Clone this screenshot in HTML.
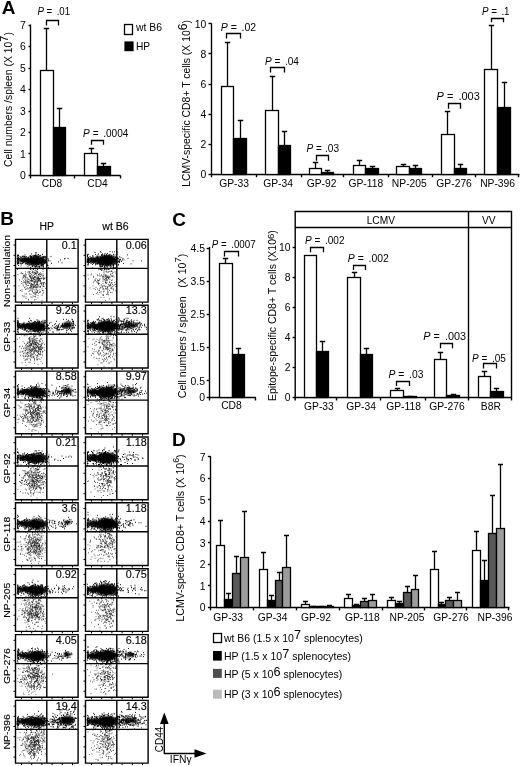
<!DOCTYPE html>
<html><head><meta charset="utf-8"><title>Figure</title>
<style>html,body{margin:0;padding:0;background:#fff}svg{display:block}text{font-family:"Liberation Sans", Arial, sans-serif;fill:#000}</style>
</head><body>
<svg width="520" height="766" viewBox="0 0 520 766">
<defs><filter id="bl" x="-20%" y="-50%" width="140%" height="200%"><feGaussianBlur stdDeviation="0.8"/></filter><filter id="bd" x="0" y="0" width="100%" height="100%"><feGaussianBlur stdDeviation="0.4"/></filter></defs>
<rect width="520" height="766" fill="#fff"/>
<text x="1.8" y="14" font-size="19" text-anchor="start" font-weight="bold">A</text>
<path d="M30.5 24.5L30.5 178.4" stroke="#000" stroke-width="1.4" fill="none"/>
<path d="M30 175.5L120.5 175.5" stroke="#000" stroke-width="1.4" fill="none"/>
<path d="M28.5 175.5L30.5 175.5" stroke="#000" stroke-width="1.4" fill="none"/>
<text x="25.9" y="178.9" font-size="10.4" text-anchor="end">0</text>
<path d="M28.5 153.5L30.5 153.5" stroke="#000" stroke-width="1.4" fill="none"/>
<text x="25.9" y="157.5" font-size="10.4" text-anchor="end">1</text>
<path d="M28.5 132.5L30.5 132.5" stroke="#000" stroke-width="1.4" fill="none"/>
<text x="25.9" y="136" font-size="10.4" text-anchor="end">2</text>
<path d="M28.5 111.5L30.5 111.5" stroke="#000" stroke-width="1.4" fill="none"/>
<text x="25.9" y="114.6" font-size="10.4" text-anchor="end">3</text>
<path d="M28.5 89.5L30.5 89.5" stroke="#000" stroke-width="1.4" fill="none"/>
<text x="25.9" y="93.1" font-size="10.4" text-anchor="end">4</text>
<path d="M28.5 68.5L30.5 68.5" stroke="#000" stroke-width="1.4" fill="none"/>
<text x="25.9" y="71.7" font-size="10.4" text-anchor="end">5</text>
<path d="M28.5 46.5L30.5 46.5" stroke="#000" stroke-width="1.4" fill="none"/>
<text x="25.9" y="50.2" font-size="10.4" text-anchor="end">6</text>
<path d="M28.5 25.5L30.5 25.5" stroke="#000" stroke-width="1.4" fill="none"/>
<text x="25.9" y="28.8" font-size="10.4" text-anchor="end">7</text>
<path d="M74.5 175.4L74.5 178.4" stroke="#000" stroke-width="1.4" fill="none"/>
<path d="M120.5 175.4L120.5 178.4" stroke="#000" stroke-width="1.4" fill="none"/>
<rect x="40.5" y="70.5" width="13" height="105" fill="#fff" stroke="#000" stroke-width="1.3"/>
<path d="M46.5 70.4V28.5M43.8 28.5H49.2" stroke="#000" stroke-width="1.3" fill="none"/>
<rect x="53.5" y="127.5" width="12" height="48" fill="#000" stroke="#000" stroke-width="1.3"/>
<path d="M59.5 127.9V108.5M56.8 108.5H62.2" stroke="#000" stroke-width="1.3" fill="none"/>
<rect x="84.5" y="153.5" width="13" height="22" fill="#fff" stroke="#000" stroke-width="1.3"/>
<path d="M91.5 153.4V148.5M88.8 148.5H94.2" stroke="#000" stroke-width="1.3" fill="none"/>
<rect x="97.5" y="166.5" width="13" height="9" fill="#000" stroke="#000" stroke-width="1.3"/>
<path d="M103.5 166.9V163.5M100.8 163.5H106.2" stroke="#000" stroke-width="1.3" fill="none"/>
<path d="M46.5 25.5V20.5H58.5V25.5" stroke="#000" stroke-width="1.3" fill="none"/>
<path d="M91.5 144.8V140.5H103.5V144.8" stroke="#000" stroke-width="1.3" fill="none"/>
<text transform="translate(37.4 15.1) scale(0.97 1)" font-size="10" text-anchor="start"><tspan font-style="italic">P</tspan> = <tspan dx="1.8">.01</tspan></text>
<text transform="translate(83.1 136.6) scale(1.009 1)" font-size="10" text-anchor="start"><tspan font-style="italic">P</tspan> = <tspan dx="1.8">.0004</tspan></text>
<text x="52" y="187.2" font-size="10.2" text-anchor="middle">CD8</text>
<text x="97.5" y="187.2" font-size="10.2" text-anchor="middle">CD4</text>
<text transform="translate(11.8 167) rotate(-90)" font-size="10.4" text-anchor="start">Cell numbers /spleen (X 10<tspan font-size="11" dy="-3.9">7</tspan><tspan dy="3.9">)</tspan></text>
<rect x="124.5" y="24.5" width="8" height="10" fill="#fff" stroke="#000" stroke-width="1.3"/>
<rect x="124.4" y="41.4" width="9.2" height="9.8" fill="#000"/>
<text transform="translate(136 31.2) scale(1.04 1)" font-size="10" text-anchor="start">wt B6</text>
<text x="136" y="49.8" font-size="10.2" text-anchor="start">HP</text>
<path d="M211.5 23.5L211.5 177.2" stroke="#000" stroke-width="1.4" fill="none"/>
<path d="M211.2 174.5L519.5 174.5" stroke="#000" stroke-width="1.4" fill="none"/>
<path d="M208.5 174.5L211.7 174.5" stroke="#000" stroke-width="1.4" fill="none"/>
<text x="206.3" y="177.8" font-size="10.4" text-anchor="end">0</text>
<path d="M208.5 144.5L211.7 144.5" stroke="#000" stroke-width="1.4" fill="none"/>
<text x="206.3" y="147.7" font-size="10.4" text-anchor="end">2</text>
<path d="M208.5 114.5L211.7 114.5" stroke="#000" stroke-width="1.4" fill="none"/>
<text x="206.3" y="117.7" font-size="10.4" text-anchor="end">4</text>
<path d="M208.5 84.5L211.7 84.5" stroke="#000" stroke-width="1.4" fill="none"/>
<text x="206.3" y="87.6" font-size="10.4" text-anchor="end">6</text>
<path d="M208.5 53.5L211.7 53.5" stroke="#000" stroke-width="1.4" fill="none"/>
<text x="206.3" y="57.6" font-size="10.4" text-anchor="end">8</text>
<path d="M208.5 23.5L211.7 23.5" stroke="#000" stroke-width="1.4" fill="none"/>
<text x="206.3" y="27.5" font-size="10.4" text-anchor="end">10</text>
<path d="M256.5 174.2L256.5 177.2" stroke="#000" stroke-width="1.4" fill="none"/>
<path d="M301.5 174.2L301.5 177.2" stroke="#000" stroke-width="1.4" fill="none"/>
<path d="M343.5 174.2L343.5 177.2" stroke="#000" stroke-width="1.4" fill="none"/>
<path d="M388.5 174.2L388.5 177.2" stroke="#000" stroke-width="1.4" fill="none"/>
<path d="M432.5 174.2L432.5 177.2" stroke="#000" stroke-width="1.4" fill="none"/>
<path d="M475.5 174.2L475.5 177.2" stroke="#000" stroke-width="1.4" fill="none"/>
<path d="M518.5 174.2L518.5 177.2" stroke="#000" stroke-width="1.4" fill="none"/>
<rect x="221.5" y="86.5" width="12" height="88" fill="#fff" stroke="#000" stroke-width="1.3"/>
<path d="M227.5 86.6V42.5M224.8 42.5H230.2" stroke="#000" stroke-width="1.3" fill="none"/>
<rect x="233.5" y="138.5" width="13" height="36" fill="#000" stroke="#000" stroke-width="1.3"/>
<path d="M240.5 138.5V120.5M237.8 120.5H243.2" stroke="#000" stroke-width="1.3" fill="none"/>
<text x="234.1" y="187.2" font-size="10.3" text-anchor="middle">GP-33</text>
<rect x="265.5" y="110.5" width="13" height="64" fill="#fff" stroke="#000" stroke-width="1.3"/>
<path d="M272.5 110V76.5M269.8 76.5H275.2" stroke="#000" stroke-width="1.3" fill="none"/>
<rect x="278.5" y="145.5" width="12" height="29" fill="#000" stroke="#000" stroke-width="1.3"/>
<path d="M284.5 145.2V131.5M281.8 131.5H287.2" stroke="#000" stroke-width="1.3" fill="none"/>
<text x="278.1" y="187.2" font-size="10.3" text-anchor="middle">GP-34</text>
<rect x="309.5" y="168.5" width="12" height="6" fill="#fff" stroke="#000" stroke-width="1.3"/>
<path d="M315.5 168.3V162.5M312.8 162.5H318.2" stroke="#000" stroke-width="1.3" fill="none"/>
<rect x="321.5" y="172.5" width="12" height="2" fill="#000" stroke="#000" stroke-width="1.3"/>
<path d="M327.5 172.8V170.5M324.8 170.5H330.2" stroke="#000" stroke-width="1.3" fill="none"/>
<text x="321.6" y="187.2" font-size="10.3" text-anchor="middle">GP-92</text>
<rect x="353.5" y="165.5" width="12" height="9" fill="#fff" stroke="#000" stroke-width="1.3"/>
<path d="M359.5 165.6V160.5M356.8 160.5H362.2" stroke="#000" stroke-width="1.3" fill="none"/>
<rect x="365.5" y="168.5" width="13" height="6" fill="#000" stroke="#000" stroke-width="1.3"/>
<path d="M372.5 168.3V166.5M369.8 166.5H375.2" stroke="#000" stroke-width="1.3" fill="none"/>
<text x="365.8" y="187.2" font-size="10.3" text-anchor="middle">GP-118</text>
<rect x="396.5" y="166.5" width="13" height="8" fill="#fff" stroke="#000" stroke-width="1.3"/>
<path d="M403.5 167V164.5M400.8 164.5H406.2" stroke="#000" stroke-width="1.3" fill="none"/>
<rect x="409.5" y="168.5" width="12" height="6" fill="#000" stroke="#000" stroke-width="1.3"/>
<path d="M415.5 168.3V165.5M412.8 165.5H418.2" stroke="#000" stroke-width="1.3" fill="none"/>
<text x="409.3" y="187.2" font-size="10.3" text-anchor="middle">NP-205</text>
<rect x="441.5" y="134.5" width="13" height="40" fill="#fff" stroke="#000" stroke-width="1.3"/>
<path d="M447.5 134.3V111.5M444.8 111.5H450.2" stroke="#000" stroke-width="1.3" fill="none"/>
<rect x="454.5" y="168.5" width="12" height="6" fill="#000" stroke="#000" stroke-width="1.3"/>
<path d="M460.5 168.3V164.5M457.8 164.5H463.2" stroke="#000" stroke-width="1.3" fill="none"/>
<text x="454.1" y="187.2" font-size="10.3" text-anchor="middle">GP-276</text>
<rect x="484.5" y="69.5" width="13" height="105" fill="#fff" stroke="#000" stroke-width="1.3"/>
<path d="M491.5 69.3V25.5M488.8 25.5H494.2" stroke="#000" stroke-width="1.3" fill="none"/>
<rect x="497.5" y="107.5" width="13" height="67" fill="#000" stroke="#000" stroke-width="1.3"/>
<path d="M504.5 107.8V82.5M501.8 82.5H507.2" stroke="#000" stroke-width="1.3" fill="none"/>
<text x="497.6" y="187.2" font-size="10.3" text-anchor="middle">NP-396</text>
<path d="M226.5 38.6V33.5H240.5V38.6" stroke="#000" stroke-width="1.3" fill="none"/>
<text transform="translate(220.7 30.6) scale(1.053 1)" font-size="10" text-anchor="start"><tspan font-style="italic">P</tspan> = <tspan dx="1.8">.02</tspan></text>
<path d="M270.5 72.6V67.5H284.5V72.6" stroke="#000" stroke-width="1.3" fill="none"/>
<text transform="translate(264.9 64.6) scale(1.007 1)" font-size="10" text-anchor="start"><tspan font-style="italic">P</tspan> = <tspan dx="1.8">.04</tspan></text>
<path d="M316.5 160.7V155.5H328.5V160.7" stroke="#000" stroke-width="1.3" fill="none"/>
<text transform="translate(306.5 152) scale(1.011 1)" font-size="10" text-anchor="start"><tspan font-style="italic">P</tspan> = <tspan dx="0.3">.03</tspan></text>
<path d="M448.5 108.8V103.5H460.5V108.8" stroke="#000" stroke-width="1.3" fill="none"/>
<text transform="translate(436.6 99.8) scale(1.1 1)" font-size="10" text-anchor="start"><tspan font-style="italic">P</tspan> = <tspan dx="1.8">.003</tspan></text>
<path d="M491.5 22.2V18.5H503.5V22.2" stroke="#000" stroke-width="1.3" fill="none"/>
<text transform="translate(481.9 14.7) scale(0.981 1)" font-size="10" text-anchor="start"><tspan font-style="italic">P</tspan> = <tspan dx="1.8">.1</tspan></text>
<text transform="translate(190.4 186.7) rotate(-90)" font-size="10.4" text-anchor="start">LCMV-specific CD8+ T cells (X 10<tspan font-size="12" dy="-3.1">6</tspan><tspan dy="3.1">)</tspan></text>
<text x="172.3" y="226.2" font-size="19" text-anchor="start" font-weight="bold">C</text>
<path d="M209.5 247L209.5 400.5" stroke="#000" stroke-width="1.4" fill="none"/>
<path d="M209.2 397.5L256 397.5" stroke="#000" stroke-width="1.4" fill="none"/>
<path d="M255.5 397.5L255.5 400.5" stroke="#000" stroke-width="1.4" fill="none"/>
<path d="M206.7 397.5L209.7 397.5" stroke="#000" stroke-width="1.4" fill="none"/>
<text x="205" y="401.1" font-size="10.4" text-anchor="end">0</text>
<path d="M206.7 380.5L209.7 380.5" stroke="#000" stroke-width="1.4" fill="none"/>
<text x="205" y="384.5" font-size="10.4" text-anchor="end">0.5</text>
<path d="M206.7 347.5L209.7 347.5" stroke="#000" stroke-width="1.4" fill="none"/>
<text x="205" y="351.3" font-size="10.4" text-anchor="end">1.5</text>
<path d="M206.7 314.5L209.7 314.5" stroke="#000" stroke-width="1.4" fill="none"/>
<text x="205" y="318.1" font-size="10.4" text-anchor="end">2.5</text>
<path d="M206.7 281.5L209.7 281.5" stroke="#000" stroke-width="1.4" fill="none"/>
<text x="205" y="284.9" font-size="10.4" text-anchor="end">3.5</text>
<path d="M206.7 248.5L209.7 248.5" stroke="#000" stroke-width="1.4" fill="none"/>
<text x="205" y="251.7" font-size="10.4" text-anchor="end">4.5</text>
<rect x="219.5" y="263.5" width="13" height="134" fill="#fff" stroke="#000" stroke-width="1.3"/>
<path d="M225.5 263.4V258.5M222.8 258.5H228.2" stroke="#000" stroke-width="1.3" fill="none"/>
<rect x="232.5" y="354.5" width="12" height="43" fill="#000" stroke="#000" stroke-width="1.3"/>
<path d="M238.5 354.3V348.5M235.8 348.5H241.2" stroke="#000" stroke-width="1.3" fill="none"/>
<path d="M224.5 256.5V251.5H238.5V256.5" stroke="#000" stroke-width="1.3" fill="none"/>
<text transform="translate(211.8 248.3) scale(0.977 1)" font-size="10" text-anchor="start"><tspan font-style="italic">P</tspan> = <tspan dx="1.8">.0007</tspan></text>
<text x="231.5" y="409.4" font-size="10.3" text-anchor="middle">CD8</text>
<text transform="translate(186.3 398.2) rotate(-90) scale(1.012 1)" font-size="10.4" text-anchor="start" xml:space="preserve">Cell numbers / spleen   (X 10<tspan font-size="9.5" dy="-5">7</tspan><tspan dy="5">)</tspan></text>
<text transform="translate(276 401) rotate(-90) scale(1.01 1)" font-size="10.4" text-anchor="start">Epitope-specific CD8+ T cells (X10<tspan font-size="9.5" dy="-2.2">6</tspan><tspan dy="2.2">)</tspan></text>
<path d="M295.2 400.5V211.5H511.5V397.5M295.2 227.5H511.5M468.5 211.5V400.5" stroke="#000" stroke-width="1.4" fill="none"/>
<path d="M294.7 397.5L511.7 397.5" stroke="#000" stroke-width="1.4" fill="none"/>
<text x="380.8" y="223.7" font-size="10.2" text-anchor="middle">LCMV</text>
<text x="488.8" y="223.7" font-size="10.2" text-anchor="middle">VV</text>
<path d="M292.6 397.5L295.2 397.5" stroke="#000" stroke-width="1.4" fill="none"/>
<text x="290.6" y="401.1" font-size="10.4" text-anchor="end">0</text>
<path d="M292.6 367.5L295.2 367.5" stroke="#000" stroke-width="1.4" fill="none"/>
<text x="290.6" y="371.1" font-size="10.4" text-anchor="end">2</text>
<path d="M292.6 337.5L295.2 337.5" stroke="#000" stroke-width="1.4" fill="none"/>
<text x="290.6" y="341.1" font-size="10.4" text-anchor="end">4</text>
<path d="M292.6 307.5L295.2 307.5" stroke="#000" stroke-width="1.4" fill="none"/>
<text x="290.6" y="311.1" font-size="10.4" text-anchor="end">6</text>
<path d="M292.6 277.5L295.2 277.5" stroke="#000" stroke-width="1.4" fill="none"/>
<text x="290.6" y="281.1" font-size="10.4" text-anchor="end">8</text>
<path d="M292.6 247.5L295.2 247.5" stroke="#000" stroke-width="1.4" fill="none"/>
<text x="290.6" y="251.1" font-size="10.4" text-anchor="end">10</text>
<path d="M336.5 397.5L336.5 400.5" stroke="#000" stroke-width="1.4" fill="none"/>
<path d="M380.5 397.5L380.5 400.5" stroke="#000" stroke-width="1.4" fill="none"/>
<path d="M425.5 397.5L425.5 400.5" stroke="#000" stroke-width="1.4" fill="none"/>
<path d="M511.5 397.5L511.5 400.5" stroke="#000" stroke-width="1.4" fill="none"/>
<rect x="304.5" y="255.5" width="12" height="142" fill="#fff" stroke="#000" stroke-width="1.3"/>
<rect x="316.5" y="351.5" width="12" height="46" fill="#000" stroke="#000" stroke-width="1.3"/>
<path d="M322.5 351.5V341.5M319.8 341.5H325.2" stroke="#000" stroke-width="1.3" fill="none"/>
<text x="318.9" y="409.8" font-size="10.3" text-anchor="middle">GP-33</text>
<rect x="347.5" y="277.5" width="13" height="120" fill="#fff" stroke="#000" stroke-width="1.3"/>
<path d="M354.5 277.6V272.5M351.8 272.5H357.2" stroke="#000" stroke-width="1.3" fill="none"/>
<rect x="360.5" y="354.5" width="12" height="43" fill="#000" stroke="#000" stroke-width="1.3"/>
<path d="M366.5 354.4V348.5M363.8 348.5H369.2" stroke="#000" stroke-width="1.3" fill="none"/>
<text x="361.1" y="409.8" font-size="10.3" text-anchor="middle">GP-34</text>
<rect x="390.5" y="390.5" width="13" height="7" fill="#fff" stroke="#000" stroke-width="1.3"/>
<path d="M397.5 390.4V388.5M394.8 388.5H400.2" stroke="#000" stroke-width="1.3" fill="none"/>
<rect x="403.5" y="396.5" width="13" height="1" fill="#000" stroke="#000" stroke-width="1.3"/>
<path d="M410.5 396.6V396.5M407.8 396.5H413.2" stroke="#000" stroke-width="1.3" fill="none"/>
<text x="403.6" y="409.8" font-size="10.3" text-anchor="middle">GP-118</text>
<rect x="434.5" y="359.5" width="12" height="38" fill="#fff" stroke="#000" stroke-width="1.3"/>
<path d="M440.5 359.6V352.5M437.8 352.5H443.2" stroke="#000" stroke-width="1.3" fill="none"/>
<rect x="446.5" y="395.5" width="13" height="2" fill="#000" stroke="#000" stroke-width="1.3"/>
<path d="M453.5 395.4V394.5M450.8 394.5H456.2" stroke="#000" stroke-width="1.3" fill="none"/>
<text x="446.9" y="409.8" font-size="10.3" text-anchor="middle">GP-276</text>
<rect x="478.5" y="376.5" width="12" height="21" fill="#fff" stroke="#000" stroke-width="1.3"/>
<path d="M484.5 376.9V371.5M481.8 371.5H487.2" stroke="#000" stroke-width="1.3" fill="none"/>
<rect x="490.5" y="391.5" width="13" height="6" fill="#000" stroke="#000" stroke-width="1.3"/>
<path d="M496.5 391.7V388.5M493.8 388.5H499.2" stroke="#000" stroke-width="1.3" fill="none"/>
<text x="490.8" y="409.8" font-size="10.3" text-anchor="middle">B8R</text>
<path d="M310.5 252.2V247.5H323.5V252.2" stroke="#000" stroke-width="1.3" fill="none"/>
<text transform="translate(305 244) scale(1.007 1)" font-size="10" text-anchor="start"><tspan font-style="italic">P</tspan> = <tspan dx="1.8">.002</tspan></text>
<path d="M353.5 269.9V265.5H365.5V269.9" stroke="#000" stroke-width="1.3" fill="none"/>
<text transform="translate(347.8 261.5) scale(1.043 1)" font-size="10" text-anchor="start"><tspan font-style="italic">P</tspan> = <tspan dx="1.8">.002</tspan></text>
<path d="M396.5 385.9V381.5H409.5V385.9" stroke="#000" stroke-width="1.3" fill="none"/>
<text transform="translate(388.5 378.3) scale(1.034 1)" font-size="10" text-anchor="start"><tspan font-style="italic">P</tspan> = <tspan dx="1.8">.03</tspan></text>
<path d="M440.5 348.2V343.5H452.5V348.2" stroke="#000" stroke-width="1.3" fill="none"/>
<text transform="translate(423.3 339.8) scale(1.088 1)" font-size="10" text-anchor="start"><tspan font-style="italic">P</tspan> = <tspan dx="1.8">.003</tspan></text>
<path d="M483.5 368.6V363.5H496.5V368.6" stroke="#000" stroke-width="1.3" fill="none"/>
<text transform="translate(472.1 361.6) scale(1.001 1)" font-size="10" text-anchor="start"><tspan font-style="italic">P</tspan> = <tspan dx="1.8">.05</tspan></text>
<text x="171.9" y="445.6" font-size="19" text-anchor="start" font-weight="bold">D</text>
<path d="M210.5 456.5L210.5 610.4" stroke="#000" stroke-width="1.4" fill="none"/>
<path d="M210.4 607.5L509.5 607.5" stroke="#000" stroke-width="1.4" fill="none"/>
<path d="M207.9 607.5L210.9 607.5" stroke="#000" stroke-width="1.4" fill="none"/>
<text x="205.5" y="611" font-size="10.4" text-anchor="end">0</text>
<path d="M207.9 585.5L210.9 585.5" stroke="#000" stroke-width="1.4" fill="none"/>
<text x="205.5" y="589.5" font-size="10.4" text-anchor="end">1</text>
<path d="M207.9 564.5L210.9 564.5" stroke="#000" stroke-width="1.4" fill="none"/>
<text x="205.5" y="568" font-size="10.4" text-anchor="end">2</text>
<path d="M207.9 542.5L210.9 542.5" stroke="#000" stroke-width="1.4" fill="none"/>
<text x="205.5" y="546.5" font-size="10.4" text-anchor="end">3</text>
<path d="M207.9 521.5L210.9 521.5" stroke="#000" stroke-width="1.4" fill="none"/>
<text x="205.5" y="525" font-size="10.4" text-anchor="end">4</text>
<path d="M207.9 499.5L210.9 499.5" stroke="#000" stroke-width="1.4" fill="none"/>
<text x="205.5" y="503.5" font-size="10.4" text-anchor="end">5</text>
<path d="M207.9 478.5L210.9 478.5" stroke="#000" stroke-width="1.4" fill="none"/>
<text x="205.5" y="482" font-size="10.4" text-anchor="end">6</text>
<path d="M207.9 456.5L210.9 456.5" stroke="#000" stroke-width="1.4" fill="none"/>
<text x="205.5" y="460.5" font-size="10.4" text-anchor="end">7</text>
<path d="M253.5 607.4L253.5 610.4" stroke="#000" stroke-width="1.4" fill="none"/>
<path d="M296.5 607.4L296.5 610.4" stroke="#000" stroke-width="1.4" fill="none"/>
<path d="M339.5 607.4L339.5 610.4" stroke="#000" stroke-width="1.4" fill="none"/>
<path d="M382.5 607.4L382.5 610.4" stroke="#000" stroke-width="1.4" fill="none"/>
<path d="M424.5 607.4L424.5 610.4" stroke="#000" stroke-width="1.4" fill="none"/>
<path d="M466.5 607.4L466.5 610.4" stroke="#000" stroke-width="1.4" fill="none"/>
<path d="M508.5 607.4L508.5 610.4" stroke="#000" stroke-width="1.4" fill="none"/>
<rect x="216.5" y="545.5" width="8" height="62" fill="#fff" stroke="#000" stroke-width="1.3"/>
<rect x="224.5" y="599.5" width="8" height="8" fill="#000" stroke="#000" stroke-width="1.3"/>
<rect x="232.5" y="573.5" width="8" height="34" fill="#595959" stroke="#000" stroke-width="1.3"/>
<rect x="240.5" y="557.5" width="8" height="50" fill="#9c9c9c" stroke="#000" stroke-width="1.3"/>
<path d="M220.5 545.3V520.5M218 520.5H223" stroke="#000" stroke-width="1.3" fill="none"/>
<path d="M228.5 599.3V593.5M226 593.5H231" stroke="#000" stroke-width="1.3" fill="none"/>
<path d="M236.5 573.3V556.5M234 556.5H239" stroke="#000" stroke-width="1.3" fill="none"/>
<path d="M244.5 557.4V511.5M242 511.5H247" stroke="#000" stroke-width="1.3" fill="none"/>
<text x="228.2" y="621.2" font-size="10.3" text-anchor="middle">GP-33</text>
<rect x="259.5" y="569.5" width="8" height="38" fill="#fff" stroke="#000" stroke-width="1.3"/>
<rect x="267.5" y="600.5" width="8" height="7" fill="#000" stroke="#000" stroke-width="1.3"/>
<rect x="275.5" y="580.5" width="7" height="27" fill="#595959" stroke="#000" stroke-width="1.3"/>
<rect x="282.5" y="567.5" width="8" height="40" fill="#9c9c9c" stroke="#000" stroke-width="1.3"/>
<path d="M263.5 569.9V552.5M261 552.5H266" stroke="#000" stroke-width="1.3" fill="none"/>
<path d="M271.5 601V595.5M269 595.5H274" stroke="#000" stroke-width="1.3" fill="none"/>
<path d="M279.5 581V572.5M277 572.5H282" stroke="#000" stroke-width="1.3" fill="none"/>
<path d="M286.5 567.8V535.5M284 535.5H289" stroke="#000" stroke-width="1.3" fill="none"/>
<text x="272.7" y="621.2" font-size="10.3" text-anchor="middle">GP-34</text>
<rect x="301.5" y="604.5" width="8" height="3" fill="#fff" stroke="#000" stroke-width="1.3"/>
<rect x="309.5" y="606.5" width="8" height="1" fill="#000" stroke="#000" stroke-width="1.3"/>
<rect x="317.5" y="606.5" width="8" height="1" fill="#595959" stroke="#000" stroke-width="1.3"/>
<rect x="325.5" y="606.5" width="8" height="1" fill="#9c9c9c" stroke="#000" stroke-width="1.3"/>
<path d="M305.5 604.5V601.5M303 601.5H308" stroke="#000" stroke-width="1.3" fill="none"/>
<path d="M313.5 606.8V606.5M311 606.5H316" stroke="#000" stroke-width="1.3" fill="none"/>
<path d="M321.5 606.9V606.5M319 606.5H324" stroke="#000" stroke-width="1.3" fill="none"/>
<path d="M329.5 606.5V605.5M327 605.5H332" stroke="#000" stroke-width="1.3" fill="none"/>
<text x="316" y="621.2" font-size="10.3" text-anchor="middle">GP-92</text>
<rect x="344.5" y="598.5" width="8" height="9" fill="#fff" stroke="#000" stroke-width="1.3"/>
<rect x="352.5" y="605.5" width="8" height="2" fill="#000" stroke="#000" stroke-width="1.3"/>
<rect x="360.5" y="601.5" width="8" height="6" fill="#595959" stroke="#000" stroke-width="1.3"/>
<rect x="368.5" y="600.5" width="8" height="7" fill="#9c9c9c" stroke="#000" stroke-width="1.3"/>
<path d="M348.5 599V594.5M346 594.5H351" stroke="#000" stroke-width="1.3" fill="none"/>
<path d="M356.5 605.2V604.5M354 604.5H359" stroke="#000" stroke-width="1.3" fill="none"/>
<path d="M364.5 601.6V598.5M362 598.5H367" stroke="#000" stroke-width="1.3" fill="none"/>
<path d="M372.5 600.1V594.5M370 594.5H375" stroke="#000" stroke-width="1.3" fill="none"/>
<text x="362.3" y="621.2" font-size="10.3" text-anchor="middle">GP-118</text>
<rect x="387.5" y="600.5" width="8" height="7" fill="#fff" stroke="#000" stroke-width="1.3"/>
<rect x="395.5" y="603.5" width="8" height="4" fill="#000" stroke="#000" stroke-width="1.3"/>
<rect x="403.5" y="592.5" width="8" height="15" fill="#595959" stroke="#000" stroke-width="1.3"/>
<rect x="411.5" y="589.5" width="7" height="18" fill="#9c9c9c" stroke="#000" stroke-width="1.3"/>
<path d="M391.5 600V597.5M389 597.5H394" stroke="#000" stroke-width="1.3" fill="none"/>
<path d="M399.5 603.4V601.5M397 601.5H402" stroke="#000" stroke-width="1.3" fill="none"/>
<path d="M407.5 592.8V586.5M405 586.5H410" stroke="#000" stroke-width="1.3" fill="none"/>
<path d="M415.5 589.9V575.5M413 575.5H418" stroke="#000" stroke-width="1.3" fill="none"/>
<text x="407" y="621.2" font-size="10.3" text-anchor="middle">NP-205</text>
<rect x="430.5" y="569.5" width="8" height="38" fill="#fff" stroke="#000" stroke-width="1.3"/>
<rect x="438.5" y="604.5" width="7" height="3" fill="#000" stroke="#000" stroke-width="1.3"/>
<rect x="445.5" y="600.5" width="8" height="7" fill="#595959" stroke="#000" stroke-width="1.3"/>
<rect x="453.5" y="600.5" width="8" height="7" fill="#9c9c9c" stroke="#000" stroke-width="1.3"/>
<path d="M434.5 569.8V551.5M432 551.5H437" stroke="#000" stroke-width="1.3" fill="none"/>
<path d="M441.5 604.5V602.5M439 602.5H444" stroke="#000" stroke-width="1.3" fill="none"/>
<path d="M449.5 600V597.5M447 597.5H452" stroke="#000" stroke-width="1.3" fill="none"/>
<path d="M457.5 600V592.5M455 592.5H460" stroke="#000" stroke-width="1.3" fill="none"/>
<text x="451.1" y="621.2" font-size="10.3" text-anchor="middle">GP-276</text>
<rect x="472.5" y="550.5" width="8" height="57" fill="#fff" stroke="#000" stroke-width="1.3"/>
<rect x="480.5" y="580.5" width="8" height="27" fill="#000" stroke="#000" stroke-width="1.3"/>
<rect x="488.5" y="533.5" width="8" height="74" fill="#595959" stroke="#000" stroke-width="1.3"/>
<rect x="496.5" y="528.5" width="8" height="79" fill="#9c9c9c" stroke="#000" stroke-width="1.3"/>
<path d="M476.5 550.8V531.5M474 531.5H479" stroke="#000" stroke-width="1.3" fill="none"/>
<path d="M484.5 580V560.5M482 560.5H487" stroke="#000" stroke-width="1.3" fill="none"/>
<path d="M492.5 533.3V495.5M490 495.5H495" stroke="#000" stroke-width="1.3" fill="none"/>
<path d="M500.5 528.9V464.5M498 464.5H503" stroke="#000" stroke-width="1.3" fill="none"/>
<text x="495" y="621.2" font-size="10.3" text-anchor="middle">NP-396</text>
<text transform="translate(183.7 621.6) rotate(-90) scale(1.015 1)" font-size="10.4" text-anchor="start">LCMV-specific CD8+ T cells (X 10<tspan font-size="8.8" dy="-5.2">6</tspan><tspan dy="5.2">)</tspan></text>
<rect x="213.5" y="633.5" width="8" height="9" fill="#fff" stroke="#000" stroke-width="1.3"/>
<rect x="213" y="651" width="8.8" height="9.6" fill="#000"/>
<rect x="213" y="668.9" width="8.8" height="9" fill="#4e4e4e"/>
<rect x="213" y="689.7" width="8.8" height="9" fill="#bababa"/>
<text transform="translate(223.9 641.5) scale(1.02 1)" font-size="10.3" text-anchor="start">wt B6 (1.5 x 10<tspan font-size="12.5" dy="-2.3">7</tspan><tspan dy="2.3"> splenocytes)</tspan></text>
<text transform="translate(224 659.8) scale(1.02 1)" font-size="10.3" text-anchor="start">HP (1.5 x 10<tspan font-size="12.5" dy="-2.3">7</tspan><tspan dy="2.3"> splenocytes)</tspan></text>
<text transform="translate(224 677.8) scale(1.02 1)" font-size="10.3" text-anchor="start">HP (5 x 10<tspan font-size="12.5" dy="-2.3">6</tspan><tspan dy="2.3"> splenocytes)</tspan></text>
<text transform="translate(224 697.9) scale(1.02 1)" font-size="10.3" text-anchor="start">HP (3 x 10<tspan font-size="12.5" dy="-2.3">6</tspan><tspan dy="2.3"> splenocytes)</tspan></text>
<path d="M164.3 723V753.5H195" stroke="#000" stroke-width="1.4" fill="none"/>
<path d="M164.3 712.5L160 724H168.6Z" fill="#000"/>
<path d="M206.5 753.5L194.5 749.2V757.8Z" fill="#000"/>
<text transform="translate(162.5 752.3) rotate(-90)" font-size="10" text-anchor="start">CD44</text>
<text x="169.8" y="763.3" font-size="10.3" text-anchor="start">IFNγ</text>
<text x="0.2" y="225" font-size="19" text-anchor="start" font-weight="bold">B</text>
<text transform="translate(46.8 229.8) scale(1.04 1)" font-size="10" text-anchor="middle" stroke="#000" stroke-width="0.12">HP</text>
<text transform="translate(115.5 229.8) scale(1.06 1)" font-size="10" text-anchor="middle" stroke="#000" stroke-width="0.12">wt B6</text>
<path d="M15.5 239.4H78.1V302.1H15.5ZM46.8 239.4V302.1M15.5 268.4H78.1" stroke="#000" stroke-width="1.4" fill="none"/>
<path d="M13.5 296.1h2M13.5 285.9h2M13.5 275.7h2M13.5 265.5h2M13.5 255.3h2M13.5 245.1h2M21.5 302.1v2M31.7 302.1v2M41.9 302.1v2M52.1 302.1v2M62.3 302.1v2M72.5 302.1v2" stroke="#000" stroke-width="1" fill="none"/>
<text transform="translate(76.8 248.5) scale(1.08 1)" font-size="10" text-anchor="end" stroke="#000" stroke-width="0.12">0.1</text>
<path d="M85.5 239.4H148.1V302.1H85.5ZM116.8 239.4V302.1M85.5 268.4H148.1" stroke="#000" stroke-width="1.4" fill="none"/>
<path d="M83.5 296.1h2M83.5 285.9h2M83.5 275.7h2M83.5 265.5h2M83.5 255.3h2M83.5 245.1h2M91.5 302.1v2M101.7 302.1v2M111.9 302.1v2M122.1 302.1v2M132.3 302.1v2M142.5 302.1v2" stroke="#000" stroke-width="1" fill="none"/>
<text transform="translate(146.8 248.5) scale(1.08 1)" font-size="10" text-anchor="end" stroke="#000" stroke-width="0.12">0.06</text>
<text transform="translate(10.2 270.9) rotate(-90) scale(1.06 1)" font-size="9.8" text-anchor="middle" stroke="#000" stroke-width="0.12">Non-stimulation</text>
<path d="M15.5 305.3H78.1V368H15.5ZM46.8 305.3V368M15.5 334.3H78.1" stroke="#000" stroke-width="1.4" fill="none"/>
<path d="M13.5 362h2M13.5 351.8h2M13.5 341.6h2M13.5 331.4h2M13.5 321.2h2M13.5 311h2M21.5 368v2M31.7 368v2M41.9 368v2M52.1 368v2M62.3 368v2M72.5 368v2" stroke="#000" stroke-width="1" fill="none"/>
<text transform="translate(76.8 314.4) scale(1.08 1)" font-size="10" text-anchor="end" stroke="#000" stroke-width="0.12">9.26</text>
<path d="M85.5 305.3H148.1V368H85.5ZM116.8 305.3V368M85.5 334.3H148.1" stroke="#000" stroke-width="1.4" fill="none"/>
<path d="M83.5 362h2M83.5 351.8h2M83.5 341.6h2M83.5 331.4h2M83.5 321.2h2M83.5 311h2M91.5 368v2M101.7 368v2M111.9 368v2M122.1 368v2M132.3 368v2M142.5 368v2" stroke="#000" stroke-width="1" fill="none"/>
<text transform="translate(146.8 314.4) scale(1.08 1)" font-size="10" text-anchor="end" stroke="#000" stroke-width="0.12">13.3</text>
<text transform="translate(10.2 336.8) rotate(-90) scale(1.06 1)" font-size="9.8" text-anchor="middle" stroke="#000" stroke-width="0.12">GP-33</text>
<path d="M15.5 371.1H78.1V433.8H15.5ZM46.8 371.1V433.8M15.5 400.1H78.1" stroke="#000" stroke-width="1.4" fill="none"/>
<path d="M13.5 427.8h2M13.5 417.6h2M13.5 407.4h2M13.5 397.2h2M13.5 387h2M13.5 376.8h2M21.5 433.8v2M31.7 433.8v2M41.9 433.8v2M52.1 433.8v2M62.3 433.8v2M72.5 433.8v2" stroke="#000" stroke-width="1" fill="none"/>
<text transform="translate(76.8 380.2) scale(1.08 1)" font-size="10" text-anchor="end" stroke="#000" stroke-width="0.12">8.58</text>
<path d="M85.5 371.1H148.1V433.8H85.5ZM116.8 371.1V433.8M85.5 400.1H148.1" stroke="#000" stroke-width="1.4" fill="none"/>
<path d="M83.5 427.8h2M83.5 417.6h2M83.5 407.4h2M83.5 397.2h2M83.5 387h2M83.5 376.8h2M91.5 433.8v2M101.7 433.8v2M111.9 433.8v2M122.1 433.8v2M132.3 433.8v2M142.5 433.8v2" stroke="#000" stroke-width="1" fill="none"/>
<text transform="translate(146.8 380.2) scale(1.08 1)" font-size="10" text-anchor="end" stroke="#000" stroke-width="0.12">9.97</text>
<text transform="translate(10.2 402.6) rotate(-90) scale(1.06 1)" font-size="9.8" text-anchor="middle" stroke="#000" stroke-width="0.12">GP-34</text>
<path d="M15.5 437H78.1V499.7H15.5ZM46.8 437V499.7M15.5 466H78.1" stroke="#000" stroke-width="1.4" fill="none"/>
<path d="M13.5 493.7h2M13.5 483.5h2M13.5 473.3h2M13.5 463.1h2M13.5 452.9h2M13.5 442.7h2M21.5 499.7v2M31.7 499.7v2M41.9 499.7v2M52.1 499.7v2M62.3 499.7v2M72.5 499.7v2" stroke="#000" stroke-width="1" fill="none"/>
<text transform="translate(76.8 446.1) scale(1.08 1)" font-size="10" text-anchor="end" stroke="#000" stroke-width="0.12">0.21</text>
<path d="M85.5 437H148.1V499.7H85.5ZM116.8 437V499.7M85.5 466H148.1" stroke="#000" stroke-width="1.4" fill="none"/>
<path d="M83.5 493.7h2M83.5 483.5h2M83.5 473.3h2M83.5 463.1h2M83.5 452.9h2M83.5 442.7h2M91.5 499.7v2M101.7 499.7v2M111.9 499.7v2M122.1 499.7v2M132.3 499.7v2M142.5 499.7v2" stroke="#000" stroke-width="1" fill="none"/>
<text transform="translate(146.8 446.1) scale(1.08 1)" font-size="10" text-anchor="end" stroke="#000" stroke-width="0.12">1.18</text>
<text transform="translate(10.2 468.5) rotate(-90) scale(1.06 1)" font-size="9.8" text-anchor="middle" stroke="#000" stroke-width="0.12">GP-92</text>
<path d="M15.5 502.8H78.1V565.5H15.5ZM46.8 502.8V565.5M15.5 531.8H78.1" stroke="#000" stroke-width="1.4" fill="none"/>
<path d="M13.5 559.5h2M13.5 549.3h2M13.5 539.1h2M13.5 528.9h2M13.5 518.7h2M13.5 508.5h2M21.5 565.5v2M31.7 565.5v2M41.9 565.5v2M52.1 565.5v2M62.3 565.5v2M72.5 565.5v2" stroke="#000" stroke-width="1" fill="none"/>
<text transform="translate(76.8 511.9) scale(1.08 1)" font-size="10" text-anchor="end" stroke="#000" stroke-width="0.12">3.6</text>
<path d="M85.5 502.8H148.1V565.5H85.5ZM116.8 502.8V565.5M85.5 531.8H148.1" stroke="#000" stroke-width="1.4" fill="none"/>
<path d="M83.5 559.5h2M83.5 549.3h2M83.5 539.1h2M83.5 528.9h2M83.5 518.7h2M83.5 508.5h2M91.5 565.5v2M101.7 565.5v2M111.9 565.5v2M122.1 565.5v2M132.3 565.5v2M142.5 565.5v2" stroke="#000" stroke-width="1" fill="none"/>
<text transform="translate(146.8 511.9) scale(1.08 1)" font-size="10" text-anchor="end" stroke="#000" stroke-width="0.12">1.18</text>
<text transform="translate(10.2 534.3) rotate(-90) scale(1.06 1)" font-size="9.8" text-anchor="middle" stroke="#000" stroke-width="0.12">GP-118</text>
<path d="M15.5 568.7H78.1V631.4H15.5ZM46.8 568.7V631.4M15.5 597.7H78.1" stroke="#000" stroke-width="1.4" fill="none"/>
<path d="M13.5 625.4h2M13.5 615.2h2M13.5 605h2M13.5 594.8h2M13.5 584.6h2M13.5 574.4h2M21.5 631.4v2M31.7 631.4v2M41.9 631.4v2M52.1 631.4v2M62.3 631.4v2M72.5 631.4v2" stroke="#000" stroke-width="1" fill="none"/>
<text transform="translate(76.8 577.8) scale(1.08 1)" font-size="10" text-anchor="end" stroke="#000" stroke-width="0.12">0.92</text>
<path d="M85.5 568.7H148.1V631.4H85.5ZM116.8 568.7V631.4M85.5 597.7H148.1" stroke="#000" stroke-width="1.4" fill="none"/>
<path d="M83.5 625.4h2M83.5 615.2h2M83.5 605h2M83.5 594.8h2M83.5 584.6h2M83.5 574.4h2M91.5 631.4v2M101.7 631.4v2M111.9 631.4v2M122.1 631.4v2M132.3 631.4v2M142.5 631.4v2" stroke="#000" stroke-width="1" fill="none"/>
<text transform="translate(146.8 577.8) scale(1.08 1)" font-size="10" text-anchor="end" stroke="#000" stroke-width="0.12">0.75</text>
<text transform="translate(10.2 600.2) rotate(-90) scale(1.06 1)" font-size="9.8" text-anchor="middle" stroke="#000" stroke-width="0.12">NP-205</text>
<path d="M15.5 634.6H78.1V697.3H15.5ZM46.8 634.6V697.3M15.5 663.6H78.1" stroke="#000" stroke-width="1.4" fill="none"/>
<path d="M13.5 691.3h2M13.5 681.1h2M13.5 670.9h2M13.5 660.7h2M13.5 650.5h2M13.5 640.3h2M21.5 697.3v2M31.7 697.3v2M41.9 697.3v2M52.1 697.3v2M62.3 697.3v2M72.5 697.3v2" stroke="#000" stroke-width="1" fill="none"/>
<text transform="translate(76.8 643.7) scale(1.08 1)" font-size="10" text-anchor="end" stroke="#000" stroke-width="0.12">4.05</text>
<path d="M85.5 634.6H148.1V697.3H85.5ZM116.8 634.6V697.3M85.5 663.6H148.1" stroke="#000" stroke-width="1.4" fill="none"/>
<path d="M83.5 691.3h2M83.5 681.1h2M83.5 670.9h2M83.5 660.7h2M83.5 650.5h2M83.5 640.3h2M91.5 697.3v2M101.7 697.3v2M111.9 697.3v2M122.1 697.3v2M132.3 697.3v2M142.5 697.3v2" stroke="#000" stroke-width="1" fill="none"/>
<text transform="translate(146.8 643.7) scale(1.08 1)" font-size="10" text-anchor="end" stroke="#000" stroke-width="0.12">6.18</text>
<text transform="translate(10.2 666.1) rotate(-90) scale(1.06 1)" font-size="9.8" text-anchor="middle" stroke="#000" stroke-width="0.12">GP-276</text>
<path d="M15.5 700.4H78.1V763.1H15.5ZM46.8 700.4V763.1M15.5 729.4H78.1" stroke="#000" stroke-width="1.4" fill="none"/>
<path d="M13.5 757.1h2M13.5 746.9h2M13.5 736.7h2M13.5 726.5h2M13.5 716.3h2M13.5 706.1h2M21.5 763.1v2M31.7 763.1v2M41.9 763.1v2M52.1 763.1v2M62.3 763.1v2M72.5 763.1v2" stroke="#000" stroke-width="1" fill="none"/>
<text transform="translate(76.8 709.5) scale(1.08 1)" font-size="10" text-anchor="end" stroke="#000" stroke-width="0.12">19.4</text>
<path d="M85.5 700.4H148.1V763.1H85.5ZM116.8 700.4V763.1M85.5 729.4H148.1" stroke="#000" stroke-width="1.4" fill="none"/>
<path d="M83.5 757.1h2M83.5 746.9h2M83.5 736.7h2M83.5 726.5h2M83.5 716.3h2M83.5 706.1h2M91.5 763.1v2M101.7 763.1v2M111.9 763.1v2M122.1 763.1v2M132.3 763.1v2M142.5 763.1v2" stroke="#000" stroke-width="1" fill="none"/>
<text transform="translate(146.8 709.5) scale(1.08 1)" font-size="10" text-anchor="end" stroke="#000" stroke-width="0.12">14.3</text>
<text transform="translate(10.2 731.9) rotate(-90) scale(1.06 1)" font-size="9.8" text-anchor="middle" stroke="#000" stroke-width="0.12">NP-396</text>
<g filter="url(#bl)" fill="#000"><ellipse cx="36.5" cy="260.9" rx="9.5" ry="4.3" fill-opacity="1.0"/><ellipse cx="25.5" cy="260.2" rx="8" ry="2" fill-opacity="1.0"/><ellipse cx="107" cy="260.4" rx="10" ry="5.2" fill-opacity="1.0"/><ellipse cx="95.5" cy="260.4" rx="8.5" ry="2.4" fill-opacity="1.0"/><ellipse cx="36.5" cy="326.8" rx="9.5" ry="4.3" fill-opacity="1.0"/><ellipse cx="25.5" cy="326.1" rx="8" ry="2" fill-opacity="1.0"/><ellipse cx="67.5" cy="325.1" rx="4.9" ry="2.9" fill-opacity="1.0"/><ellipse cx="107" cy="326.3" rx="10" ry="5.2" fill-opacity="1.0"/><ellipse cx="95.5" cy="326.3" rx="8.5" ry="2.4" fill-opacity="1.0"/><ellipse cx="130.5" cy="325.3" rx="6.6" ry="2.4" fill-opacity="0.9"/><ellipse cx="36.5" cy="392.6" rx="9.5" ry="4.3" fill-opacity="1.0"/><ellipse cx="25.5" cy="391.9" rx="8" ry="2" fill-opacity="1.0"/><ellipse cx="67.5" cy="390.9" rx="4.7" ry="2.8" fill-opacity="1.0"/><ellipse cx="107" cy="392.1" rx="10" ry="5.2" fill-opacity="1.0"/><ellipse cx="95.5" cy="392.1" rx="8.5" ry="2.4" fill-opacity="1.0"/><ellipse cx="130.5" cy="391.1" rx="5.7" ry="2.1" fill-opacity="0.9"/><ellipse cx="36.5" cy="458.5" rx="9.5" ry="4.3" fill-opacity="1.0"/><ellipse cx="25.5" cy="457.8" rx="8" ry="2" fill-opacity="1.0"/><ellipse cx="107" cy="458" rx="10" ry="5.2" fill-opacity="1.0"/><ellipse cx="95.5" cy="458" rx="8.5" ry="2.4" fill-opacity="1.0"/><ellipse cx="36.5" cy="524.3" rx="9.5" ry="4.3" fill-opacity="1.0"/><ellipse cx="25.5" cy="523.6" rx="8" ry="2" fill-opacity="1.0"/><ellipse cx="67.5" cy="522.6" rx="3" ry="1.8" fill-opacity="1.0"/><ellipse cx="107" cy="523.8" rx="10" ry="5.2" fill-opacity="1.0"/><ellipse cx="95.5" cy="523.8" rx="8.5" ry="2.4" fill-opacity="1.0"/><ellipse cx="36.5" cy="590.2" rx="9.5" ry="4.3" fill-opacity="1.0"/><ellipse cx="25.5" cy="589.5" rx="8" ry="2" fill-opacity="1.0"/><ellipse cx="107" cy="589.7" rx="10" ry="5.2" fill-opacity="1.0"/><ellipse cx="95.5" cy="589.7" rx="8.5" ry="2.4" fill-opacity="1.0"/><ellipse cx="36.5" cy="656.1" rx="9.5" ry="4.3" fill-opacity="1.0"/><ellipse cx="25.5" cy="655.4" rx="8" ry="2" fill-opacity="1.0"/><ellipse cx="67.5" cy="654.4" rx="3.2" ry="1.9" fill-opacity="1.0"/><ellipse cx="107" cy="655.6" rx="10" ry="5.2" fill-opacity="1.0"/><ellipse cx="95.5" cy="655.6" rx="8.5" ry="2.4" fill-opacity="1.0"/><ellipse cx="130.5" cy="654.6" rx="4.5" ry="1.6" fill-opacity="0.9"/><ellipse cx="36.5" cy="721.9" rx="9.5" ry="4.3" fill-opacity="1.0"/><ellipse cx="25.5" cy="721.2" rx="8" ry="2" fill-opacity="1.0"/><ellipse cx="67.5" cy="720.2" rx="7" ry="4.2" fill-opacity="1.0"/><ellipse cx="107" cy="721.4" rx="10" ry="5.2" fill-opacity="1.0"/><ellipse cx="95.5" cy="721.4" rx="8.5" ry="2.4" fill-opacity="1.0"/><ellipse cx="130.5" cy="720.4" rx="6.8" ry="2.5" fill-opacity="0.9"/></g>
<path filter="url(#bd)" d="M0 0m35 252.9h1m0 0h1m-6 1h1m6 0.5h1m3 0h1m-25.5 0.5h1m6 0h1m9.5 0h1m0.5 0h1m0.5 0h1m-22 0.5h1m-0.5 0h1m-0.5 0h1m13.5 0h1m0.5 0h1m0 0h1m4 0h1m-23 0.5h1m3.5 0h1m6 0h1m-0.5 0h1m2.5 0h1m-0.5 0h1m0 0h1m0 0h1m-0.5 0h1m1.5 0h1m-23 0.5h1m1.5 0h1m1.5 0h1m0.5 0h1m-0.5 0h1m-0.5 0h1m4.5 0h1m-0.5 0h1m-0.5 0h1m-0.5 0h1m0.5 0h1m0.5 0h1m0 0h1m0 0h1m0.5 0h1m0.5 0h1m2 0h1m1 0h1m0 0h1m4 0h1m-31 0.5h1m1.5 0h1m1.5 0h1m-0.5 0h1m1.5 0h1m1.5 0h1m3 0h1m0 0h1m0 0h1m4.5 0h1m-0.5 0h1m0 0h1m-0.5 0h1m-28 0.5h1m-0.5 0h1m1.5 0h1m3 0h1m2 0h1m1.5 0h1m2 0h1m-0.5 0h1m-0.5 0h1m2 0h1m3 0h1m1.5 0h1m0.5 0h1m-28.5 0.5h1m2 0h1m1 0h1m1 0h1m2.5 0h1m1.5 0h1m-0.5 0h1m-0.5 0h1m0 0h1m-0.5 0h1m-0.5 0h1m1.5 0h1m-0.5 0h1m0 0h1m-0.5 0h1m1 0h1m1 0h1m-0.5 0h1m-0.5 0h1m-27.5 0.5h1m-0.5 0h1m0 0h1m0 0h1m-0.5 0h1m1 0h1m1 0h1m-0.5 0h1m-0.5 0h1m-0.5 0h1m-0.5 0h1m-0.5 0h1m-0.5 0h1m-0.5 0h1m0 0h1m0.5 0h1m-0.5 0h1m-0.5 0h1m0.5 0h1m0 0h1m0 0h1m-0.5 0h1m0.5 0h1m-0.5 0h1m0 0h1m-0.5 0h1m-0.5 0h1m1.5 0h1m5.5 0h1m16 0h1m2 0h1m-51.5 0.5h1m0 0h1m2.5 0h1m-0.5 0h1m0 0h1m-0.5 0h1m0 0h1m-0.5 0h1m0 0h1m-0.5 0h1m-0.5 0h1m-0.5 0h1m-0.5 0h1m1 0h1m0 0h1m0.5 0h1m-0.5 0h1m0 0h1m0 0h1m-0.5 0h1m0 0h1m-0.5 0h1m0 0h1m0 0h1m0 0h1m0 0h1m-0.5 0h1m-0.5 0h1m0 0h1m1 0h1m18 0h1m-48 0.5h1m-0.5 0h1m-0.5 0h1m4.5 0h1m-0.5 0h1m-0.5 0h1m-0.5 0h1m0 0h1m-0.5 0h1m-0.5 0h1m0 0h1m0.5 0h1m0 0h1m-0.5 0h1m-0.5 0h1m0.5 0h1m1 0h1m-0.5 0h1m-0.5 0h1m0.5 0h1m-0.5 0h1m0 0h1m-0.5 0h1m-0.5 0h1m-0.5 0h1m-0.5 0h1m2 0h1m-27.5 0.5h1m0 0h1m0 0h1m-0.5 0h1m-0.5 0h1m0 0h1m-0.5 0h1m-0.5 0h1m0.5 0h1m0 0h1m0.5 0h1m-0.5 0h1m-0.5 0h1m-0.5 0h1m-0.5 0h1m-0.5 0h1m-0.5 0h1m-0.5 0h1m-0.5 0h1m1 0h1m-0.5 0h1m-0.5 0h1m-0.5 0h1m-0.5 0h1m-0.5 0h1m-0.5 0h1m-0.5 0h1m0 0h1m0 0h1m0.5 0h1m-0.5 0h1m-0.5 0h1m4 0h1m1.5 0h1m11 0h1m-44 0.5h1m2 0h1m-0.5 0h1m1 0h1m-0.5 0h1m-0.5 0h1m-0.5 0h1m-0.5 0h1m-0.5 0h1m-0.5 0h1m0 0h1m-0.5 0h1m-0.5 0h1m0 0h1m-0.5 0h1m0 0h1m1 0h1m0.5 0h1m-0.5 0h1m-0.5 0h1m-0.5 0h1m-0.5 0h1m-0.5 0h1m-0.5 0h1m0 0h1m-0.5 0h1m0.5 0h1m-0.5 0h1m-0.5 0h1m1.5 0h1m1 0h1m-29 0.5h1m0 0h1m1.5 0h1m1.5 0h1m-0.5 0h1m-0.5 0h1m-0.5 0h1m0 0h1m0 0h1m0 0h1m0 0h1m-0.5 0h1m-0.5 0h1m0.5 0h1m-0.5 0h1m0 0h1m-0.5 0h1m-0.5 0h1m-0.5 0h1m-0.5 0h1m-0.5 0h1m-0.5 0h1m-0.5 0h1m-0.5 0h1m-0.5 0h1m-0.5 0h1m0.5 0h1m-0.5 0h1m-0.5 0h1m-0.5 0h1m1 0h1m1 0h1m-0.5 0h1m-0.5 0h1m1.5 0h1m0.5 0h1m-29.5 0.5h1m1 0h1m0 0h1m-0.5 0h1m0.5 0h1m0.5 0h1m-0.5 0h1m-0.5 0h1m-0.5 0h1m0 0h1m-0.5 0h1m0.5 0h1m-0.5 0h1m0.5 0h1m0 0h1m-0.5 0h1m0 0h1m0 0h1m0.5 0h1m0 0h1m-0.5 0h1m0 0h1m-0.5 0h1m-0.5 0h1m0 0h1m-0.5 0h1m-28.5 0.5h1m0 0h1m-0.5 0h1m0.5 0h1m1.5 0h1m-0.5 0h1m0.5 0h1m-0.5 0h1m0 0h1m1 0h1m-0.5 0h1m-0.5 0h1m-0.5 0h1m0 0h1m1 0h1m0 0h1m0 0h1m0 0h1m-0.5 0h1m-0.5 0h1m-0.5 0h1m-0.5 0h1m1 0h1m0 0h1m-0.5 0h1m-0.5 0h1m-0.5 0h1m-0.5 0h1m0.5 0h1m0.5 0h1m0 0h1m11 0h1m-42 0.5h1m0 0h1m4 0h1m1.5 0h1m0.5 0h1m-0.5 0h1m-0.5 0h1m0 0h1m1 0h1m-0.5 0h1m2 0h1m-0.5 0h1m-0.5 0h1m0 0h1m0 0h1m1.5 0h1m0 0h1m-0.5 0h1m1.5 0h1m0 0h1m-29 0.5h1m0 0h1m3.5 0h1m3.5 0h1m-0.5 0h1m0 0h1m-0.5 0h1m-0.5 0h1m2.5 0h1m0.5 0h1m-0.5 0h1m-0.5 0h1m-0.5 0h1m-0.5 0h1m-0.5 0h1m0.5 0h1m0.5 0h1m0 0h1m1 0h1m1 0h1m15.5 0h1m-45.5 0.5h1m-0.5 0h1m-0.5 0h1m-0.5 0h1m0.5 0h1m1 0h1m2.5 0h1m-0.5 0h1m4 0h1m0 0h1m-0.5 0h1m0 0h1m0.5 0h1m0.5 0h1m-0.5 0h1m3 0h1m1.5 0h1m-0.5 0h1m6 0h1m-35 0.5h1m-0.5 0h1m2 0h1m-0.5 0h1m3 0h1m1 0h1m0 0h1m0.5 0h1m0.5 0h1m0 0h1m-0.5 0h1m-0.5 0h1m1 0h1m1 0h1m-0.5 0h1m2.5 0h1m0 0h1m-15.5 0.5h1m1 0h1m0.5 0h1m2.5 0h1m-0.5 0h1m0.5 0h1m0 0h1m-0.5 0h1m2.5 0h1m0 0h1m-0.5 0h1m2.5 0h1m-21 0.5h1m2 0h1m2 0h1m2 0h1m4.5 0h1m0 0h1m-25 0.5h1m9.5 0h1m3 0h1m2.5 0h1m3.5 0h1m-0.5 0h1m-0.5 0h1m0 0h1m3.5 0h1m-0.5 0h1m-28 0.5h1m10 0h1m0 0h1m0.5 0h1m7.5 0h1m-11.5 0.5h1m1.5 0h1m-0.5 0h1m0 0h1m1.5 0h1m-0.5 0h1m3 0h1m-16.5 0.5h1m6.5 0h1m0.5 0h1m0 0h1m2 0h1m0 0h1m-12.5 0.5h1m8 0h1m8 0h1m-14.5 0.5h1m7.5 0h1m-22.5 0.5h1m3 0h1m12.5 0h1m-23 1h1m12 0h1m2 0h1m3 0h1m4.5 0h1M0 0m100 251.4h1m8.5 0h1m6 0h1m-5.5 0.5h1m1 0h1m-20.5 0.5h1m5 0h1m15 0.5h1m-13 0.5h1m1.5 0h1m-10 0.5h1m3 0h1m-16 0.5h1m0 0h1m6 0h1m10 0h1m2.5 0h1m2.5 0h1m2.5 0h1m-20 0.5h1m2.5 0h1m-0.5 0h1m-0.5 0h1m1 0h1m4 0h1m4.5 0h1m11.5 0h1m-41 0.5h1m13 0h1m0.5 0h1m0.5 0h1m2.5 0h1m-0.5 0h1m-0.5 0h1m1.5 0h1m-25 0.5h1m4 0h1m-0.5 0h1m3 0h1m6.5 0h1m-0.5 0h1m-0.5 0h1m-0.5 0h1m-0.5 0h1m-0.5 0h1m0 0h1m-0.5 0h1m0 0h1m0.5 0h1m1 0h1m-26.5 0.5h1m1.5 0h1m7 0h1m1 0h1m1.5 0h1m-0.5 0h1m0.5 0h1m-0.5 0h1m3.5 0h1m0.5 0h1m2 0h1m-27.5 0.5h1m4.5 0h1m2 0h1m0 0h1m-0.5 0h1m1.5 0h1m0 0h1m2 0h1m0 0h1m0 0h1m0 0h1m-0.5 0h1m-0.5 0h1m0.5 0h1m0 0h1m-0.5 0h1m0 0h1m0.5 0h1m1 0h1m3 0h1m-32 0.5h1m7 0h1m0 0h1m-0.5 0h1m-0.5 0h1m1 0h1m0 0h1m0 0h1m0 0h1m0.5 0h1m0 0h1m0 0h1m-0.5 0h1m0.5 0h1m1 0h1m-0.5 0h1m-0.5 0h1m2.5 0h1m1 0h1m2.5 0h1m-34 0.5h1m1.5 0h1m0 0h1m-0.5 0h1m0 0h1m0 0h1m1 0h1m4 0h1m-0.5 0h1m-0.5 0h1m-0.5 0h1m-0.5 0h1m0 0h1m-0.5 0h1m-0.5 0h1m-0.5 0h1m0 0h1m0 0h1m0.5 0h1m-0.5 0h1m2 0h1m0 0h1m-0.5 0h1m-27.5 0.5h1m0 0h1m-0.5 0h1m0 0h1m0 0h1m1.5 0h1m0 0h1m0 0h1m-0.5 0h1m0.5 0h1m0 0h1m0 0h1m-0.5 0h1m1.5 0h1m1 0h1m-0.5 0h1m0 0h1m-0.5 0h1m0 0h1m0.5 0h1m-0.5 0h1m-0.5 0h1m-0.5 0h1m1 0h1m3.5 0h1m-0.5 0h1m0 0h1m3.5 0h1m4 0h1m-38.5 0.5h1m-0.5 0h1m-0.5 0h1m0 0h1m0.5 0h1m-0.5 0h1m-0.5 0h1m-0.5 0h1m0.5 0h1m-0.5 0h1m1 0h1m0 0h1m-0.5 0h1m0.5 0h1m0.5 0h1m-0.5 0h1m-0.5 0h1m-0.5 0h1m0 0h1m-0.5 0h1m-0.5 0h1m-0.5 0h1m-0.5 0h1m-0.5 0h1m-0.5 0h1m1 0h1m-0.5 0h1m1.5 0h1m-0.5 0h1m0.5 0h1m0 0h1m-31 0.5h1m0 0h1m-0.5 0h1m-0.5 0h1m1 0h1m0.5 0h1m-0.5 0h1m-0.5 0h1m0.5 0h1m0 0h1m-0.5 0h1m0.5 0h1m-0.5 0h1m-0.5 0h1m0.5 0h1m0 0h1m-0.5 0h1m-0.5 0h1m1.5 0h1m0 0h1m-0.5 0h1m1 0h1m-0.5 0h1m0 0h1m-0.5 0h1m-0.5 0h1m0 0h1m-0.5 0h1m1 0h1m0 0h1m1 0h1m1 0h1m-0.5 0h1m-33.5 0.5h1m3.5 0h1m-0.5 0h1m-0.5 0h1m0.5 0h1m-0.5 0h1m-0.5 0h1m-0.5 0h1m0 0h1m-0.5 0h1m0 0h1m-0.5 0h1m0 0h1m0 0h1m0.5 0h1m2 0h1m-0.5 0h1m-0.5 0h1m-0.5 0h1m-0.5 0h1m0.5 0h1m-0.5 0h1m2 0h1m-0.5 0h1m0.5 0h1m0.5 0h1m2 0h1m2 0h1m0.5 0h1m-37.5 0.5h1m-0.5 0h1m-0.5 0h1m3 0h1m0 0h1m-0.5 0h1m1 0h1m0.5 0h1m0.5 0h1m0 0h1m-0.5 0h1m-0.5 0h1m-0.5 0h1m0 0h1m2 0h1m-0.5 0h1m-0.5 0h1m-0.5 0h1m-0.5 0h1m0 0h1m-0.5 0h1m-0.5 0h1m0.5 0h1m1 0h1m-0.5 0h1m-0.5 0h1m0 0h1m-28.5 0.5h1m-0.5 0h1m-0.5 0h1m-0.5 0h1m2 0h1m0 0h1m1 0h1m-0.5 0h1m-0.5 0h1m0.5 0h1m-0.5 0h1m-0.5 0h1m-0.5 0h1m-0.5 0h1m-0.5 0h1m0.5 0h1m0 0h1m0 0h1m-0.5 0h1m-0.5 0h1m-0.5 0h1m-0.5 0h1m-0.5 0h1m-0.5 0h1m-0.5 0h1m-0.5 0h1m-0.5 0h1m0 0h1m0.5 0h1m0 0h1m-0.5 0h1m-0.5 0h1m0 0h1m-0.5 0h1m0 0h1m-0.5 0h1m1.5 0h1m0.5 0h1m0.5 0h1m11 0h1m7.5 0h1m-54 0.5h1m1 0h1m-0.5 0h1m-0.5 0h1m1 0h1m0 0h1m0 0h1m-0.5 0h1m0 0h1m0 0h1m0 0h1m0 0h1m-0.5 0h1m-0.5 0h1m0 0h1m0 0h1m0 0h1m0 0h1m0.5 0h1m0 0h1m-0.5 0h1m-0.5 0h1m-0.5 0h1m0 0h1m3 0h1m0.5 0h1m2 0h1m0 0h1m1 0h1m-35.5 0.5h1m-0.5 0h1m-0.5 0h1m-0.5 0h1m1.5 0h1m2 0h1m-0.5 0h1m0 0h1m0 0h1m-0.5 0h1m-0.5 0h1m-0.5 0h1m1 0h1m-0.5 0h1m-0.5 0h1m1 0h1m0 0h1m-0.5 0h1m-0.5 0h1m0 0h1m0 0h1m1 0h1m0 0h1m-0.5 0h1m0 0h1m2 0h1m0 0h1m0 0h1m-0.5 0h1m0.5 0h1m-32 0.5h1m-0.5 0h1m0.5 0h1m-0.5 0h1m1 0h1m-0.5 0h1m0.5 0h1m0 0h1m2.5 0h1m0 0h1m0 0h1m-0.5 0h1m-0.5 0h1m-0.5 0h1m0 0h1m1.5 0h1m-0.5 0h1m-0.5 0h1m-0.5 0h1m-0.5 0h1m-0.5 0h1m-0.5 0h1m-0.5 0h1m-0.5 0h1m-0.5 0h1m0 0h1m1 0h1m0 0h1m1 0h1m-0.5 0h1m0 0h1m1 0h1m-32.5 0.5h1m-0.5 0h1m8.5 0h1m-0.5 0h1m-0.5 0h1m-0.5 0h1m-0.5 0h1m1 0h1m1 0h1m0.5 0h1m0 0h1m-0.5 0h1m0 0h1m-0.5 0h1m0 0h1m-0.5 0h1m-0.5 0h1m2 0h1m2 0h1m-26.5 0.5h1m1.5 0h1m1.5 0h1m0.5 0h1m-0.5 0h1m1 0h1m-0.5 0h1m-0.5 0h1m0.5 0h1m3.5 0h1m-0.5 0h1m1 0h1m-0.5 0h1m0 0h1m-0.5 0h1m-0.5 0h1m1.5 0h1m8 0h1m-36 0.5h1m6 0h1m0 0h1m0 0h1m-0.5 0h1m0.5 0h1m1.5 0h1m0 0h1m-0.5 0h1m-0.5 0h1m0.5 0h1m-0.5 0h1m-0.5 0h1m-0.5 0h1m-0.5 0h1m-0.5 0h1m-0.5 0h1m-0.5 0h1m0.5 0h1m-0.5 0h1m-0.5 0h1m2.5 0h1m-0.5 0h1m0 0h1m13.5 0h1m-39.5 0.5h1m6.5 0h1m-0.5 0h1m0 0h1m0.5 0h1m1.5 0h1m0.5 0h1m-0.5 0h1m0 0h1m0.5 0h1m2 0h1m-0.5 0h1m4 0h1m-32 0.5h1m0 0h1m6 0h1m3 0h1m0 0h1m-0.5 0h1m1 0h1m0 0h1m0.5 0h1m0.5 0h1m2 0h1m2 0h1m-0.5 0h1m-0.5 0h1m1.5 0h1m-15.5 0.5h1m-0.5 0h1m2.5 0h1m0 0h1m0.5 0h1m1 0h1m2 0h1m3.5 0h1m-19 0.5h1m3.5 0h1m0.5 0h1m0 0h1m2 0h1m1 0h1m-13 0.5h1m-0.5 0h1m0 0h1m0 0h1m1 0h1m5.5 0h1m1.5 0h1m2 0h1m-13 0.5h1m1.5 0h1m-0.5 0h1m-3.5 0.5h1m7.5 0h1m-22 0.5h1m7.5 0h1m2 0h1m0 0h1m4.5 0h1m-0.5 0h1m1 0h1m0.5 0h1m0 0h1m-10 0.5h1m4.5 0h1m0.5 0h1m-10 0.5h1m3 0h1m3.5 0h1m-15 0.5h1m0.5 0h1m-0.5 0h1m0 0h1m1.5 0h1m0.5 0h1m1 0h1m0 0h1M0 0m17.5 318.3h1m10.5 0h1m33 1h1m2 0h1m4.5 0h1m-36 0.5h1m34.5 0h1m-55.5 0.5h1m11.5 0h1m6.5 0h1m4 0h1m1 0h1m22.5 0h1m-52 0.5h1m13 0h1m12.5 0h1m-27.5 0.5h1m9.5 0h1m4.5 0h1m2 0h1m0.5 0h1m-0.5 0h1m4.5 0h1m10.5 0h1m10.5 0h1m1 0h1m1.5 0h1m-0.5 0h1m-0.5 0h1m-57 0.5h1m10 0h1m5.5 0h1m-0.5 0h1m3 0h1m1 0h1m-0.5 0h1m0 0h1m23 0h1m5.5 0h1m-57 0.5h1m0 0h1m4.5 0h1m11 0h1m1 0h1m-0.5 0h1m-0.5 0h1m-0.5 0h1m-0.5 0h1m3 0h1m-0.5 0h1m5.5 0h1m21.5 0h1m-57 0.5h1m-0.5 0h1m10.5 0h1m2.5 0h1m-0.5 0h1m0 0h1m1 0h1m0 0h1m0.5 0h1m-0.5 0h1m2.5 0h1m1 0h1m-0.5 0h1m23 0h1m0.5 0h1m-54.5 0.5h1m0 0h1m8 0h1m2 0h1m0.5 0h1m0 0h1m0.5 0h1m-0.5 0h1m1.5 0h1m0.5 0h1m1 0h1m2.5 0h1m4 0h1m14.5 0h1m1 0h1m1 0h1m2 0h1m0.5 0h1m-57 0.5h1m-0.5 0h1m0 0h1m-0.5 0h1m-0.5 0h1m0 0h1m1 0h1m-0.5 0h1m-0.5 0h1m1.5 0h1m0.5 0h1m-0.5 0h1m-0.5 0h1m-0.5 0h1m1 0h1m-0.5 0h1m0 0h1m0 0h1m-0.5 0h1m0.5 0h1m-0.5 0h1m-0.5 0h1m0.5 0h1m-0.5 0h1m3.5 0h1m11 0h1m3 0h1m2 0h1m1.5 0h1m-0.5 0h1m1.5 0h1m4 0h1m-0.5 0h1m-57 0.5h1m-0.5 0h1m0.5 0h1m1.5 0h1m-0.5 0h1m0 0h1m0 0h1m-0.5 0h1m0.5 0h1m-0.5 0h1m0 0h1m4 0h1m0.5 0h1m0 0h1m0.5 0h1m0.5 0h1m0 0h1m0.5 0h1m0 0h1m-0.5 0h1m-0.5 0h1m18.5 0h1m10.5 0h1m-57.5 0.5h1m-0.5 0h1m0 0h1m1 0h1m0.5 0h1m0 0h1m-0.5 0h1m0.5 0h1m0.5 0h1m0 0h1m0 0h1m-0.5 0h1m-0.5 0h1m0 0h1m-0.5 0h1m-0.5 0h1m-0.5 0h1m0 0h1m0 0h1m-0.5 0h1m-0.5 0h1m0.5 0h1m-0.5 0h1m-0.5 0h1m-0.5 0h1m2 0h1m1.5 0h1m1.5 0h1m0 0h1m6 0h1m3 0h1m8 0h1m-51 0.5h1m0.5 0h1m1 0h1m-0.5 0h1m-0.5 0h1m-0.5 0h1m-0.5 0h1m1.5 0h1m0 0h1m-0.5 0h1m-0.5 0h1m1 0h1m0 0h1m-0.5 0h1m0 0h1m-0.5 0h1m-0.5 0h1m0 0h1m0 0h1m-0.5 0h1m-0.5 0h1m-0.5 0h1m0 0h1m-0.5 0h1m-0.5 0h1m-0.5 0h1m0 0h1m2 0h1m-0.5 0h1m-0.5 0h1m2.5 0h1m0 0h1m8.5 0h1m2.5 0h1m0 0h1m1 0h1m-0.5 0h1m-0.5 0h1m0.5 0h1m0 0h1m1 0h1m1.5 0h1m2 0h1m-59 0.5h1m-0.5 0h1m-0.5 0h1m0 0h1m-0.5 0h1m1 0h1m0.5 0h1m-0.5 0h1m0 0h1m0 0h1m0 0h1m0 0h1m0 0h1m-0.5 0h1m-0.5 0h1m0 0h1m-0.5 0h1m2 0h1m-0.5 0h1m-0.5 0h1m0 0h1m0 0h1m0.5 0h1m-0.5 0h1m0.5 0h1m0.5 0h1m-0.5 0h1m0 0h1m2 0h1m4.5 0h1m3 0h1m1 0h1m1.5 0h1m0.5 0h1m-0.5 0h1m-0.5 0h1m0 0h1m4.5 0h1m-0.5 0h1m1.5 0h1m-0.5 0h1m-57 0.5h1m2 0h1m-0.5 0h1m-0.5 0h1m0.5 0h1m-0.5 0h1m-0.5 0h1m0 0h1m0.5 0h1m-0.5 0h1m1 0h1m-0.5 0h1m-0.5 0h1m0.5 0h1m1 0h1m-0.5 0h1m-0.5 0h1m-0.5 0h1m-0.5 0h1m-0.5 0h1m-0.5 0h1m0 0h1m-0.5 0h1m-0.5 0h1m0 0h1m0 0h1m5.5 0h1m10.5 0h1m2 0h1m-0.5 0h1m0 0h1m1 0h1m0.5 0h1m-0.5 0h1m-0.5 0h1m1 0h1m-52.5 0.5h1m-0.5 0h1m-0.5 0h1m0 0h1m0 0h1m0.5 0h1m-0.5 0h1m0 0h1m-0.5 0h1m-0.5 0h1m-0.5 0h1m-0.5 0h1m-0.5 0h1m0 0h1m1.5 0h1m-0.5 0h1m-0.5 0h1m0 0h1m0.5 0h1m0 0h1m-0.5 0h1m-0.5 0h1m0.5 0h1m-0.5 0h1m-0.5 0h1m0.5 0h1m-0.5 0h1m2 0h1m-0.5 0h1m0 0h1m0.5 0h1m0.5 0h1m7 0h1m1 0h1m-0.5 0h1m2 0h1m1.5 0h1m-0.5 0h1m0.5 0h1m-48.5 0.5h1m-0.5 0h1m-0.5 0h1m-0.5 0h1m0 0h1m-0.5 0h1m0 0h1m2.5 0h1m-0.5 0h1m0 0h1m0.5 0h1m0 0h1m0.5 0h1m-0.5 0h1m0 0h1m-0.5 0h1m0 0h1m-0.5 0h1m0.5 0h1m0 0h1m-0.5 0h1m-0.5 0h1m0.5 0h1m0.5 0h1m-0.5 0h1m-0.5 0h1m0 0h1m10 0h1m2.5 0h1m-0.5 0h1m0 0h1m0.5 0h1m1 0h1m8.5 0h1m0.5 0h1m0 0h1m-57.5 0.5h1m-0.5 0h1m2.5 0h1m-0.5 0h1m0.5 0h1m-0.5 0h1m-0.5 0h1m-0.5 0h1m1 0h1m0 0h1m1 0h1m0.5 0h1m0 0h1m0 0h1m-0.5 0h1m-0.5 0h1m-0.5 0h1m-0.5 0h1m-0.5 0h1m-0.5 0h1m-0.5 0h1m-0.5 0h1m-0.5 0h1m-0.5 0h1m0.5 0h1m0 0h1m0 0h1m0 0h1m4 0h1m1.5 0h1m2.5 0h1m1.5 0h1m6 0h1m0 0h1m1 0h1m1.5 0h1m2 0h1m-55.5 0.5h1m0 0h1m0.5 0h1m4.5 0h1m-0.5 0h1m0.5 0h1m0.5 0h1m-0.5 0h1m-0.5 0h1m0 0h1m0 0h1m-0.5 0h1m0 0h1m1 0h1m-0.5 0h1m0 0h1m-0.5 0h1m-0.5 0h1m-0.5 0h1m1 0h1m0 0h1m-0.5 0h1m-0.5 0h1m0.5 0h1m0 0h1m0 0h1m0.5 0h1m0.5 0h1m5 0h1m0 0h1m-0.5 0h1m-0.5 0h1m5.5 0h1m1 0h1m0 0h1m1.5 0h1m3.5 0h1m-53 0.5h1m-0.5 0h1m1 0h1m-0.5 0h1m-0.5 0h1m2 0h1m-0.5 0h1m-0.5 0h1m-0.5 0h1m-0.5 0h1m-0.5 0h1m2 0h1m0 0h1m1 0h1m-0.5 0h1m1 0h1m0 0h1m-0.5 0h1m0 0h1m-0.5 0h1m1 0h1m2 0h1m0 0h1m-0.5 0h1m2 0h1m18.5 0h1m0 0h1m-56 0.5h1m-0.5 0h1m4 0h1m1.5 0h1m4 0h1m-0.5 0h1m1 0h1m0 0h1m1.5 0h1m-0.5 0h1m-0.5 0h1m-0.5 0h1m0.5 0h1m-0.5 0h1m0.5 0h1m1 0h1m-0.5 0h1m-0.5 0h1m11.5 0h1m-0.5 0h1m0.5 0h1m-0.5 0h1m-0.5 0h1m1 0h1m0 0h1m4.5 0h1m1 0h1m-54 0.5h1m-0.5 0h1m5.5 0h1m-0.5 0h1m-0.5 0h1m4 0h1m2 0h1m0.5 0h1m1 0h1m-0.5 0h1m0.5 0h1m1 0h1m0 0h1m0.5 0h1m-0.5 0h1m12.5 0h1m0 0h1m2 0h1m-38.5 0.5h1m2 0h1m5 0h1m0 0h1m-0.5 0h1m1 0h1m0.5 0h1m0 0h1m0 0h1m0 0h1m0 0h1m7 0h1m8 0h1m6.5 0h1m-0.5 0h1m2.5 0h1m-44.5 0.5h1m2 0h1m3 0h1m0.5 0h1m2 0h1m-0.5 0h1m2 0h1m0.5 0h1m0 0h1m0.5 0h1m10 0h1m-40 0.5h1m7.5 0h1m2.5 0h1m1 0h1m1 0h1m-0.5 0h1m0 0h1m0.5 0h1m-0.5 0h1m-0.5 0h1m1.5 0h1m30 0h1m-55 0.5h1m9.5 0h1m-0.5 0h1m5.5 0h1m1.5 0h1m0 0h1m6.5 0h1m6 0h1m-35.5 0.5h1m19.5 0h1m3 0h1m4.5 0h1m3.5 0h1m12.5 0h1m-28 0.5h1m0.5 0h1m-11.5 0.5h1m0 0h1m2.5 0h1m1 0h1m1 0h1m1.5 0h1m3.5 0h1m12.5 0h1m8 0h1m-40 0.5h1m3 0h1m-12.5 0.5h1m11.5 0h1m1 0h1m-16 0.5h1m1.5 0h1m-0.5 0h1m17 0h1m-3 0.5h1M0 0m110.5 316.3h1m-12.5 0.5h1m13.5 0h1m1.5 1h1m1 0h1m-16.5 0.5h1m7 0h1m7 0h1m6 0h1m1 0h1m-30.5 0.5h1m2.5 0h1m5.5 0h1m-6 0.5h1m2.5 0h1m1 0h1m6 0h1m-0.5 0h1m0.5 0h1m5 0h1m-0.5 0h1m-28.5 0.5h1m-0.5 0h1m0 0h1m5 0h1m1.5 0h1m-0.5 0h1m3 0h1m7 0h1m11 0h1m-45 0.5h1m0 0h1m10 0h1m0.5 0h1m2.5 0h1m4 0h1m3.5 0h1m-0.5 0h1m2.5 0h1m1 0h1m3 0h1m1.5 0h1m0 0h1m5.5 0h1m2 0h1m-37 0.5h1m2.5 0h1m-0.5 0h1m2.5 0h1m0 0h1m1 0h1m1 0h1m6.5 0h1m9 0h1m-44.5 0.5h1m5 0h1m9 0h1m-0.5 0h1m1 0h1m2 0h1m2.5 0h1m0 0h1m3.5 0h1m-0.5 0h1m0.5 0h1m0.5 0h1m0 0h1m0 0h1m4.5 0h1m1.5 0h1m-0.5 0h1m-45 0.5h1m6.5 0h1m2.5 0h1m1.5 0h1m0.5 0h1m3 0h1m-0.5 0h1m0 0h1m0 0h1m5 0h1m5 0h1m1.5 0h1m1 0h1m-0.5 0h1m1.5 0h1m-0.5 0h1m3 0h1m-42.5 0.5h1m0 0h1m-0.5 0h1m0 0h1m4.5 0h1m1 0h1m0.5 0h1m0.5 0h1m0 0h1m0 0h1m0 0h1m0 0h1m-0.5 0h1m0 0h1m-0.5 0h1m0 0h1m-0.5 0h1m1.5 0h1m10 0h1m-0.5 0h1m-0.5 0h1m-0.5 0h1m-0.5 0h1m-0.5 0h1m8.5 0h1m0.5 0h1m-0.5 0h1m-53 0.5h1m1.5 0h1m1 0h1m-0.5 0h1m1 0h1m2.5 0h1m0.5 0h1m1 0h1m1 0h1m0 0h1m1 0h1m-0.5 0h1m-0.5 0h1m-0.5 0h1m-0.5 0h1m2 0h1m-0.5 0h1m-0.5 0h1m2.5 0h1m-0.5 0h1m-0.5 0h1m0 0h1m4 0h1m4.5 0h1m-0.5 0h1m0 0h1m0 0h1m1 0h1m-0.5 0h1m1 0h1m-49.5 0.5h1m0 0h1m2 0h1m0 0h1m0 0h1m-0.5 0h1m-0.5 0h1m3 0h1m0 0h1m0 0h1m0 0h1m0.5 0h1m-0.5 0h1m-0.5 0h1m0 0h1m-0.5 0h1m1 0h1m-0.5 0h1m1 0h1m-0.5 0h1m1 0h1m0.5 0h1m1 0h1m7 0h1m0.5 0h1m0 0h1m1 0h1m2.5 0h1m4 0h1m0.5 0h1m1.5 0h1m-53.5 0.5h1m2 0h1m0 0h1m0.5 0h1m3 0h1m1.5 0h1m0 0h1m0 0h1m1.5 0h1m-0.5 0h1m1 0h1m-0.5 0h1m-0.5 0h1m0.5 0h1m-0.5 0h1m-0.5 0h1m0 0h1m2.5 0h1m5 0h1m-0.5 0h1m0.5 0h1m0 0h1m-0.5 0h1m2.5 0h1m0 0h1m0.5 0h1m3 0h1m0 0h1m0 0h1m0.5 0h1m0 0h1m1 0h1m-55 0.5h1m-0.5 0h1m0.5 0h1m0 0h1m0.5 0h1m-0.5 0h1m0.5 0h1m-0.5 0h1m1.5 0h1m0 0h1m0 0h1m-0.5 0h1m1 0h1m-0.5 0h1m-0.5 0h1m0 0h1m-0.5 0h1m0 0h1m0 0h1m-0.5 0h1m-0.5 0h1m1 0h1m-0.5 0h1m0.5 0h1m0.5 0h1m-0.5 0h1m0.5 0h1m0 0h1m0 0h1m-0.5 0h1m-0.5 0h1m0 0h1m0.5 0h1m-0.5 0h1m0 0h1m-0.5 0h1m-0.5 0h1m0.5 0h1m3 0h1m0 0h1m-0.5 0h1m0.5 0h1m-0.5 0h1m1 0h1m1.5 0h1m0.5 0h1m6 0h1m-57 0.5h1m3 0h1m0.5 0h1m0.5 0h1m0 0h1m0.5 0h1m-0.5 0h1m0 0h1m-0.5 0h1m-0.5 0h1m0 0h1m0.5 0h1m0 0h1m0 0h1m-0.5 0h1m0 0h1m0 0h1m-0.5 0h1m-0.5 0h1m-0.5 0h1m0.5 0h1m0.5 0h1m1.5 0h1m1 0h1m-0.5 0h1m0.5 0h1m1 0h1m2.5 0h1m0 0h1m0 0h1m-0.5 0h1m6 0h1m1.5 0h1m3.5 0h1m-53.5 0.5h1m-0.5 0h1m1.5 0h1m0 0h1m-0.5 0h1m1.5 0h1m-0.5 0h1m-0.5 0h1m-0.5 0h1m0 0h1m0.5 0h1m-0.5 0h1m-0.5 0h1m0.5 0h1m3 0h1m0 0h1m-0.5 0h1m0 0h1m0 0h1m-0.5 0h1m0 0h1m2 0h1m-0.5 0h1m-0.5 0h1m0 0h1m0 0h1m-0.5 0h1m1 0h1m0.5 0h1m-0.5 0h1m3 0h1m0 0h1m3.5 0h1m0 0h1m0 0h1m-0.5 0h1m0.5 0h1m4.5 0h1m1.5 0h1m1 0h1m-58.5 0.5h1m-0.5 0h1m-0.5 0h1m-0.5 0h1m-0.5 0h1m0.5 0h1m-0.5 0h1m-0.5 0h1m-0.5 0h1m-0.5 0h1m-0.5 0h1m-0.5 0h1m0.5 0h1m0 0h1m-0.5 0h1m0 0h1m0.5 0h1m-0.5 0h1m-0.5 0h1m-0.5 0h1m-0.5 0h1m0 0h1m-0.5 0h1m-0.5 0h1m0.5 0h1m0 0h1m-0.5 0h1m-0.5 0h1m0 0h1m0.5 0h1m0.5 0h1m-0.5 0h1m-0.5 0h1m-0.5 0h1m0.5 0h1m-0.5 0h1m1 0h1m0 0h1m-0.5 0h1m-0.5 0h1m0 0h1m-0.5 0h1m0 0h1m1.5 0h1m1 0h1m0.5 0h1m4 0h1m0 0h1m0.5 0h1m-0.5 0h1m1 0h1m0 0h1m-50 0.5h1m2 0h1m1 0h1m-0.5 0h1m-0.5 0h1m-0.5 0h1m-0.5 0h1m-0.5 0h1m-0.5 0h1m0 0h1m0.5 0h1m1.5 0h1m-0.5 0h1m-0.5 0h1m0 0h1m-0.5 0h1m-0.5 0h1m1.5 0h1m-0.5 0h1m0.5 0h1m0.5 0h1m0 0h1m0 0h1m-0.5 0h1m0.5 0h1m0 0h1m1 0h1m1 0h1m1 0h1m0 0h1m-0.5 0h1m1.5 0h1m-0.5 0h1m-0.5 0h1m-0.5 0h1m-0.5 0h1m-0.5 0h1m0 0h1m-0.5 0h1m1 0h1m2 0h1m-0.5 0h1m1 0h1m2 0h1m-53.5 0.5h1m0 0h1m0 0h1m0 0h1m-0.5 0h1m2 0h1m-0.5 0h1m0 0h1m-0.5 0h1m-0.5 0h1m0 0h1m1 0h1m-0.5 0h1m-0.5 0h1m0.5 0h1m-0.5 0h1m-0.5 0h1m0.5 0h1m1.5 0h1m-0.5 0h1m0 0h1m-0.5 0h1m0 0h1m0 0h1m-0.5 0h1m-0.5 0h1m0.5 0h1m0.5 0h1m0 0h1m-0.5 0h1m0 0h1m0 0h1m-0.5 0h1m-0.5 0h1m-0.5 0h1m2 0h1m3.5 0h1m0.5 0h1m-0.5 0h1m2 0h1m0.5 0h1m0 0h1m9 0h1m-58.5 0.5h1m1 0h1m0 0h1m2 0h1m0 0h1m-0.5 0h1m0 0h1m0.5 0h1m0.5 0h1m0.5 0h1m0 0h1m0.5 0h1m0 0h1m-0.5 0h1m0 0h1m-0.5 0h1m-0.5 0h1m0 0h1m-0.5 0h1m-0.5 0h1m-0.5 0h1m0 0h1m-0.5 0h1m-0.5 0h1m-0.5 0h1m4.5 0h1m1.5 0h1m0.5 0h1m2 0h1m-0.5 0h1m0 0h1m0.5 0h1m10 0h1m0.5 0h1m1 0h1m4 0h1m-59.5 0.5h1m-0.5 0h1m-0.5 0h1m-0.5 0h1m0 0h1m1 0h1m0.5 0h1m-0.5 0h1m-0.5 0h1m-0.5 0h1m1 0h1m-0.5 0h1m-0.5 0h1m0 0h1m1 0h1m0 0h1m0 0h1m-0.5 0h1m-0.5 0h1m0 0h1m0 0h1m2 0h1m-0.5 0h1m0.5 0h1m0 0h1m3.5 0h1m0 0h1m0.5 0h1m1.5 0h1m-0.5 0h1m-0.5 0h1m0.5 0h1m-0.5 0h1m1 0h1m0.5 0h1m0 0h1m0 0h1m2 0h1m-47 0.5h1m0 0h1m1 0h1m2 0h1m0 0h1m-0.5 0h1m-0.5 0h1m0 0h1m-0.5 0h1m-0.5 0h1m1 0h1m0.5 0h1m-0.5 0h1m0 0h1m0 0h1m0.5 0h1m0 0h1m0 0h1m-0.5 0h1m-0.5 0h1m-0.5 0h1m1 0h1m0 0h1m1 0h1m-0.5 0h1m-0.5 0h1m-0.5 0h1m-0.5 0h1m-0.5 0h1m0 0h1m0 0h1m0.5 0h1m1.5 0h1m4.5 0h1m2.5 0h1m0 0h1m6 0h1m-52.5 0.5h1m0.5 0h1m4.5 0h1m0 0h1m0 0h1m-0.5 0h1m0.5 0h1m0.5 0h1m0 0h1m-0.5 0h1m-0.5 0h1m-0.5 0h1m-0.5 0h1m1 0h1m3.5 0h1m0 0h1m-0.5 0h1m-0.5 0h1m0 0h1m-0.5 0h1m0 0h1m0 0h1m1.5 0h1m-0.5 0h1m-0.5 0h1m0 0h1m-0.5 0h1m0 0h1m1 0h1m0 0h1m2.5 0h1m2.5 0h1m4.5 0h1m-47.5 0.5h1m3.5 0h1m1 0h1m-0.5 0h1m-0.5 0h1m0.5 0h1m0 0h1m1.5 0h1m-0.5 0h1m1.5 0h1m0 0h1m-0.5 0h1m-0.5 0h1m-0.5 0h1m0.5 0h1m2 0h1m0.5 0h1m5 0h1m0 0h1m0 0h1m5 0h1m6.5 0h1m2.5 0h1m6.5 0h1m-55 0.5h1m-0.5 0h1m0.5 0h1m2 0h1m1 0h1m1 0h1m0 0h1m1 0h1m0.5 0h1m-0.5 0h1m1.5 0h1m0 0h1m0.5 0h1m0 0h1m2.5 0h1m1 0h1m-0.5 0h1m2.5 0h1m0 0h1m2 0h1m-0.5 0h1m1.5 0h1m3 0h1m-0.5 0h1m4.5 0h1m0 0h1m-52.5 0.5h1m1 0h1m3 0h1m3.5 0h1m1 0h1m0 0h1m0 0h1m1 0h1m-0.5 0h1m0 0h1m6 0h1m4.5 0h1m6 0h1m10.5 0h1m-51 0.5h1m-0.5 0h1m4.5 0h1m1 0h1m2.5 0h1m1 0h1m0.5 0h1m1 0h1m-0.5 0h1m0 0h1m-0.5 0h1m0 0h1m-0.5 0h1m0 0h1m-0.5 0h1m-0.5 0h1m0.5 0h1m-0.5 0h1m1 0h1m-0.5 0h1m11.5 0h1m3.5 0h1m5 0h1m-50.5 0.5h1m8 0h1m0.5 0h1m0.5 0h1m0 0h1m1 0h1m-0.5 0h1m-0.5 0h1m0.5 0h1m1 0h1m-0.5 0h1m1 0h1m1.5 0h1m8 0h1m12 0h1m-47.5 0.5h1m-0.5 0h1m2.5 0h1m12 0h1m-0.5 0h1m2 0h1m-0.5 0h1m1 0h1m3.5 0h1m15.5 0h1m-38.5 0.5h1m7 0h1m0 0h1m10 0h1m2 0h1m8 0h1m1 0h1m7 0h1m-39.5 0.5h1m0.5 0h1m3 0h1m3.5 0h1m-0.5 0h1m-0.5 0h1m0.5 0h1m0.5 0h1m5.5 0h1m0.5 0h1m0.5 0h1m1.5 0h1m-36.5 0.5h1m13.5 0h1m5.5 0h1m0 0h1m-0.5 0h1m7 0h1m-31.5 0.5h1m11 0h1m6.5 0h1m1 0h1m0 0h1m2.5 0h1m-18.5 0.5h1m1.5 0h1m4.5 0h1m1 0h1m0.5 0h1m6.5 0h1m-6.5 0.5h1m0 0h1m3.5 0h1m-3.5 0.5h1m1 0h1M0 0m37.5 383.1h1m3 0.5h1m-24.5 1h1m17 0h1m30.5 0h1m-30 0.5h1m5.5 0h1m5.5 0h1m-35.5 0.5h1m12.5 0h1m4.5 0h1m26.5 0h1m0.5 0h1m0.5 0h1m-50.5 0.5h1m3.5 0h1m49 0h1m-55 0.5h1m11.5 0h1m0.5 0h1m1 0h1m0.5 0h1m0.5 0h1m1 0h1m19.5 0h1m6.5 0h1m-32.5 0.5h1m-0.5 0h1m26 0h1m5 0h1m-45.5 0.5h1m3.5 0h1m1.5 0h1m-0.5 0h1m0 0h1m0.5 0h1m1 0h1m25.5 0h1m1 0h1m-0.5 0h1m-49 0.5h1m0 0h1m8.5 0h1m5 0h1m0.5 0h1m1.5 0h1m17.5 0h1m4 0h1m-0.5 0h1m3.5 0h1m-45.5 0.5h1m4 0h1m2 0h1m0.5 0h1m-0.5 0h1m1 0h1m-0.5 0h1m1 0h1m0 0h1m0.5 0h1m0 0h1m-0.5 0h1m-0.5 0h1m1.5 0h1m0.5 0h1m-0.5 0h1m22 0h1m-51.5 0.5h1m-0.5 0h1m3 0h1m7 0h1m0 0h1m1 0h1m1 0h1m0 0h1m2.5 0h1m-0.5 0h1m-0.5 0h1m0.5 0h1m4.5 0h1m15 0h1m1 0h1m-49.5 0.5h1m-0.5 0h1m-0.5 0h1m4 0h1m0 0h1m0 0h1m-0.5 0h1m-0.5 0h1m-0.5 0h1m-0.5 0h1m0 0h1m-0.5 0h1m1.5 0h1m-0.5 0h1m-0.5 0h1m0.5 0h1m0 0h1m-0.5 0h1m0.5 0h1m1 0h1m0 0h1m0 0h1m0 0h1m1.5 0h1m23 0h1m4.5 0h1m0.5 0h1m-58 0.5h1m1.5 0h1m0.5 0h1m0.5 0h1m-0.5 0h1m-0.5 0h1m0 0h1m0.5 0h1m0.5 0h1m0.5 0h1m0.5 0h1m1 0h1m1 0h1m-0.5 0h1m0 0h1m0 0h1m0 0h1m-0.5 0h1m-0.5 0h1m0 0h1m0.5 0h1m5 0h1m6 0h1m6.5 0h1m2 0h1m0 0h1m-51 0.5h1m-0.5 0h1m5 0h1m-0.5 0h1m-0.5 0h1m0.5 0h1m-0.5 0h1m-0.5 0h1m0.5 0h1m1.5 0h1m1 0h1m-0.5 0h1m-0.5 0h1m-0.5 0h1m-0.5 0h1m0.5 0h1m0 0h1m0 0h1m-0.5 0h1m0 0h1m0 0h1m2 0h1m11.5 0h1m3.5 0h1m-0.5 0h1m0 0h1m-0.5 0h1m1.5 0h1m1.5 0h1m0 0h1m2 0h1m-55 0.5h1m1 0h1m-0.5 0h1m0 0h1m-0.5 0h1m1 0h1m-0.5 0h1m0.5 0h1m-0.5 0h1m-0.5 0h1m0 0h1m-0.5 0h1m-0.5 0h1m1 0h1m-0.5 0h1m1 0h1m0 0h1m0 0h1m-0.5 0h1m0.5 0h1m-0.5 0h1m0 0h1m-0.5 0h1m-0.5 0h1m0 0h1m-0.5 0h1m-0.5 0h1m-0.5 0h1m0 0h1m0.5 0h1m2 0h1m6 0h1m1.5 0h1m0 0h1m3 0h1m-0.5 0h1m1.5 0h1m-0.5 0h1m1.5 0h1m3.5 0h1m-57 0.5h1m0 0h1m-0.5 0h1m0.5 0h1m-0.5 0h1m0.5 0h1m-0.5 0h1m-0.5 0h1m-0.5 0h1m-0.5 0h1m-0.5 0h1m-0.5 0h1m-0.5 0h1m-0.5 0h1m-0.5 0h1m0 0h1m0 0h1m-0.5 0h1m-0.5 0h1m-0.5 0h1m-0.5 0h1m-0.5 0h1m-0.5 0h1m-0.5 0h1m0 0h1m-0.5 0h1m-0.5 0h1m-0.5 0h1m-0.5 0h1m-0.5 0h1m-0.5 0h1m0 0h1m-0.5 0h1m1 0h1m0 0h1m-0.5 0h1m0.5 0h1m0 0h1m3.5 0h1m0 0h1m7.5 0h1m0.5 0h1m0 0h1m-0.5 0h1m-0.5 0h1m0 0h1m3 0h1m-49 0.5h1m0 0h1m-0.5 0h1m1 0h1m-0.5 0h1m-0.5 0h1m-0.5 0h1m0 0h1m0 0h1m-0.5 0h1m-0.5 0h1m0.5 0h1m-0.5 0h1m0 0h1m-0.5 0h1m-0.5 0h1m-0.5 0h1m0.5 0h1m0 0h1m-0.5 0h1m-0.5 0h1m-0.5 0h1m-0.5 0h1m-0.5 0h1m0.5 0h1m-0.5 0h1m-0.5 0h1m-0.5 0h1m2.5 0h1m0 0h1m5.5 0h1m2 0h1m1.5 0h1m2 0h1m2 0h1m-0.5 0h1m1.5 0h1m2 0h1m1 0h1m4.5 0h1m0 0h1m-59.5 0.5h1m-0.5 0h1m0 0h1m0 0h1m0 0h1m-0.5 0h1m0 0h1m-0.5 0h1m-0.5 0h1m-0.5 0h1m-0.5 0h1m-0.5 0h1m1 0h1m-0.5 0h1m-0.5 0h1m-0.5 0h1m-0.5 0h1m0 0h1m-0.5 0h1m-0.5 0h1m0.5 0h1m-0.5 0h1m0 0h1m-0.5 0h1m-0.5 0h1m-0.5 0h1m-0.5 0h1m-0.5 0h1m-0.5 0h1m-0.5 0h1m0 0h1m-0.5 0h1m-0.5 0h1m-0.5 0h1m-0.5 0h1m0 0h1m1 0h1m0 0h1m12 0h1m5.5 0h1m0 0h1m0 0h1m1 0h1m-0.5 0h1m-52.5 0.5h1m-0.5 0h1m-0.5 0h1m2 0h1m1 0h1m0 0h1m-0.5 0h1m0.5 0h1m-0.5 0h1m1 0h1m-0.5 0h1m1 0h1m-0.5 0h1m-0.5 0h1m0 0h1m-0.5 0h1m-0.5 0h1m0 0h1m-0.5 0h1m-0.5 0h1m0 0h1m-0.5 0h1m-0.5 0h1m-0.5 0h1m-0.5 0h1m-0.5 0h1m-0.5 0h1m2 0h1m0.5 0h1m-0.5 0h1m-0.5 0h1m1.5 0h1m4 0h1m-0.5 0h1m5 0h1m0 0h1m1 0h1m1 0h1m5 0h1m-0.5 0h1m-54.5 0.5h1m0 0h1m0 0h1m2 0h1m-0.5 0h1m-0.5 0h1m-0.5 0h1m2.5 0h1m-0.5 0h1m-0.5 0h1m1 0h1m-0.5 0h1m0 0h1m-0.5 0h1m-0.5 0h1m-0.5 0h1m-0.5 0h1m-0.5 0h1m2 0h1m0 0h1m0 0h1m-0.5 0h1m0 0h1m1 0h1m1.5 0h1m6.5 0h1m3 0h1m1.5 0h1m-0.5 0h1m0.5 0h1m1.5 0h1m1.5 0h1m1.5 0h1m-52.5 0.5h1m-0.5 0h1m-0.5 0h1m2 0h1m-0.5 0h1m-0.5 0h1m0 0h1m2 0h1m0 0h1m-0.5 0h1m-0.5 0h1m-0.5 0h1m-0.5 0h1m0 0h1m0 0h1m-0.5 0h1m-0.5 0h1m0 0h1m0 0h1m-0.5 0h1m-0.5 0h1m-0.5 0h1m0 0h1m-0.5 0h1m-0.5 0h1m-0.5 0h1m-0.5 0h1m0 0h1m0 0h1m-0.5 0h1m-0.5 0h1m7 0h1m2 0h1m2 0h1m0.5 0h1m1 0h1m1 0h1m1 0h1m-0.5 0h1m1 0h1m-0.5 0h1m-49 0.5h1m0.5 0h1m2.5 0h1m1 0h1m0 0h1m0.5 0h1m2.5 0h1m0 0h1m-0.5 0h1m0 0h1m2 0h1m0 0h1m-0.5 0h1m0 0h1m-0.5 0h1m1 0h1m0.5 0h1m1.5 0h1m17 0h1m5.5 0h1m-0.5 0h1m-54.5 0.5h1m0 0h1m6.5 0h1m2 0h1m-0.5 0h1m1.5 0h1m-0.5 0h1m0.5 0h1m0 0h1m-0.5 0h1m-0.5 0h1m-0.5 0h1m-0.5 0h1m-0.5 0h1m-0.5 0h1m2.5 0h1m1.5 0h1m1 0h1m-0.5 0h1m-0.5 0h1m6.5 0h1m5.5 0h1m2 0h1m2.5 0h1m2 0h1m0.5 0h1m-43 0.5h1m2.5 0h1m-0.5 0h1m1 0h1m0 0h1m-0.5 0h1m-0.5 0h1m0 0h1m-0.5 0h1m-0.5 0h1m-0.5 0h1m1 0h1m-0.5 0h1m-0.5 0h1m0 0h1m1.5 0h1m0.5 0h1m2.5 0h1m5.5 0h1m4 0h1m10.5 0h1m-54 0.5h1m2.5 0h1m1.5 0h1m0 0h1m0 0h1m0.5 0h1m-0.5 0h1m0 0h1m2 0h1m1.5 0h1m-0.5 0h1m0.5 0h1m1 0h1m-0.5 0h1m5.5 0h1m10.5 0h1m5.5 0h1m4.5 0h1m-44 0.5h1m2 0h1m2.5 0h1m-0.5 0h1m-0.5 0h1m1 0h1m4 0h1m0 0h1m11 0h1m8 0h1m-49.5 0.5h1m-0.5 0h1m5.5 0h1m7 0h1m-0.5 0h1m0 0h1m1 0h1m2 0h1m-0.5 0h1m2 0h1m3.5 0h1m12.5 0h1m-33.5 0.5h1m5.5 0h1m0.5 0h1m-0.5 0h1m-0.5 0h1m0.5 0h1m0.5 0h1m-0.5 0h1m-17.5 0.5h1m3 0h1m2.5 0h1m4 0h1m2 0h1m0 0h1m0 0h1m-0.5 0h1m16 0h1m-35 0.5h1m6 0h1m5.5 0h1m2 0h1m-13 0.5h1m10 0h1m0 0h1m-10.5 0.5h1m8 0h1m0.5 0h1m-26 0.5h1m13 0h1m2 0h1m5 0h1m1.5 0h1m-14.5 0.5h1m4 0h1m0 0h1m-7.5 0.5h1m2 0h1m1 0h1m5.5 0h1M0 0m107 382.6h1m-11 1h1m38 0h1m-50 0.5h1m32.5 0h1m-34 0.5h1m25 0h1m20.5 0h1m-28 0.5h1m0.5 0h1m1 0h1m1.5 0h1m17.5 0h1m-30.5 0.5h1m10 0h1m6.5 0h1m2.5 0h1m1.5 0h1m-29.5 0.5h1m1.5 0h1m3.5 0h1m5.5 0h1m1 0h1m1.5 0h1m-28.5 0.5h1m6.5 0h1m2.5 0h1m4.5 0h1m4 0h1m1 0h1m8.5 0h1m-36 0.5h1m10.5 0h1m-0.5 0h1m5.5 0h1m0.5 0h1m-0.5 0h1m0.5 0h1m0 0h1m-0.5 0h1m0 0h1m11 0h1m0.5 0h1m1.5 0h1m0 0h1m3 0h1m6.5 0h1m-53.5 0.5h1m6 0h1m2 0h1m-0.5 0h1m-0.5 0h1m2 0h1m0.5 0h1m2 0h1m0.5 0h1m0 0h1m0 0h1m0 0h1m0.5 0h1m6 0h1m6.5 0h1m-0.5 0h1m-40.5 0.5h1m8 0h1m0 0h1m1 0h1m0 0h1m1 0h1m-0.5 0h1m1.5 0h1m-0.5 0h1m1 0h1m0 0h1m2 0h1m4.5 0h1m5 0h1m0.5 0h1m1 0h1m0 0h1m-0.5 0h1m-0.5 0h1m0 0h1m0.5 0h1m-0.5 0h1m1.5 0h1m-0.5 0h1m3.5 0h1m-50 0.5h1m4 0h1m0 0h1m3.5 0h1m2.5 0h1m2 0h1m2 0h1m2.5 0h1m-0.5 0h1m4.5 0h1m1.5 0h1m3.5 0h1m0.5 0h1m0 0h1m-0.5 0h1m0 0h1m-45.5 0.5h1m-0.5 0h1m0 0h1m2 0h1m-0.5 0h1m0.5 0h1m-0.5 0h1m-0.5 0h1m3 0h1m0 0h1m0 0h1m-0.5 0h1m1 0h1m-0.5 0h1m1 0h1m-0.5 0h1m2 0h1m-0.5 0h1m1 0h1m2 0h1m0.5 0h1m2 0h1m0.5 0h1m0.5 0h1m-0.5 0h1m0 0h1m-0.5 0h1m1 0h1m1 0h1m4 0h1m2 0h1m0 0h1m-51 0.5h1m-0.5 0h1m4 0h1m1 0h1m4 0h1m-0.5 0h1m1 0h1m0 0h1m0 0h1m-0.5 0h1m0 0h1m-0.5 0h1m1 0h1m-0.5 0h1m-0.5 0h1m-0.5 0h1m0 0h1m0.5 0h1m1 0h1m0.5 0h1m3.5 0h1m6 0h1m6 0h1m-48 0.5h1m1.5 0h1m-0.5 0h1m1.5 0h1m0 0h1m-0.5 0h1m0 0h1m-0.5 0h1m0 0h1m2 0h1m-0.5 0h1m0.5 0h1m0.5 0h1m-0.5 0h1m0.5 0h1m-0.5 0h1m0 0h1m-0.5 0h1m1 0h1m-0.5 0h1m3.5 0h1m-0.5 0h1m-0.5 0h1m0 0h1m0.5 0h1m1 0h1m-0.5 0h1m0 0h1m-0.5 0h1m0 0h1m-0.5 0h1m-0.5 0h1m0 0h1m2.5 0h1m-0.5 0h1m0 0h1m-0.5 0h1m6 0h1m-51 0.5h1m-0.5 0h1m-0.5 0h1m1 0h1m1 0h1m2 0h1m1.5 0h1m0 0h1m-0.5 0h1m0.5 0h1m-0.5 0h1m-0.5 0h1m0 0h1m-0.5 0h1m1.5 0h1m-0.5 0h1m0.5 0h1m1.5 0h1m-0.5 0h1m-0.5 0h1m0.5 0h1m-0.5 0h1m0 0h1m0 0h1m2.5 0h1m0.5 0h1m-0.5 0h1m0.5 0h1m1.5 0h1m-0.5 0h1m-0.5 0h1m1.5 0h1m0 0h1m1.5 0h1m0 0h1m1 0h1m1 0h1m3 0h1m0 0h1m-55.5 0.5h1m1.5 0h1m-0.5 0h1m0 0h1m0 0h1m-0.5 0h1m-0.5 0h1m-0.5 0h1m-0.5 0h1m-0.5 0h1m-0.5 0h1m0 0h1m0 0h1m-0.5 0h1m0.5 0h1m0 0h1m0.5 0h1m1 0h1m0 0h1m-0.5 0h1m0 0h1m-0.5 0h1m0 0h1m-0.5 0h1m-0.5 0h1m-0.5 0h1m0 0h1m-0.5 0h1m-0.5 0h1m-0.5 0h1m-0.5 0h1m2 0h1m-0.5 0h1m1.5 0h1m0.5 0h1m0 0h1m3 0h1m-0.5 0h1m6 0h1m1.5 0h1m1 0h1m7.5 0h1m-58.5 0.5h1m0 0h1m1.5 0h1m1 0h1m-0.5 0h1m-0.5 0h1m0.5 0h1m0 0h1m0.5 0h1m-0.5 0h1m1 0h1m-0.5 0h1m-0.5 0h1m0 0h1m-0.5 0h1m-0.5 0h1m0 0h1m-0.5 0h1m0.5 0h1m-0.5 0h1m1 0h1m0 0h1m0 0h1m1 0h1m0 0h1m2 0h1m1 0h1m1 0h1m-0.5 0h1m-0.5 0h1m0.5 0h1m5 0h1m0 0h1m1 0h1m-0.5 0h1m1.5 0h1m-49.5 0.5h1m-0.5 0h1m-0.5 0h1m0 0h1m0 0h1m0 0h1m-0.5 0h1m-0.5 0h1m0 0h1m0 0h1m0 0h1m0.5 0h1m-0.5 0h1m0 0h1m-0.5 0h1m0.5 0h1m-0.5 0h1m0.5 0h1m0.5 0h1m1 0h1m-0.5 0h1m-0.5 0h1m-0.5 0h1m-0.5 0h1m0 0h1m-0.5 0h1m0 0h1m-0.5 0h1m-0.5 0h1m-0.5 0h1m0 0h1m0 0h1m-0.5 0h1m0 0h1m0 0h1m-0.5 0h1m0 0h1m-0.5 0h1m0.5 0h1m4 0h1m2.5 0h1m0 0h1m-0.5 0h1m2 0h1m0.5 0h1m-0.5 0h1m3.5 0h1m1 0h1m-55 0.5h1m2 0h1m-0.5 0h1m0 0h1m0 0h1m-0.5 0h1m-0.5 0h1m0 0h1m-0.5 0h1m0 0h1m-0.5 0h1m-0.5 0h1m-0.5 0h1m-0.5 0h1m-0.5 0h1m1 0h1m-0.5 0h1m0 0h1m-0.5 0h1m0 0h1m0 0h1m-0.5 0h1m-0.5 0h1m-0.5 0h1m-0.5 0h1m-0.5 0h1m-0.5 0h1m-0.5 0h1m0 0h1m-0.5 0h1m0 0h1m0 0h1m2 0h1m-0.5 0h1m-0.5 0h1m4.5 0h1m-0.5 0h1m2 0h1m1 0h1m2.5 0h1m0.5 0h1m0.5 0h1m6 0h1m-51 0.5h1m0 0h1m-0.5 0h1m0 0h1m-0.5 0h1m-0.5 0h1m-0.5 0h1m-0.5 0h1m0 0h1m0.5 0h1m0 0h1m0 0h1m0.5 0h1m1 0h1m0 0h1m0.5 0h1m0 0h1m-0.5 0h1m-0.5 0h1m0.5 0h1m0 0h1m-0.5 0h1m0.5 0h1m0 0h1m-0.5 0h1m0.5 0h1m0.5 0h1m0 0h1m1 0h1m0.5 0h1m-0.5 0h1m1.5 0h1m0 0h1m2 0h1m2.5 0h1m7 0h1m6 0h1m-60 0.5h1m1.5 0h1m0 0h1m-0.5 0h1m-0.5 0h1m-0.5 0h1m-0.5 0h1m0.5 0h1m0.5 0h1m-0.5 0h1m0 0h1m-0.5 0h1m-0.5 0h1m0 0h1m0.5 0h1m-0.5 0h1m1.5 0h1m1 0h1m-0.5 0h1m0.5 0h1m-0.5 0h1m-0.5 0h1m0 0h1m-0.5 0h1m-0.5 0h1m0.5 0h1m-0.5 0h1m1 0h1m0.5 0h1m-0.5 0h1m-0.5 0h1m1.5 0h1m6 0h1m0.5 0h1m0.5 0h1m0 0h1m5.5 0h1m6 0h1m-58 0.5h1m1.5 0h1m0.5 0h1m-0.5 0h1m4 0h1m1 0h1m1 0h1m-0.5 0h1m-0.5 0h1m0 0h1m-0.5 0h1m-0.5 0h1m-0.5 0h1m0.5 0h1m0 0h1m0 0h1m-0.5 0h1m-0.5 0h1m0 0h1m-0.5 0h1m-0.5 0h1m-0.5 0h1m1 0h1m0.5 0h1m1 0h1m0.5 0h1m0.5 0h1m1 0h1m1 0h1m5 0h1m6 0h1m1 0h1m2.5 0h1m-55.5 0.5h1m3 0h1m0 0h1m0.5 0h1m1 0h1m0 0h1m-0.5 0h1m-0.5 0h1m-0.5 0h1m3.5 0h1m0 0h1m0.5 0h1m0 0h1m-0.5 0h1m-0.5 0h1m0 0h1m1.5 0h1m0 0h1m0 0h1m2 0h1m0 0h1m-0.5 0h1m2.5 0h1m2.5 0h1m0 0h1m0 0h1m3.5 0h1m5.5 0h1m1.5 0h1m-50 0.5h1m0 0h1m0 0h1m0 0h1m1.5 0h1m-0.5 0h1m-0.5 0h1m0.5 0h1m1.5 0h1m2 0h1m-0.5 0h1m4 0h1m-0.5 0h1m0 0h1m-0.5 0h1m0 0h1m2 0h1m4.5 0h1m5.5 0h1m0.5 0h1m2 0h1m0.5 0h1m-48 0.5h1m-0.5 0h1m2 0h1m2 0h1m0.5 0h1m2 0h1m-0.5 0h1m-0.5 0h1m-0.5 0h1m0.5 0h1m0 0h1m0 0h1m-0.5 0h1m-0.5 0h1m1.5 0h1m1 0h1m0.5 0h1m0.5 0h1m0 0h1m-0.5 0h1m-0.5 0h1m-0.5 0h1m6 0h1m1.5 0h1m3 0h1m0.5 0h1m0 0h1m4.5 0h1m-49 0.5h1m-0.5 0h1m3 0h1m-0.5 0h1m0 0h1m0 0h1m-0.5 0h1m3 0h1m-0.5 0h1m0 0h1m0.5 0h1m0 0h1m0.5 0h1m-0.5 0h1m0.5 0h1m-0.5 0h1m0 0h1m1 0h1m-0.5 0h1m0 0h1m3 0h1m3 0h1m-0.5 0h1m0.5 0h1m1 0h1m9 0h1m3.5 0h1m-51 0.5h1m1 0h1m8.5 0h1m-0.5 0h1m0.5 0h1m0 0h1m-0.5 0h1m0.5 0h1m-0.5 0h1m0 0h1m-0.5 0h1m1 0h1m-0.5 0h1m-0.5 0h1m1.5 0h1m1.5 0h1m-0.5 0h1m0.5 0h1m1 0h1m-33 0.5h1m2.5 0h1m8 0h1m1.5 0h1m0 0h1m-0.5 0h1m-0.5 0h1m-0.5 0h1m0 0h1m0.5 0h1m0.5 0h1m-0.5 0h1m0 0h1m3.5 0h1m2 0h1m-0.5 0h1m-23.5 0.5h1m4 0h1m0 0h1m2.5 0h1m5.5 0h1m0 0h1m11 0h1m0 0h1m-26 0.5h1m0 0h1m1.5 0h1m0.5 0h1m1.5 0h1m-0.5 0h1m-0.5 0h1m0 0h1m0.5 0h1m-0.5 0h1m1.5 0h1m-0.5 0h1m3 0h1m-31.5 0.5h1m12.5 0h1m-0.5 0h1m0.5 0h1m1.5 0h1m3 0h1m0 0h1m0.5 0h1m-16.5 0.5h1m2 0h1m6.5 0h1m-0.5 0h1m12.5 0h1m-23.5 0.5h1m1 0h1m6 0h1m-0.5 0h1m-5.5 0.5h1m-2 0.5h1m-16 0.5h1m19.5 0h1m-0.5 0h1M0 0m17 449h1m17.5 1.5h1m2 0h1m-5 0.5h1m6 0h1m-25.5 1h1m-0.5 0h1m17.5 0h1m9.5 0h1m-30.5 0.5h1m-0.5 0h1m19 0h1m1 0h1m-0.5 0h1m-0.5 0h1m-17.5 0.5h1m8.5 0h1m4 0h1m0 0h1m-13.5 0.5h1m4.5 0h1m0 0h1m1 0h1m0 0h1m0 0h1m2 0h1m1.5 0h1m2 0h1m-29 0.5h1m3 0h1m0.5 0h1m6.5 0h1m6 0h1m-0.5 0h1m1 0h1m0 0h1m3 0h1m-21 0.5h1m-0.5 0h1m0.5 0h1m0 0h1m-0.5 0h1m0 0h1m0 0h1m-0.5 0h1m1 0h1m-0.5 0h1m-0.5 0h1m5.5 0h1m-0.5 0h1m0 0h1m-24.5 0.5h1m0 0h1m2.5 0h1m1.5 0h1m1 0h1m0.5 0h1m0 0h1m-0.5 0h1m-0.5 0h1m-0.5 0h1m0 0h1m-0.5 0h1m2 0h1m0.5 0h1m0 0h1m0.5 0h1m1.5 0h1m2 0h1m1.5 0h1m-32.5 0.5h1m0 0h1m1 0h1m0.5 0h1m0 0h1m1.5 0h1m-0.5 0h1m-0.5 0h1m-0.5 0h1m0.5 0h1m0.5 0h1m1.5 0h1m0 0h1m2 0h1m0 0h1m0.5 0h1m0.5 0h1m0.5 0h1m2 0h1m-28.5 0.5h1m0.5 0h1m6.5 0h1m-0.5 0h1m-0.5 0h1m1.5 0h1m1.5 0h1m0 0h1m-0.5 0h1m0.5 0h1m0 0h1m0.5 0h1m-0.5 0h1m-0.5 0h1m0 0h1m-0.5 0h1m0.5 0h1m-0.5 0h1m0 0h1m0 0h1m0 0h1m15.5 0h1m7 0h1m-53.5 0.5h1m-0.5 0h1m2 0h1m0.5 0h1m-0.5 0h1m-0.5 0h1m0 0h1m-0.5 0h1m-0.5 0h1m0.5 0h1m0 0h1m-0.5 0h1m-0.5 0h1m2.5 0h1m0 0h1m-0.5 0h1m0.5 0h1m-0.5 0h1m-0.5 0h1m0 0h1m-0.5 0h1m-0.5 0h1m-0.5 0h1m1 0h1m-0.5 0h1m-0.5 0h1m3 0h1m1.5 0h1m-32 0.5h1m0.5 0h1m3 0h1m-0.5 0h1m0 0h1m-0.5 0h1m-0.5 0h1m0.5 0h1m0 0h1m0.5 0h1m2 0h1m0 0h1m2 0h1m-0.5 0h1m-0.5 0h1m-0.5 0h1m-0.5 0h1m-0.5 0h1m-0.5 0h1m0 0h1m0 0h1m-0.5 0h1m0.5 0h1m-0.5 0h1m0.5 0h1m2 0h1m-0.5 0h1m1.5 0h1m13.5 0h1m1.5 0h1m2 0h1m-55 0.5h1m-0.5 0h1m-0.5 0h1m1 0h1m0 0h1m0 0h1m1 0h1m-0.5 0h1m-0.5 0h1m0 0h1m1 0h1m0 0h1m0 0h1m0.5 0h1m0 0h1m-0.5 0h1m-0.5 0h1m-0.5 0h1m-0.5 0h1m0 0h1m0 0h1m0 0h1m-0.5 0h1m-0.5 0h1m-0.5 0h1m-0.5 0h1m-0.5 0h1m0.5 0h1m0 0h1m-0.5 0h1m-0.5 0h1m2 0h1m-30 0.5h1m-0.5 0h1m2 0h1m0.5 0h1m-0.5 0h1m0.5 0h1m0 0h1m-0.5 0h1m-0.5 0h1m-0.5 0h1m1 0h1m-0.5 0h1m0.5 0h1m0 0h1m-0.5 0h1m-0.5 0h1m0 0h1m-0.5 0h1m-0.5 0h1m0 0h1m0 0h1m-0.5 0h1m0 0h1m-0.5 0h1m-0.5 0h1m-0.5 0h1m-0.5 0h1m2 0h1m0 0h1m2.5 0h1m-32.5 0.5h1m-0.5 0h1m2 0h1m-0.5 0h1m0 0h1m0 0h1m3 0h1m-0.5 0h1m-0.5 0h1m0 0h1m1.5 0h1m0.5 0h1m0 0h1m1.5 0h1m-0.5 0h1m-0.5 0h1m-0.5 0h1m-0.5 0h1m0 0h1m0 0h1m-0.5 0h1m-0.5 0h1m-0.5 0h1m-0.5 0h1m1 0h1m0.5 0h1m0 0h1m15.5 0h1m-47 0.5h1m0 0h1m0.5 0h1m-0.5 0h1m-0.5 0h1m0 0h1m-0.5 0h1m-0.5 0h1m-0.5 0h1m2 0h1m-0.5 0h1m0 0h1m-0.5 0h1m-0.5 0h1m-0.5 0h1m-0.5 0h1m1.5 0h1m-0.5 0h1m-0.5 0h1m0.5 0h1m0 0h1m-0.5 0h1m-0.5 0h1m-0.5 0h1m0 0h1m-0.5 0h1m0.5 0h1m0.5 0h1m-0.5 0h1m1.5 0h1m1.5 0h1m6.5 0h1m-38.5 0.5h1m4 0h1m-0.5 0h1m0 0h1m-0.5 0h1m-0.5 0h1m-0.5 0h1m0 0h1m0 0h1m1 0h1m0 0h1m-0.5 0h1m-0.5 0h1m-0.5 0h1m-0.5 0h1m-0.5 0h1m-0.5 0h1m-0.5 0h1m-0.5 0h1m-0.5 0h1m0 0h1m0 0h1m-0.5 0h1m0 0h1m-0.5 0h1m0.5 0h1m1 0h1m2 0h1m-0.5 0h1m-29.5 0.5h1m1.5 0h1m0 0h1m0 0h1m-0.5 0h1m-0.5 0h1m2.5 0h1m-0.5 0h1m-0.5 0h1m0 0h1m0 0h1m0.5 0h1m0.5 0h1m-0.5 0h1m0.5 0h1m-0.5 0h1m-0.5 0h1m-0.5 0h1m-0.5 0h1m0.5 0h1m0 0h1m-0.5 0h1m0.5 0h1m1 0h1m1 0h1m3 0h1m4.5 0h1m-38 0.5h1m2 0h1m0.5 0h1m0 0h1m0 0h1m1 0h1m-0.5 0h1m-0.5 0h1m0 0h1m0 0h1m1.5 0h1m-0.5 0h1m0 0h1m-0.5 0h1m0.5 0h1m1 0h1m-0.5 0h1m0 0h1m-0.5 0h1m-0.5 0h1m0 0h1m0 0h1m0.5 0h1m-0.5 0h1m13.5 0h1m1.5 0h1m-44 0.5h1m-0.5 0h1m5 0h1m0 0h1m1.5 0h1m0 0h1m-0.5 0h1m0 0h1m0.5 0h1m0 0h1m-0.5 0h1m-0.5 0h1m0 0h1m-0.5 0h1m0.5 0h1m0 0h1m-0.5 0h1m-0.5 0h1m-0.5 0h1m-0.5 0h1m-0.5 0h1m-0.5 0h1m0.5 0h1m0.5 0h1m1 0h1m-28.5 0.5h1m12 0h1m-0.5 0h1m-0.5 0h1m2 0h1m0 0h1m0.5 0h1m0 0h1m1.5 0h1m0 0h1m-0.5 0h1m-0.5 0h1m-0.5 0h1m0.5 0h1m1.5 0h1m-31 0.5h1m7 0h1m1.5 0h1m0.5 0h1m-0.5 0h1m-0.5 0h1m0 0h1m0 0h1m-0.5 0h1m2.5 0h1m0 0h1m0 0h1m-0.5 0h1m0 0h1m1 0h1m-0.5 0h1m0 0h1m-0.5 0h1m1 0h1m-0.5 0h1m1.5 0h1m-33 0.5h1m-0.5 0h1m-0.5 0h1m4.5 0h1m4.5 0h1m0 0h1m-0.5 0h1m0.5 0h1m1 0h1m0 0h1m0.5 0h1m-0.5 0h1m0.5 0h1m6 0h1m-0.5 0h1m-29.5 0.5h1m-0.5 0h1m9.5 0h1m-0.5 0h1m3 0h1m0 0h1m0 0h1m0 0h1m1.5 0h1m3 0h1m5.5 0h1m-22 0.5h1m0 0h1m4 0h1m1 0h1m-0.5 0h1m-9 0.5h1m5 0h1m3 0h1m2 0h1m1.5 0h1m-27 0.5h1m7.5 0h1m1.5 0h1m10.5 0h1m-20.5 0.5h1m4.5 0h1m3.5 0h1m3.5 0h1m13 0h1m-17.5 0.5h1m1 0h1m1 0h1m-0.5 0h1m6.5 0h1m-28.5 0.5h1m14 0h1m-0.5 0h1m0.5 0h1m6.5 0h1m-14.5 0.5h1m9 0h1m-7.5 0.5h1m4.5 0h1m1 0h1m-0.5 0h1M0 0m113 447h1m-9.5 1h1m-2 1.5h1m-6 0.5h1m4 0h1m14 0h1m-26 0.5h1m7.5 0h1m5.5 0h1m4.5 0h1m-18.5 0.5h1m4.5 0h1m11.5 0h1m-0.5 0h1m2 0h1m-31.5 0.5h1m2.5 0h1m13 0h1m-18 0.5h1m3.5 0h1m11.5 0h1m-0.5 0h1m7 0h1m0.5 0h1m1.5 0h1m10.5 0h1m-43 0.5h1m0 0h1m3 0h1m4.5 0h1m0.5 0h1m0.5 0h1m1 0h1m0.5 0h1m-0.5 0h1m1.5 0h1m25 0h1m-47 0.5h1m17 0h1m2 0h1m2.5 0h1m-0.5 0h1m-26 0.5h1m4.5 0h1m4 0h1m2.5 0h1m0.5 0h1m-0.5 0h1m-0.5 0h1m-0.5 0h1m0 0h1m2.5 0h1m3 0h1m-21 0.5h1m2.5 0h1m2 0h1m-0.5 0h1m-0.5 0h1m2 0h1m0 0h1m0 0h1m0 0h1m0.5 0h1m0 0h1m1 0h1m13 0h1m-38.5 0.5h1m1.5 0h1m3.5 0h1m4.5 0h1m-0.5 0h1m0 0h1m-0.5 0h1m0 0h1m-0.5 0h1m-0.5 0h1m-0.5 0h1m-0.5 0h1m-0.5 0h1m0 0h1m-0.5 0h1m-0.5 0h1m6 0h1m-0.5 0h1m7.5 0h1m8.5 0h1m2 0h1m-49.5 0.5h1m0.5 0h1m0.5 0h1m0 0h1m-0.5 0h1m-0.5 0h1m-0.5 0h1m-0.5 0h1m-0.5 0h1m0.5 0h1m-0.5 0h1m3 0h1m1.5 0h1m1 0h1m0 0h1m-0.5 0h1m1 0h1m2 0h1m-0.5 0h1m0.5 0h1m0 0h1m13 0h1m0.5 0h1m0 0h1m2 0h1m3.5 0h1m-51.5 0.5h1m-0.5 0h1m1.5 0h1m1 0h1m-0.5 0h1m0 0h1m-0.5 0h1m-0.5 0h1m0 0h1m1 0h1m0 0h1m0.5 0h1m1.5 0h1m-0.5 0h1m2 0h1m0 0h1m-0.5 0h1m-0.5 0h1m-0.5 0h1m0 0h1m-0.5 0h1m0 0h1m-0.5 0h1m2 0h1m0 0h1m15 0h1m-45.5 0.5h1m-0.5 0h1m-0.5 0h1m0 0h1m4.5 0h1m1 0h1m0.5 0h1m-0.5 0h1m-0.5 0h1m-0.5 0h1m2 0h1m1 0h1m-0.5 0h1m0 0h1m0.5 0h1m-0.5 0h1m0.5 0h1m0 0h1m-0.5 0h1m0.5 0h1m0 0h1m2.5 0h1m8.5 0h1m5 0h1m-46.5 0.5h1m1.5 0h1m0.5 0h1m-0.5 0h1m0 0h1m0.5 0h1m0 0h1m-0.5 0h1m-0.5 0h1m1 0h1m-0.5 0h1m0 0h1m0.5 0h1m-0.5 0h1m-0.5 0h1m0 0h1m0 0h1m-0.5 0h1m0.5 0h1m-0.5 0h1m-0.5 0h1m-0.5 0h1m-0.5 0h1m-0.5 0h1m-0.5 0h1m0 0h1m2.5 0h1m-0.5 0h1m1 0h1m0.5 0h1m-0.5 0h1m3 0h1m-36 0.5h1m0 0h1m1.5 0h1m-0.5 0h1m-0.5 0h1m2.5 0h1m0.5 0h1m-0.5 0h1m-0.5 0h1m-0.5 0h1m0.5 0h1m-0.5 0h1m0.5 0h1m0 0h1m-0.5 0h1m-0.5 0h1m-0.5 0h1m-0.5 0h1m0 0h1m-0.5 0h1m-0.5 0h1m-0.5 0h1m-0.5 0h1m-0.5 0h1m1.5 0h1m-0.5 0h1m2 0h1m-0.5 0h1m9 0h1m7.5 0h1m0.5 0h1m-48.5 0.5h1m3 0h1m-0.5 0h1m1 0h1m0 0h1m-0.5 0h1m0.5 0h1m0 0h1m-0.5 0h1m-0.5 0h1m0 0h1m-0.5 0h1m0.5 0h1m-0.5 0h1m-0.5 0h1m0.5 0h1m-0.5 0h1m-0.5 0h1m0 0h1m0.5 0h1m-0.5 0h1m2 0h1m-0.5 0h1m-0.5 0h1m-0.5 0h1m-0.5 0h1m-0.5 0h1m-0.5 0h1m-0.5 0h1m1 0h1m5 0h1m13 0h1m-50.5 0.5h1m0 0h1m0 0h1m0.5 0h1m0 0h1m-0.5 0h1m-0.5 0h1m0 0h1m-0.5 0h1m-0.5 0h1m0 0h1m0.5 0h1m-0.5 0h1m0 0h1m0.5 0h1m-0.5 0h1m1 0h1m2 0h1m-0.5 0h1m-0.5 0h1m-0.5 0h1m-0.5 0h1m-0.5 0h1m0 0h1m-0.5 0h1m-0.5 0h1m-0.5 0h1m0 0h1m-0.5 0h1m4.5 0h1m7.5 0h1m15 0h1m-56 0.5h1m1 0h1m-0.5 0h1m0 0h1m-0.5 0h1m-0.5 0h1m0 0h1m-0.5 0h1m-0.5 0h1m-0.5 0h1m0.5 0h1m-0.5 0h1m0.5 0h1m0 0h1m-0.5 0h1m0 0h1m-0.5 0h1m0.5 0h1m0 0h1m0.5 0h1m0.5 0h1m-0.5 0h1m-0.5 0h1m0.5 0h1m-0.5 0h1m-0.5 0h1m-0.5 0h1m-0.5 0h1m-0.5 0h1m-0.5 0h1m0 0h1m-0.5 0h1m5.5 0h1m9.5 0h1m11.5 0h1m-56.5 0.5h1m-0.5 0h1m1 0h1m2 0h1m-0.5 0h1m0.5 0h1m-0.5 0h1m0.5 0h1m0 0h1m-0.5 0h1m0 0h1m-0.5 0h1m0.5 0h1m0 0h1m2 0h1m-0.5 0h1m-0.5 0h1m0 0h1m1.5 0h1m1.5 0h1m1 0h1m0 0h1m1.5 0h1m7.5 0h1m0 0h1m3 0h1m5.5 0h1m-0.5 0h1m-52 0.5h1m-0.5 0h1m-0.5 0h1m-0.5 0h1m1 0h1m-0.5 0h1m-0.5 0h1m-0.5 0h1m0 0h1m0 0h1m0 0h1m1 0h1m-0.5 0h1m-0.5 0h1m0.5 0h1m-0.5 0h1m0.5 0h1m-0.5 0h1m-0.5 0h1m-0.5 0h1m0 0h1m-0.5 0h1m0 0h1m-0.5 0h1m-0.5 0h1m0 0h1m0 0h1m-0.5 0h1m1.5 0h1m0.5 0h1m-0.5 0h1m5.5 0h1m3 0h1m3 0h1m5.5 0h1m-48.5 0.5h1m0 0h1m0.5 0h1m-0.5 0h1m0.5 0h1m0 0h1m0.5 0h1m-0.5 0h1m0.5 0h1m0 0h1m2 0h1m-0.5 0h1m-0.5 0h1m-0.5 0h1m0.5 0h1m0 0h1m0 0h1m-0.5 0h1m-0.5 0h1m0 0h1m-0.5 0h1m0.5 0h1m0.5 0h1m0.5 0h1m0.5 0h1m0.5 0h1m12 0h1m-41 0.5h1m0 0h1m0.5 0h1m0.5 0h1m0 0h1m0 0h1m-0.5 0h1m-0.5 0h1m-0.5 0h1m1.5 0h1m-0.5 0h1m-0.5 0h1m0 0h1m0 0h1m1 0h1m0.5 0h1m0.5 0h1m1.5 0h1m-0.5 0h1m0 0h1m0.5 0h1m0.5 0h1m-0.5 0h1m-0.5 0h1m0 0h1m1 0h1m16.5 0h1m-46 0.5h1m3 0h1m0 0h1m0.5 0h1m3 0h1m1 0h1m-0.5 0h1m0 0h1m-0.5 0h1m-0.5 0h1m-0.5 0h1m1 0h1m-0.5 0h1m0 0h1m0 0h1m0 0h1m2.5 0h1m0 0h1m4.5 0h1m5 0h1m-40 0.5h1m1 0h1m-0.5 0h1m4 0h1m0.5 0h1m0.5 0h1m1 0h1m0.5 0h1m-0.5 0h1m0 0h1m-0.5 0h1m-0.5 0h1m2 0h1m1.5 0h1m1 0h1m0 0h1m0 0h1m1.5 0h1m0 0h1m-31 0.5h1m11.5 0h1m0 0h1m-0.5 0h1m0.5 0h1m-0.5 0h1m0.5 0h1m2 0h1m-0.5 0h1m0 0h1m0.5 0h1m3.5 0h1m1.5 0h1m-0.5 0h1m-23 0.5h1m0.5 0h1m1 0h1m2 0h1m-0.5 0h1m0 0h1m-0.5 0h1m0 0h1m0 0h1m0.5 0h1m-0.5 0h1m0 0h1m2.5 0h1m10.5 0h1m-25.5 0.5h1m1 0h1m-0.5 0h1m-0.5 0h1m3 0h1m-0.5 0h1m0.5 0h1m-0.5 0h1m2.5 0h1m2.5 0h1m-30.5 0.5h1m-0.5 0h1m4 0h1m-0.5 0h1m1.5 0h1m6 0h1m-0.5 0h1m4.5 0h1m1.5 0h1m15 0h1m4 0h1m-46 0.5h1m5 0h1m5.5 0h1m4 0h1m0.5 0h1m6.5 0h1m1.5 0h1m-19 0.5h1m0 0h1m1 0h1m4 0h1m2.5 0h1m0.5 0h1m8 0h1m0 0h1m-28.5 0.5h1m1.5 0h1m1 0h1m8 0h1m8 0h1m-30 0.5h1m13.5 0h1m3.5 0h1m0 0h1m1.5 0h1m0 0h1m-11.5 0.5h1m1.5 0h1m-0.5 0h1m4.5 0h1m1 0h1m2.5 0h1m0 0h1m3.5 0h1m-21 0.5h1m-2 0.5h1M0 0m17 515.3h1m20 0.5h1m-21 0.5h1m14.5 0.5h1m4.5 0h1m-23 0.5h1m22.5 0h1m26.5 0h1m-32.5 0.5h1m-11.5 0.5h1m5.5 0h1m6 0h1m4 0h1m0.5 0h1m-12.5 0.5h1m0 0h1m1.5 0h1m-12.5 0.5h1m1 0h1m6.5 0h1m1 0h1m1.5 0h1m0 0h1m26.5 0h1m-53 0.5h1m-0.5 0h1m5.5 0h1m0 0h1m3 0h1m1.5 0h1m1 0h1m-0.5 0h1m0.5 0h1m0 0h1m1.5 0h1m7.5 0h1m15 0h1m6 0h1m-54.5 0.5h1m5.5 0h1m-0.5 0h1m1 0h1m-0.5 0h1m-0.5 0h1m-0.5 0h1m2 0h1m0.5 0h1m-0.5 0h1m-0.5 0h1m-0.5 0h1m2.5 0h1m2 0h1m0.5 0h1m7 0h1m2 0h1m9.5 0h1m-47 0.5h1m-0.5 0h1m4.5 0h1m0 0h1m1.5 0h1m2 0h1m1.5 0h1m0.5 0h1m-0.5 0h1m-0.5 0h1m-0.5 0h1m1.5 0h1m3 0h1m0 0h1m2 0h1m5 0h1m14.5 0h1m-51 0.5h1m-0.5 0h1m-0.5 0h1m0 0h1m1 0h1m-0.5 0h1m-0.5 0h1m1.5 0h1m1 0h1m3 0h1m0 0h1m0 0h1m-0.5 0h1m0 0h1m-0.5 0h1m-0.5 0h1m0 0h1m-0.5 0h1m1 0h1m3 0h1m5.5 0h1m4 0h1m-0.5 0h1m10.5 0h1m2 0h1m-53 0.5h1m0.5 0h1m0 0h1m1.5 0h1m1.5 0h1m-0.5 0h1m-0.5 0h1m1.5 0h1m0 0h1m-0.5 0h1m0.5 0h1m0 0h1m0 0h1m0.5 0h1m-0.5 0h1m0 0h1m-0.5 0h1m-0.5 0h1m0 0h1m0 0h1m1.5 0h1m-0.5 0h1m0.5 0h1m0.5 0h1m8 0h1m4 0h1m3.5 0h1m0.5 0h1m2 0h1m-0.5 0h1m1 0h1m0 0h1m-0.5 0h1m-56 0.5h1m0.5 0h1m-0.5 0h1m-0.5 0h1m-0.5 0h1m0 0h1m-0.5 0h1m-0.5 0h1m0 0h1m2 0h1m0.5 0h1m-0.5 0h1m1 0h1m1.5 0h1m-0.5 0h1m2 0h1m0 0h1m0 0h1m-0.5 0h1m-0.5 0h1m-0.5 0h1m1 0h1m0.5 0h1m0.5 0h1m1.5 0h1m3.5 0h1m5.5 0h1m2 0h1m2.5 0h1m0.5 0h1m0.5 0h1m0 0h1m-51 0.5h1m-0.5 0h1m0 0h1m0.5 0h1m0 0h1m-0.5 0h1m-0.5 0h1m-0.5 0h1m-0.5 0h1m-0.5 0h1m0 0h1m-0.5 0h1m-0.5 0h1m-0.5 0h1m0 0h1m-0.5 0h1m-0.5 0h1m-0.5 0h1m-0.5 0h1m-0.5 0h1m0 0h1m0 0h1m-0.5 0h1m-0.5 0h1m0 0h1m-0.5 0h1m-0.5 0h1m0 0h1m0 0h1m2 0h1m-0.5 0h1m1 0h1m0 0h1m3 0h1m-0.5 0h1m11.5 0h1m-45.5 0.5h1m1 0h1m-0.5 0h1m0 0h1m-0.5 0h1m-0.5 0h1m0 0h1m0 0h1m0 0h1m0.5 0h1m-0.5 0h1m-0.5 0h1m-0.5 0h1m0 0h1m0.5 0h1m-0.5 0h1m1 0h1m0.5 0h1m-0.5 0h1m1 0h1m1 0h1m-0.5 0h1m-0.5 0h1m0.5 0h1m-0.5 0h1m-0.5 0h1m1 0h1m1 0h1m-0.5 0h1m6.5 0h1m-0.5 0h1m15.5 0h1m-55.5 0.5h1m0 0h1m-0.5 0h1m0 0h1m2 0h1m-0.5 0h1m0 0h1m-0.5 0h1m-0.5 0h1m-0.5 0h1m-0.5 0h1m-0.5 0h1m0 0h1m0 0h1m0.5 0h1m-0.5 0h1m-0.5 0h1m-0.5 0h1m0 0h1m0.5 0h1m0 0h1m-0.5 0h1m-0.5 0h1m0 0h1m-0.5 0h1m-0.5 0h1m-0.5 0h1m0 0h1m-0.5 0h1m-0.5 0h1m1.5 0h1m0 0h1m-0.5 0h1m0 0h1m0.5 0h1m5 0h1m5 0h1m1 0h1m0 0h1m-0.5 0h1m2 0h1m1 0h1m8 0h1m-59.5 0.5h1m-0.5 0h1m1 0h1m0 0h1m-0.5 0h1m1 0h1m-0.5 0h1m-0.5 0h1m0 0h1m1 0h1m0 0h1m-0.5 0h1m0 0h1m-0.5 0h1m0 0h1m0.5 0h1m-0.5 0h1m-0.5 0h1m0 0h1m-0.5 0h1m-0.5 0h1m0 0h1m-0.5 0h1m-0.5 0h1m-0.5 0h1m-0.5 0h1m-0.5 0h1m0 0h1m3 0h1m0.5 0h1m15 0h1m4 0h1m-51 0.5h1m-0.5 0h1m2 0h1m1.5 0h1m-0.5 0h1m1.5 0h1m-0.5 0h1m-0.5 0h1m-0.5 0h1m0.5 0h1m0 0h1m-0.5 0h1m-0.5 0h1m0.5 0h1m0 0h1m-0.5 0h1m-0.5 0h1m0 0h1m-0.5 0h1m-0.5 0h1m-0.5 0h1m0 0h1m0 0h1m-0.5 0h1m-0.5 0h1m-0.5 0h1m0 0h1m0.5 0h1m0.5 0h1m1.5 0h1m10 0h1m5 0h1m0 0h1m-49 0.5h1m1.5 0h1m1.5 0h1m0.5 0h1m0 0h1m-0.5 0h1m-0.5 0h1m0 0h1m-0.5 0h1m0 0h1m-0.5 0h1m-0.5 0h1m0 0h1m0 0h1m-0.5 0h1m0.5 0h1m-0.5 0h1m0 0h1m-0.5 0h1m0 0h1m-0.5 0h1m-0.5 0h1m-0.5 0h1m-0.5 0h1m-0.5 0h1m0 0h1m-0.5 0h1m-0.5 0h1m0 0h1m-0.5 0h1m-0.5 0h1m-0.5 0h1m-0.5 0h1m0.5 0h1m0 0h1m-0.5 0h1m2 0h1m-33 0.5h1m3 0h1m1 0h1m-0.5 0h1m0 0h1m-0.5 0h1m2.5 0h1m-0.5 0h1m-0.5 0h1m0 0h1m-0.5 0h1m-0.5 0h1m-0.5 0h1m0.5 0h1m-0.5 0h1m-0.5 0h1m-0.5 0h1m-0.5 0h1m0 0h1m-0.5 0h1m-0.5 0h1m3 0h1m-0.5 0h1m-0.5 0h1m-0.5 0h1m10.5 0h1m7 0h1m-47 0.5h1m1 0h1m1 0h1m0.5 0h1m2.5 0h1m-0.5 0h1m-0.5 0h1m0.5 0h1m-0.5 0h1m-0.5 0h1m-0.5 0h1m1 0h1m-0.5 0h1m0 0h1m0 0h1m-0.5 0h1m-0.5 0h1m0 0h1m0 0h1m1.5 0h1m-0.5 0h1m0.5 0h1m0 0h1m2 0h1m4 0h1m7.5 0h1m0.5 0h1m0.5 0h1m1 0h1m-0.5 0h1m-48.5 0.5h1m6.5 0h1m0 0h1m6.5 0h1m1.5 0h1m0 0h1m0 0h1m2.5 0h1m0 0h1m-0.5 0h1m0.5 0h1m1.5 0h1m-31 0.5h1m-0.5 0h1m5 0h1m0 0h1m0.5 0h1m0.5 0h1m-0.5 0h1m1.5 0h1m0.5 0h1m-0.5 0h1m-0.5 0h1m0.5 0h1m-0.5 0h1m-0.5 0h1m-0.5 0h1m-0.5 0h1m-0.5 0h1m-0.5 0h1m0.5 0h1m8 0h1m3.5 0h1m8.5 0h1m0.5 0h1m-39 0.5h1m6.5 0h1m1 0h1m-0.5 0h1m0.5 0h1m-0.5 0h1m-0.5 0h1m-0.5 0h1m1.5 0h1m1.5 0h1m11 0h1m-39.5 0.5h1m-0.5 0h1m-0.5 0h1m12 0h1m0.5 0h1m-0.5 0h1m2.5 0h1m0 0h1m4 0h1m-0.5 0h1m0 0h1m10 0h1m-32 0.5h1m0 0h1m-0.5 0h1m1.5 0h1m0.5 0h1m0.5 0h1m1 0h1m2 0h1m-0.5 0h1m-0.5 0h1m0 0h1m0 0h1m0 0h1m7 0h1m15 0h1m-36.5 0.5h1m0.5 0h1m0 0h1m0.5 0h1m1 0h1m2 0h1m0 0h1m2 0h1m-13 0.5h1m4.5 0h1m0 0h1m5 0h1m6 0h1m-32.5 0.5h1m9.5 0h1m-0.5 0h1m0 0h1m11 0h1m1 0h1m2 0h1m-29 0.5h1m15.5 0h1m1.5 0h1m0.5 0h1m-12.5 0.5h1m12.5 0h1m-17 1h1m6 0h1m1.5 0h1m8.5 0h1m-13 0.5h1m4 0h1m2.5 0h1M0 0m87.5 512.3h1m23.5 2h1m-25.5 0.5h1m21 0h1m-13.5 0.5h1m20 1h1m-14 0.5h1m4.5 0h1m0 0.5h1m-16 0.5h1m5.5 0h1m3.5 0h1m-20.5 0.5h1m3.5 0h1m7 0h1m2.5 0h1m-0.5 0h1m9.5 0h1m1 0h1m-30.5 0.5h1m9.5 0h1m-0.5 0h1m2 0h1m-0.5 0h1m0 0h1m0 0h1m0 0h1m0 0h1m0.5 0h1m2.5 0h1m-0.5 0h1m7.5 0h1m-19.5 0.5h1m-0.5 0h1m2.5 0h1m-0.5 0h1m-0.5 0h1m2 0h1m0 0h1m0.5 0h1m-26 0.5h1m0 0h1m-0.5 0h1m2.5 0h1m0.5 0h1m1 0h1m2 0h1m1 0h1m0 0h1m-0.5 0h1m1 0h1m-0.5 0h1m1 0h1m0 0h1m-0.5 0h1m0 0h1m-0.5 0h1m0 0h1m0.5 0h1m1.5 0h1m-0.5 0h1m2.5 0h1m14 0h1m-47.5 0.5h1m-0.5 0h1m-0.5 0h1m4.5 0h1m4 0h1m-0.5 0h1m1 0h1m-0.5 0h1m0 0h1m2 0h1m0.5 0h1m-0.5 0h1m0 0h1m-0.5 0h1m0 0h1m5 0h1m13.5 0h1m-0.5 0h1m-44.5 0.5h1m1 0h1m-0.5 0h1m-0.5 0h1m4 0h1m-0.5 0h1m2 0h1m-0.5 0h1m3 0h1m-0.5 0h1m-0.5 0h1m-0.5 0h1m0 0h1m3 0h1m1 0h1m-0.5 0h1m-0.5 0h1m11 0h1m0 0h1m2.5 0h1m-38.5 0.5h1m0.5 0h1m1 0h1m2.5 0h1m0 0h1m0 0h1m-0.5 0h1m-0.5 0h1m-0.5 0h1m-0.5 0h1m-0.5 0h1m-0.5 0h1m-0.5 0h1m-0.5 0h1m1.5 0h1m1 0h1m0.5 0h1m2 0h1m4 0h1m7.5 0h1m0 0h1m-42 0.5h1m0 0h1m0 0h1m1 0h1m0.5 0h1m-0.5 0h1m1.5 0h1m0.5 0h1m-0.5 0h1m1 0h1m1 0h1m0 0h1m0.5 0h1m-0.5 0h1m-0.5 0h1m0 0h1m0 0h1m2.5 0h1m-0.5 0h1m0.5 0h1m1 0h1m1.5 0h1m-31.5 0.5h1m3 0h1m0.5 0h1m-0.5 0h1m0 0h1m-0.5 0h1m-0.5 0h1m0 0h1m-0.5 0h1m0 0h1m-0.5 0h1m0 0h1m0 0h1m0.5 0h1m1 0h1m0.5 0h1m0 0h1m0 0h1m1 0h1m-0.5 0h1m0 0h1m-0.5 0h1m-0.5 0h1m0.5 0h1m-0.5 0h1m0.5 0h1m0 0h1m1 0h1m0.5 0h1m6 0h1m7.5 0h1m-48.5 0.5h1m1.5 0h1m-0.5 0h1m1.5 0h1m-0.5 0h1m0.5 0h1m-0.5 0h1m-0.5 0h1m0 0h1m-0.5 0h1m-0.5 0h1m0 0h1m-0.5 0h1m1 0h1m-0.5 0h1m-0.5 0h1m-0.5 0h1m0 0h1m0 0h1m0 0h1m0 0h1m-0.5 0h1m-0.5 0h1m0.5 0h1m0 0h1m1.5 0h1m-0.5 0h1m1 0h1m3 0h1m9 0h1m-0.5 0h1m7.5 0h1m1 0h1m-54.5 0.5h1m0 0h1m0.5 0h1m0.5 0h1m2 0h1m-0.5 0h1m0 0h1m-0.5 0h1m0.5 0h1m-0.5 0h1m0.5 0h1m-0.5 0h1m0 0h1m0 0h1m-0.5 0h1m-0.5 0h1m-0.5 0h1m0.5 0h1m-0.5 0h1m-0.5 0h1m-0.5 0h1m-0.5 0h1m-0.5 0h1m-0.5 0h1m0 0h1m1.5 0h1m-0.5 0h1m1 0h1m3.5 0h1m0 0h1m4.5 0h1m3 0h1m0.5 0h1m-44.5 0.5h1m0.5 0h1m0.5 0h1m-0.5 0h1m-0.5 0h1m0.5 0h1m-0.5 0h1m-0.5 0h1m1 0h1m-0.5 0h1m-0.5 0h1m-0.5 0h1m-0.5 0h1m0 0h1m-0.5 0h1m0 0h1m-0.5 0h1m0 0h1m-0.5 0h1m-0.5 0h1m0.5 0h1m0 0h1m-0.5 0h1m0 0h1m-0.5 0h1m-0.5 0h1m-0.5 0h1m-0.5 0h1m0 0h1m-0.5 0h1m0.5 0h1m0 0h1m-0.5 0h1m1.5 0h1m0.5 0h1m-0.5 0h1m4.5 0h1m8 0h1m-46 0.5h1m-0.5 0h1m2 0h1m0 0h1m-0.5 0h1m0 0h1m-0.5 0h1m1 0h1m-0.5 0h1m0 0h1m0 0h1m-0.5 0h1m1 0h1m-0.5 0h1m-0.5 0h1m0.5 0h1m-0.5 0h1m-0.5 0h1m1 0h1m0.5 0h1m-0.5 0h1m-0.5 0h1m0 0h1m-0.5 0h1m-0.5 0h1m-0.5 0h1m0.5 0h1m1.5 0h1m1 0h1m4.5 0h1m-36.5 0.5h1m-0.5 0h1m0.5 0h1m3.5 0h1m-0.5 0h1m1 0h1m-0.5 0h1m-0.5 0h1m-0.5 0h1m-0.5 0h1m-0.5 0h1m1 0h1m0.5 0h1m-0.5 0h1m-0.5 0h1m-0.5 0h1m-0.5 0h1m0.5 0h1m0 0h1m-0.5 0h1m0.5 0h1m0 0h1m0 0h1m0 0h1m0 0h1m-0.5 0h1m-0.5 0h1m12 0h1m0.5 0h1m0 0h1m-0.5 0h1m-44 0.5h1m0 0h1m0.5 0h1m3 0h1m-0.5 0h1m-0.5 0h1m0 0h1m3 0h1m-0.5 0h1m0 0h1m-0.5 0h1m0.5 0h1m-0.5 0h1m-0.5 0h1m1 0h1m-0.5 0h1m0 0h1m-0.5 0h1m-0.5 0h1m0 0h1m-0.5 0h1m-0.5 0h1m-0.5 0h1m2 0h1m0.5 0h1m0 0h1m-0.5 0h1m-0.5 0h1m0 0h1m2 0h1m1 0h1m4 0h1m3.5 0h1m-46.5 0.5h1m-0.5 0h1m1.5 0h1m0 0h1m0.5 0h1m-0.5 0h1m0 0h1m0 0h1m1.5 0h1m0.5 0h1m-0.5 0h1m-0.5 0h1m0 0h1m2 0h1m-0.5 0h1m0 0h1m-0.5 0h1m0.5 0h1m0 0h1m0 0h1m1 0h1m0.5 0h1m-0.5 0h1m0.5 0h1m3.5 0h1m-33 0.5h1m-0.5 0h1m2 0h1m-0.5 0h1m0 0h1m-0.5 0h1m0 0h1m-0.5 0h1m0.5 0h1m-0.5 0h1m-0.5 0h1m1.5 0h1m-0.5 0h1m-0.5 0h1m-0.5 0h1m1.5 0h1m-0.5 0h1m-0.5 0h1m0 0h1m-0.5 0h1m2.5 0h1m0.5 0h1m-0.5 0h1m-0.5 0h1m-0.5 0h1m2 0h1m0 0h1m5.5 0h1m5.5 0h1m15 0h1m-59.5 0.5h1m0 0h1m3 0h1m-0.5 0h1m1.5 0h1m0.5 0h1m0 0h1m-0.5 0h1m0 0h1m0 0h1m2 0h1m0 0h1m-0.5 0h1m0.5 0h1m-0.5 0h1m1 0h1m-0.5 0h1m-0.5 0h1m0.5 0h1m-0.5 0h1m1 0h1m-0.5 0h1m0 0h1m-0.5 0h1m-0.5 0h1m-30 0.5h1m0.5 0h1m2 0h1m2 0h1m1 0h1m0 0h1m0 0h1m1 0h1m0 0h1m0.5 0h1m-0.5 0h1m-0.5 0h1m0.5 0h1m-0.5 0h1m2.5 0h1m-0.5 0h1m2 0h1m-0.5 0h1m0 0h1m-0.5 0h1m1 0h1m0.5 0h1m4 0h1m-37.5 0.5h1m9 0h1m0.5 0h1m-0.5 0h1m-0.5 0h1m0.5 0h1m1 0h1m0 0h1m0 0h1m0 0h1m-0.5 0h1m-0.5 0h1m0 0h1m1.5 0h1m1.5 0h1m1.5 0h1m0 0h1m1 0h1m5.5 0h1m-35 0.5h1m0.5 0h1m0.5 0h1m6.5 0h1m1 0h1m-0.5 0h1m4 0h1m-0.5 0h1m0.5 0h1m-0.5 0h1m0.5 0h1m3 0h1m1 0h1m-23 0.5h1m0.5 0h1m3.5 0h1m0 0h1m-0.5 0h1m0 0h1m2 0h1m-0.5 0h1m1 0h1m4 0h1m-23.5 0.5h1m0 0h1m4.5 0h1m2 0h1m0 0h1m2.5 0h1m7.5 0h1m-0.5 0h1m-27 0.5h1m9 0h1m1.5 0h1m0.5 0h1m-0.5 0h1m-0.5 0h1m0.5 0h1m-0.5 0h1m-0.5 0h1m0.5 0h1m0.5 0h1m-0.5 0h1m-25.5 0.5h1m11.5 0h1m0.5 0h1m0 0h1m2 0h1m3.5 0h1m-0.5 0h1m-0.5 0h1m7 0h1m2.5 0h1m-27 0.5h1m6.5 0h1m1.5 0h1m0.5 0h1m1.5 0h1m1 0h1m4.5 0h1m-23.5 0.5h1m8.5 0h1m0 0h1m3.5 0h1m0 0h1m0.5 0h1m7 0h1m0.5 0h1m-35 0.5h1m6 0h1m5 0h1m3.5 0h1m-7.5 0.5h1m5 0h1M0 0m32.5 580.2h1m4 1h1m-7 1h1m-5 0.5h1m3.5 0h1m13 0.5h1m-18 1h1m3.5 0h1m0 0h1m-12 0.5h1m10.5 0h1m4.5 0h1m0 0h1m-25.5 0.5h1m-0.5 0h1m5.5 0h1m7.5 0h1m1.5 0h1m1 0h1m4 0h1m13 0h1m-35 0.5h1m0 0h1m7.5 0h1m-0.5 0h1m0 0h1m0.5 0h1m2.5 0h1m1.5 0h1m-0.5 0h1m22 0h1m-48 0.5h1m-0.5 0h1m1 0h1m4 0h1m-0.5 0h1m0.5 0h1m3 0h1m-0.5 0h1m8 0h1m1 0h1m4.5 0h1m14 0h1m-46 0.5h1m1.5 0h1m-0.5 0h1m0.5 0h1m2.5 0h1m3.5 0h1m-0.5 0h1m-0.5 0h1m-0.5 0h1m-0.5 0h1m0.5 0h1m0 0h1m0 0h1m1 0h1m-0.5 0h1m0 0h1m0 0h1m-0.5 0h1m0.5 0h1m2 0h1m-0.5 0h1m0 0h1m25.5 0h1m-56 0.5h1m0.5 0h1m2.5 0h1m-0.5 0h1m-0.5 0h1m1 0h1m0 0h1m0.5 0h1m-0.5 0h1m-0.5 0h1m0 0h1m1.5 0h1m0.5 0h1m0 0h1m-0.5 0h1m1 0h1m-0.5 0h1m2.5 0h1m1.5 0h1m12.5 0h1m-42 0.5h1m1 0h1m2.5 0h1m-0.5 0h1m-0.5 0h1m-0.5 0h1m0 0h1m0.5 0h1m0 0h1m-0.5 0h1m0.5 0h1m-0.5 0h1m-0.5 0h1m-0.5 0h1m-0.5 0h1m0 0h1m1 0h1m-0.5 0h1m-0.5 0h1m3 0h1m0 0h1m0.5 0h1m1 0h1m0 0h1m-0.5 0h1m17.5 0h1m-48 0.5h1m-0.5 0h1m-0.5 0h1m-0.5 0h1m-0.5 0h1m0 0h1m-0.5 0h1m-0.5 0h1m-0.5 0h1m0.5 0h1m-0.5 0h1m-0.5 0h1m-0.5 0h1m0 0h1m0.5 0h1m-0.5 0h1m-0.5 0h1m0 0h1m0 0h1m0 0h1m0.5 0h1m0 0h1m0 0h1m-0.5 0h1m-0.5 0h1m-0.5 0h1m0 0h1m0 0h1m-0.5 0h1m-0.5 0h1m-0.5 0h1m1 0h1m0 0h1m10.5 0h1m4 0h1m2.5 0h1m-46.5 0.5h1m0 0h1m0 0h1m0 0h1m3 0h1m0.5 0h1m0 0h1m0.5 0h1m-0.5 0h1m-0.5 0h1m0 0h1m-0.5 0h1m-0.5 0h1m-0.5 0h1m-0.5 0h1m0.5 0h1m0.5 0h1m-0.5 0h1m-0.5 0h1m-0.5 0h1m-0.5 0h1m0 0h1m0.5 0h1m0.5 0h1m1.5 0h1m0.5 0h1m1 0h1m-0.5 0h1m-0.5 0h1m5 0h1m3 0h1m6 0h1m2.5 0h1m2.5 0h1m-55.5 0.5h1m-0.5 0h1m-0.5 0h1m0.5 0h1m0.5 0h1m0 0h1m-0.5 0h1m-0.5 0h1m-0.5 0h1m0 0h1m-0.5 0h1m-0.5 0h1m0 0h1m1 0h1m-0.5 0h1m0 0h1m1.5 0h1m1 0h1m0 0h1m-0.5 0h1m-0.5 0h1m4.5 0h1m-0.5 0h1m2 0h1m4 0h1m9.5 0h1m0 0h1m0 0h1m4 0h1m-0.5 0h1m-53 0.5h1m0 0h1m0.5 0h1m0.5 0h1m0.5 0h1m-0.5 0h1m-0.5 0h1m-0.5 0h1m-0.5 0h1m1 0h1m0.5 0h1m-0.5 0h1m-0.5 0h1m-0.5 0h1m-0.5 0h1m0.5 0h1m0.5 0h1m0 0h1m-0.5 0h1m0 0h1m-0.5 0h1m2 0h1m-0.5 0h1m-0.5 0h1m-0.5 0h1m1 0h1m-0.5 0h1m1 0h1m0.5 0h1m10.5 0h1m7.5 0h1m-49.5 0.5h1m1 0h1m-0.5 0h1m-0.5 0h1m0 0h1m-0.5 0h1m0 0h1m-0.5 0h1m0 0h1m-0.5 0h1m-0.5 0h1m-0.5 0h1m0 0h1m-0.5 0h1m0 0h1m-0.5 0h1m-0.5 0h1m-0.5 0h1m1 0h1m-0.5 0h1m0 0h1m-0.5 0h1m0 0h1m-0.5 0h1m-0.5 0h1m0 0h1m-0.5 0h1m-0.5 0h1m0 0h1m-0.5 0h1m-0.5 0h1m2 0h1m0 0h1m1 0h1m0 0h1m0.5 0h1m12.5 0h1m-46.5 0.5h1m-0.5 0h1m-0.5 0h1m3 0h1m0.5 0h1m0.5 0h1m-0.5 0h1m1 0h1m-0.5 0h1m-0.5 0h1m-0.5 0h1m-0.5 0h1m0 0h1m-0.5 0h1m0.5 0h1m-0.5 0h1m-0.5 0h1m-0.5 0h1m-0.5 0h1m-0.5 0h1m-0.5 0h1m-0.5 0h1m0.5 0h1m0 0h1m-0.5 0h1m-0.5 0h1m0 0h1m-0.5 0h1m-0.5 0h1m-0.5 0h1m-0.5 0h1m-0.5 0h1m1 0h1m6 0h1m14.5 0h1m-51 0.5h1m5 0h1m0.5 0h1m0.5 0h1m0.5 0h1m-0.5 0h1m-0.5 0h1m0 0h1m-0.5 0h1m-0.5 0h1m-0.5 0h1m-0.5 0h1m-0.5 0h1m-0.5 0h1m-0.5 0h1m-0.5 0h1m-0.5 0h1m-0.5 0h1m-0.5 0h1m-0.5 0h1m0.5 0h1m1 0h1m0.5 0h1m0.5 0h1m0 0h1m0.5 0h1m3.5 0h1m2 0h1m9.5 0h1m-0.5 0h1m1 0h1m-49.5 0.5h1m-0.5 0h1m-0.5 0h1m0.5 0h1m-0.5 0h1m-0.5 0h1m0.5 0h1m2 0h1m0.5 0h1m-0.5 0h1m0 0h1m-0.5 0h1m0 0h1m0 0h1m-0.5 0h1m-0.5 0h1m0 0h1m1 0h1m0 0h1m-0.5 0h1m-0.5 0h1m-0.5 0h1m0 0h1m-0.5 0h1m-0.5 0h1m0.5 0h1m-0.5 0h1m3 0h1m0.5 0h1m1 0h1m0 0h1m-33.5 0.5h1m-0.5 0h1m-0.5 0h1m0 0h1m0.5 0h1m3.5 0h1m1 0h1m2.5 0h1m-0.5 0h1m-0.5 0h1m-0.5 0h1m-0.5 0h1m-0.5 0h1m-0.5 0h1m5 0h1m1.5 0h1m0.5 0h1m5 0h1m-0.5 0h1m4 0h1m2 0h1m2 0h1m-36.5 0.5h1m0 0h1m2 0h1m0 0h1m0 0h1m-0.5 0h1m-0.5 0h1m-0.5 0h1m1.5 0h1m0.5 0h1m0.5 0h1m0 0h1m-0.5 0h1m0 0h1m0 0h1m0.5 0h1m0 0h1m6.5 0h1m12.5 0h1m-50 0.5h1m-0.5 0h1m-0.5 0h1m2.5 0h1m5.5 0h1m3.5 0h1m-0.5 0h1m1 0h1m0 0h1m-0.5 0h1m-0.5 0h1m-0.5 0h1m0 0h1m0 0h1m1.5 0h1m-0.5 0h1m6.5 0h1m-32.5 0.5h1m4 0h1m3 0h1m0.5 0h1m0 0h1m-0.5 0h1m2.5 0h1m0 0h1m0 0h1m-0.5 0h1m0 0h1m0 0h1m-0.5 0h1m-0.5 0h1m1 0h1m0 0h1m4 0h1m14 0h1m-45.5 0.5h1m-0.5 0h1m4.5 0h1m4.5 0h1m2 0h1m-0.5 0h1m2 0h1m0.5 0h1m2.5 0h1m2 0h1m1 0h1m0.5 0h1m-17.5 0.5h1m1 0h1m0.5 0h1m-0.5 0h1m0 0h1m0 0h1m3 0h1m-0.5 0h1m-14 0.5h1m1.5 0h1m0 0h1m-0.5 0h1m1 0h1m0.5 0h1m1 0h1m0 0h1m4.5 0h1m-24.5 0.5h1m10 0h1m2.5 0h1m0 0h1m0 0h1m1.5 0h1m-15 0.5h1m2 0h1m0.5 0h1m-0.5 0h1m0.5 0h1m-0.5 0h1m4.5 0h1m-6 0.5h1m0.5 0h1m-0.5 0h1m2 0h1m1.5 0h1m-0.5 0h1m0.5 0h1m0 0h1m0.5 0h1m-11 0.5h1m-6 0.5h1m5.5 0h1m7.5 0h1m-28 0.5h1m3 0h1m9 0h1m4.5 0h1m2.5 0h1m-6.5 0.5h1m3 0h1m-0.5 0h1M0 0m105 580.7h1m-6 0.5h1m3 0h1m1 0h1m-4 0.5h1m-0.5 0h1m4.5 0h1m-9.5 0.5h1m-6 0.5h1m4.5 0h1m-0.5 0h1m2 0h1m2.5 0h1m-4 0.5h1m11.5 0h1m-24.5 0.5h1m0 0h1m0.5 0h1m1.5 0h1m1 0h1m4.5 0h1m0 0h1m3 0h1m1.5 0h1m1 0h1m-30 0.5h1m13 0h1m0.5 0h1m0.5 0h1m1 0h1m0.5 0h1m0 0h1m1 0h1m-0.5 0h1m0 0h1m-20 0.5h1m2 0h1m-0.5 0h1m2 0h1m2.5 0h1m3 0h1m2.5 0h1m0.5 0h1m1 0h1m5 0h1m-27.5 0.5h1m3 0h1m1 0h1m0.5 0h1m0.5 0h1m1 0h1m1.5 0h1m1 0h1m-0.5 0h1m-0.5 0h1m1.5 0h1m0 0h1m1.5 0h1m17.5 0h1m-39.5 0.5h1m-0.5 0h1m1.5 0h1m1 0h1m-0.5 0h1m-0.5 0h1m0.5 0h1m0 0h1m0 0h1m3.5 0h1m2 0h1m3 0h1m12.5 0h1m-42 0.5h1m1.5 0h1m1 0h1m0.5 0h1m2.5 0h1m-0.5 0h1m-0.5 0h1m-0.5 0h1m1.5 0h1m1 0h1m1.5 0h1m1 0h1m-0.5 0h1m0.5 0h1m0 0h1m4 0h1m-31.5 0.5h1m2 0h1m0.5 0h1m-0.5 0h1m-0.5 0h1m0 0h1m-0.5 0h1m1 0h1m-0.5 0h1m1 0h1m0 0h1m-0.5 0h1m0.5 0h1m0 0h1m-0.5 0h1m0 0h1m-0.5 0h1m1 0h1m-0.5 0h1m-0.5 0h1m2.5 0h1m0 0h1m-0.5 0h1m0 0h1m0 0h1m0.5 0h1m-29.5 0.5h1m1 0h1m2 0h1m0 0h1m0.5 0h1m-0.5 0h1m-0.5 0h1m0 0h1m0 0h1m0 0h1m0.5 0h1m-0.5 0h1m-0.5 0h1m0 0h1m2.5 0h1m0 0h1m-0.5 0h1m-0.5 0h1m0 0h1m0 0h1m-0.5 0h1m5 0h1m0.5 0h1m12 0h1m2.5 0h1m-48 0.5h1m-0.5 0h1m-0.5 0h1m3 0h1m0.5 0h1m0 0h1m1.5 0h1m-0.5 0h1m-0.5 0h1m1 0h1m0 0h1m-0.5 0h1m-0.5 0h1m2 0h1m0.5 0h1m0 0h1m0 0h1m-0.5 0h1m0.5 0h1m0 0h1m0.5 0h1m-0.5 0h1m-0.5 0h1m0 0h1m3.5 0h1m1.5 0h1m7.5 0h1m9 0h1m-55 0.5h1m-0.5 0h1m0 0h1m2 0h1m1.5 0h1m0 0h1m2 0h1m0 0h1m-0.5 0h1m-0.5 0h1m-0.5 0h1m0.5 0h1m-0.5 0h1m-0.5 0h1m-0.5 0h1m0 0h1m0 0h1m-0.5 0h1m-0.5 0h1m1.5 0h1m1 0h1m0.5 0h1m-0.5 0h1m1 0h1m-0.5 0h1m2.5 0h1m7.5 0h1m6 0h1m-48 0.5h1m-0.5 0h1m0 0h1m0.5 0h1m-0.5 0h1m-0.5 0h1m0.5 0h1m-0.5 0h1m-0.5 0h1m-0.5 0h1m-0.5 0h1m-0.5 0h1m-0.5 0h1m-0.5 0h1m-0.5 0h1m-0.5 0h1m-0.5 0h1m0 0h1m-0.5 0h1m0.5 0h1m0.5 0h1m-0.5 0h1m1 0h1m-0.5 0h1m-0.5 0h1m0.5 0h1m-0.5 0h1m0 0h1m-0.5 0h1m1 0h1m0 0h1m-0.5 0h1m5.5 0h1m0.5 0h1m11 0h1m-46.5 0.5h1m-0.5 0h1m4.5 0h1m0 0h1m-0.5 0h1m-0.5 0h1m-0.5 0h1m-0.5 0h1m-0.5 0h1m0 0h1m0.5 0h1m-0.5 0h1m1.5 0h1m0 0h1m-0.5 0h1m0.5 0h1m-0.5 0h1m-0.5 0h1m-0.5 0h1m0 0h1m-0.5 0h1m-0.5 0h1m-0.5 0h1m0 0h1m-0.5 0h1m-0.5 0h1m1.5 0h1m-0.5 0h1m18 0h1m5.5 0h1m-54 0.5h1m0 0h1m-0.5 0h1m0 0h1m-0.5 0h1m-0.5 0h1m0 0h1m0.5 0h1m1.5 0h1m0 0h1m0.5 0h1m-0.5 0h1m-0.5 0h1m-0.5 0h1m-0.5 0h1m-0.5 0h1m0 0h1m-0.5 0h1m0 0h1m-0.5 0h1m-0.5 0h1m-0.5 0h1m-0.5 0h1m-0.5 0h1m0 0h1m0 0h1m1.5 0h1m0 0h1m-0.5 0h1m0.5 0h1m-0.5 0h1m-0.5 0h1m0 0h1m0.5 0h1m0 0h1m0 0h1m1.5 0h1m5 0h1m13.5 0h1m-55.5 0.5h1m-0.5 0h1m1.5 0h1m0.5 0h1m0.5 0h1m0.5 0h1m0 0h1m-0.5 0h1m-0.5 0h1m0 0h1m-0.5 0h1m0 0h1m-0.5 0h1m0 0h1m0 0h1m-0.5 0h1m0.5 0h1m-0.5 0h1m-0.5 0h1m-0.5 0h1m0 0h1m-0.5 0h1m-0.5 0h1m1.5 0h1m0.5 0h1m0 0h1m-0.5 0h1m0 0h1m1 0h1m0.5 0h1m0.5 0h1m15.5 0h1m5.5 0h1m-55.5 0.5h1m-0.5 0h1m-0.5 0h1m-0.5 0h1m0 0h1m-0.5 0h1m0.5 0h1m0 0h1m0 0h1m-0.5 0h1m1 0h1m0 0h1m-0.5 0h1m0 0h1m-0.5 0h1m0.5 0h1m0 0h1m-0.5 0h1m0 0h1m-0.5 0h1m-0.5 0h1m-0.5 0h1m2 0h1m-0.5 0h1m-0.5 0h1m-0.5 0h1m0 0h1m-0.5 0h1m-0.5 0h1m-0.5 0h1m0 0h1m2 0h1m3.5 0h1m-0.5 0h1m0.5 0h1m0 0h1m4 0h1m3 0h1m11 0h1m0.5 0h1m-59.5 0.5h1m0 0h1m0.5 0h1m0.5 0h1m0.5 0h1m0 0h1m-0.5 0h1m0 0h1m-0.5 0h1m-0.5 0h1m1 0h1m-0.5 0h1m-0.5 0h1m-0.5 0h1m4 0h1m-0.5 0h1m0 0h1m0.5 0h1m0.5 0h1m-0.5 0h1m-0.5 0h1m-0.5 0h1m2 0h1m-0.5 0h1m-28 0.5h1m4 0h1m-0.5 0h1m1.5 0h1m1 0h1m-0.5 0h1m1 0h1m-0.5 0h1m-0.5 0h1m-0.5 0h1m0 0h1m1 0h1m0 0h1m-0.5 0h1m-0.5 0h1m0.5 0h1m-0.5 0h1m-0.5 0h1m-0.5 0h1m0 0h1m0 0h1m1.5 0h1m-0.5 0h1m-0.5 0h1m1 0h1m-30.5 0.5h1m2.5 0h1m0 0h1m-0.5 0h1m0.5 0h1m0.5 0h1m1 0h1m0.5 0h1m-0.5 0h1m0 0h1m1 0h1m-0.5 0h1m0 0h1m-0.5 0h1m0 0h1m-0.5 0h1m0 0h1m0.5 0h1m0.5 0h1m-0.5 0h1m0 0h1m0.5 0h1m0.5 0h1m0.5 0h1m-0.5 0h1m10.5 0h1m-0.5 0h1m-42 0.5h1m-0.5 0h1m-0.5 0h1m1 0h1m1.5 0h1m0 0h1m0 0h1m0 0h1m2 0h1m1.5 0h1m0.5 0h1m0.5 0h1m-0.5 0h1m0.5 0h1m0.5 0h1m0.5 0h1m0 0h1m0 0h1m0.5 0h1m2 0h1m0.5 0h1m-31 0.5h1m-0.5 0h1m4.5 0h1m4 0h1m0.5 0h1m0 0h1m-0.5 0h1m-0.5 0h1m0 0h1m0.5 0h1m0 0h1m-0.5 0h1m0 0h1m0 0h1m0.5 0h1m-0.5 0h1m0 0h1m-0.5 0h1m1.5 0h1m0 0h1m0 0h1m-29.5 0.5h1m1.5 0h1m2 0h1m2 0h1m0 0h1m0 0h1m2 0h1m0 0h1m1 0h1m-0.5 0h1m3 0h1m-0.5 0h1m0 0h1m0.5 0h1m0 0h1m-0.5 0h1m0 0h1m0.5 0h1m0.5 0h1m-0.5 0h1m17 0h1m-49 0.5h1m0 0h1m3 0h1m7.5 0h1m4 0h1m0.5 0h1m2.5 0h1m27 0h1m-52.5 0.5h1m-0.5 0h1m9 0h1m0 0h1m-0.5 0h1m0.5 0h1m-0.5 0h1m2.5 0h1m-0.5 0h1m0 0h1m0.5 0h1m5 0h1m-0.5 0h1m0 0h1m-26.5 0.5h1m1.5 0h1m3.5 0h1m5.5 0h1m0 0h1m0.5 0h1m-0.5 0h1m2.5 0h1m0.5 0h1m0 0h1m0 0h1m1 0h1m0 0h1m-26 0.5h1m8.5 0h1m1 0h1m14 0h1m-26.5 0.5h1m9 0h1m1.5 0h1m0.5 0h1m11 0h1m-24.5 0.5h1m-1 0.5h1m12.5 0h1m1 0h1m2 0h1m-10.5 0.5h1m4 0h1m-8.5 1h1m-0.5 0h1m8 0h1m1.5 0h1M0 0m32 648.1h1m4 0h1m-7 0.5h1m-14.5 0.5h1m-0.5 0h1m15.5 0h1m-0.5 0h1m2 0h1m-21 0.5h1m22.5 0h1m-24.5 0.5h1m0 0h1m7.5 0h1m3.5 0h1m-15.5 0.5h1m18 0h1m4.5 0h1m22 0h1m-48.5 0.5h1m3.5 0h1m6.5 0h1m-0.5 0h1m6 0h1m0 0h1m1 0h1m5 0h1m0 0h1m-31 0.5h1m-0.5 0h1m10 0h1m2.5 0h1m1 0h1m0 0h1m0.5 0h1m0.5 0h1m-0.5 0h1m0 0h1m1 0h1m-0.5 0h1m0.5 0h1m-0.5 0h1m1.5 0h1m20 0h1m-51 0.5h1m-0.5 0h1m0.5 0h1m0.5 0h1m7 0h1m1 0h1m-0.5 0h1m0 0h1m1 0h1m2.5 0h1m-0.5 0h1m0 0h1m0.5 0h1m0 0h1m1 0h1m0.5 0h1m-0.5 0h1m4.5 0h1m12.5 0h1m-0.5 0h1m-49 0.5h1m-0.5 0h1m3 0h1m2 0h1m-0.5 0h1m1 0h1m4.5 0h1m0 0h1m-0.5 0h1m-0.5 0h1m0 0h1m0 0h1m0 0h1m1 0h1m5.5 0h1m7.5 0h1m10 0h1m-49.5 0.5h1m-0.5 0h1m1 0h1m1 0h1m-0.5 0h1m-0.5 0h1m0 0h1m0.5 0h1m0 0h1m0.5 0h1m0 0h1m0.5 0h1m-0.5 0h1m0 0h1m0 0h1m0.5 0h1m1 0h1m0 0h1m-0.5 0h1m-0.5 0h1m-0.5 0h1m0 0h1m2 0h1m19.5 0h1m3 0h1m2.5 0h1m-54.5 0.5h1m0.5 0h1m2.5 0h1m0 0h1m1.5 0h1m-0.5 0h1m3.5 0h1m1.5 0h1m0.5 0h1m0.5 0h1m0.5 0h1m0 0h1m-0.5 0h1m1 0h1m1 0h1m0.5 0h1m1.5 0h1m8.5 0h1m1 0h1m4 0h1m0 0h1m-0.5 0h1m0 0h1m-50 0.5h1m0 0h1m0.5 0h1m2.5 0h1m-0.5 0h1m2 0h1m-0.5 0h1m2 0h1m2 0h1m-0.5 0h1m0 0h1m-0.5 0h1m-0.5 0h1m-0.5 0h1m-0.5 0h1m0.5 0h1m-0.5 0h1m0 0h1m-0.5 0h1m1.5 0h1m6 0h1m6.5 0h1m2.5 0h1m3 0h1m1 0h1m1.5 0h1m1 0h1m-55.5 0.5h1m0 0h1m0 0h1m0 0h1m-0.5 0h1m0.5 0h1m1 0h1m-0.5 0h1m-0.5 0h1m2.5 0h1m-0.5 0h1m0 0h1m1 0h1m-0.5 0h1m-0.5 0h1m-0.5 0h1m-0.5 0h1m1 0h1m2 0h1m-0.5 0h1m0 0h1m-0.5 0h1m0.5 0h1m1 0h1m13.5 0h1m5.5 0h1m-0.5 0h1m2 0h1m0.5 0h1m-53.5 0.5h1m0.5 0h1m-0.5 0h1m-0.5 0h1m-0.5 0h1m0 0h1m0 0h1m0 0h1m-0.5 0h1m-0.5 0h1m-0.5 0h1m-0.5 0h1m0 0h1m-0.5 0h1m0 0h1m-0.5 0h1m0 0h1m0 0h1m-0.5 0h1m-0.5 0h1m1 0h1m0 0h1m-0.5 0h1m-0.5 0h1m0.5 0h1m-0.5 0h1m-0.5 0h1m1 0h1m-0.5 0h1m-0.5 0h1m-0.5 0h1m2.5 0h1m0 0h1m2.5 0h1m12.5 0h1m1.5 0h1m-50 0.5h1m-0.5 0h1m-0.5 0h1m1 0h1m-0.5 0h1m-0.5 0h1m-0.5 0h1m0 0h1m0.5 0h1m1.5 0h1m-0.5 0h1m0 0h1m-0.5 0h1m-0.5 0h1m0.5 0h1m0 0h1m-0.5 0h1m0 0h1m-0.5 0h1m-0.5 0h1m1 0h1m0 0h1m0.5 0h1m-0.5 0h1m-0.5 0h1m-0.5 0h1m-0.5 0h1m2 0h1m-0.5 0h1m-0.5 0h1m3 0h1m4.5 0h1m6.5 0h1m3 0h1m-0.5 0h1m0 0h1m-51 0.5h1m1.5 0h1m0 0h1m-0.5 0h1m0 0h1m1 0h1m-0.5 0h1m-0.5 0h1m0.5 0h1m-0.5 0h1m-0.5 0h1m-0.5 0h1m-0.5 0h1m0.5 0h1m0.5 0h1m-0.5 0h1m-0.5 0h1m0 0h1m-0.5 0h1m-0.5 0h1m0 0h1m0 0h1m-0.5 0h1m-0.5 0h1m-0.5 0h1m-0.5 0h1m0 0h1m-0.5 0h1m-0.5 0h1m1 0h1m2.5 0h1m0.5 0h1m-0.5 0h1m6.5 0h1m1.5 0h1m-0.5 0h1m0.5 0h1m3.5 0h1m-0.5 0h1m1.5 0h1m-48 0.5h1m0 0h1m0.5 0h1m-0.5 0h1m-0.5 0h1m0 0h1m-0.5 0h1m-0.5 0h1m-0.5 0h1m0 0h1m1 0h1m0.5 0h1m0.5 0h1m-0.5 0h1m-0.5 0h1m0 0h1m0 0h1m0 0h1m-0.5 0h1m-0.5 0h1m-0.5 0h1m-0.5 0h1m-0.5 0h1m-0.5 0h1m-0.5 0h1m-0.5 0h1m0 0h1m-0.5 0h1m-0.5 0h1m0.5 0h1m14.5 0h1m0.5 0h1m0.5 0h1m1 0h1m-48.5 0.5h1m5.5 0h1m-0.5 0h1m0.5 0h1m0.5 0h1m1.5 0h1m-0.5 0h1m0.5 0h1m-0.5 0h1m-0.5 0h1m-0.5 0h1m-0.5 0h1m-0.5 0h1m1 0h1m0 0h1m-0.5 0h1m-0.5 0h1m-0.5 0h1m-0.5 0h1m0 0h1m-0.5 0h1m-0.5 0h1m0.5 0h1m1 0h1m-0.5 0h1m-0.5 0h1m2 0h1m7.5 0h1m-40 0.5h1m1.5 0h1m1.5 0h1m1.5 0h1m0.5 0h1m-0.5 0h1m0 0h1m0 0h1m-0.5 0h1m-0.5 0h1m-0.5 0h1m-0.5 0h1m0 0h1m-0.5 0h1m-0.5 0h1m-0.5 0h1m-0.5 0h1m0 0h1m-0.5 0h1m-0.5 0h1m-0.5 0h1m-0.5 0h1m-0.5 0h1m0 0h1m-0.5 0h1m-0.5 0h1m0.5 0h1m0 0h1m3.5 0h1m10 0h1m8 0h1m-0.5 0h1m1 0h1m-53.5 0.5h1m-0.5 0h1m-0.5 0h1m1 0h1m1 0h1m2.5 0h1m-0.5 0h1m0.5 0h1m-0.5 0h1m1 0h1m0 0h1m-0.5 0h1m-0.5 0h1m0 0h1m1.5 0h1m-0.5 0h1m0.5 0h1m-0.5 0h1m0 0h1m0.5 0h1m1.5 0h1m-0.5 0h1m10 0h1m6 0h1m-0.5 0h1m0 0h1m2.5 0h1m-50 0.5h1m3 0h1m0.5 0h1m2 0h1m0 0h1m2.5 0h1m0 0h1m0.5 0h1m-0.5 0h1m0 0h1m0 0h1m1 0h1m0 0h1m0 0h1m-0.5 0h1m11.5 0h1m3 0h1m-39.5 0.5h1m0.5 0h1m4 0h1m0 0h1m7 0h1m-0.5 0h1m-0.5 0h1m-0.5 0h1m-0.5 0h1m-0.5 0h1m-0.5 0h1m-0.5 0h1m-0.5 0h1m-0.5 0h1m-0.5 0h1m1 0h1m0.5 0h1m-0.5 0h1m1.5 0h1m13 0h1m-41.5 0.5h1m8.5 0h1m-0.5 0h1m0 0h1m0.5 0h1m0.5 0h1m0.5 0h1m-0.5 0h1m0.5 0h1m0.5 0h1m0.5 0h1m-0.5 0h1m0 0h1m1 0h1m-26.5 0.5h1m6.5 0h1m0 0h1m2.5 0h1m2 0h1m0.5 0h1m0.5 0h1m2 0h1m22 0h1m-31.5 0.5h1m0.5 0h1m0 0h1m-0.5 0h1m-0.5 0h1m-0.5 0h1m0.5 0h1m-0.5 0h1m0.5 0h1m0.5 0h1m1 0h1m-0.5 0h1m-0.5 0h1m4 0h1m-31.5 0.5h1m9 0h1m5 0h1m4 0h1m4.5 0h1m-0.5 0h1m6 0h1m-23.5 0.5h1m0.5 0h1m-0.5 0h1m0 0h1m0.5 0h1m2.5 0h1m0 0h1m-0.5 0h1m-21.5 0.5h1m18.5 0h1m-5 0.5h1m0 0h1m2 0h1m2 0h1m3.5 0h1m-14 0.5h1m-0.5 0h1m6.5 0h1m2 0h1m-17 1h1m2.5 0h1m10.5 0h1m-12.5 0.5h1m9.5 0h1M0 0m87.5 646.6h1m8 0h1m18.5 0.5h1m-29.5 0.5h1m7 0h1m13 0.5h1m-10 0.5h1m4.5 0h1m1.5 0h1m0.5 0h1m-0.5 0h1m1 0h1m5 0h1m8.5 0h1m-33.5 1h1m5 0h1m5.5 0h1m14.5 0h1m-30.5 0.5h1m6.5 0h1m0 0h1m3.5 0h1m-0.5 0h1m1.5 0h1m1 0h1m0.5 0h1m2.5 0h1m-30.5 0.5h1m5 0h1m1.5 0h1m3.5 0h1m1.5 0h1m-0.5 0h1m0.5 0h1m4.5 0h1m1 0h1m4 0h1m-25.5 0.5h1m2 0h1m-0.5 0h1m0 0h1m6 0h1m-0.5 0h1m0 0h1m0.5 0h1m-0.5 0h1m2 0h1m8 0h1m1 0h1m2.5 0h1m10.5 0h1m-50.5 0.5h1m4 0h1m2.5 0h1m-0.5 0h1m0 0h1m1.5 0h1m3.5 0h1m0 0h1m0.5 0h1m0 0h1m-0.5 0h1m0 0h1m-0.5 0h1m1.5 0h1m-0.5 0h1m0 0h1m4 0h1m0.5 0h1m1.5 0h1m10.5 0h1m2 0h1m-51.5 0.5h1m-0.5 0h1m2.5 0h1m-0.5 0h1m1 0h1m-0.5 0h1m0 0h1m1 0h1m-0.5 0h1m-0.5 0h1m1 0h1m0.5 0h1m2 0h1m0.5 0h1m0 0h1m-0.5 0h1m-0.5 0h1m0 0h1m2.5 0h1m3 0h1m0 0h1m0 0h1m-0.5 0h1m-0.5 0h1m5 0h1m2.5 0h1m0.5 0h1m-45 0.5h1m-0.5 0h1m0 0h1m1 0h1m4 0h1m0.5 0h1m1 0h1m-0.5 0h1m0 0h1m0 0h1m0.5 0h1m0 0h1m-0.5 0h1m1 0h1m0 0h1m2 0h1m-0.5 0h1m-0.5 0h1m4 0h1m5.5 0h1m4.5 0h1m1 0h1m12 0h1m-57 0.5h1m4.5 0h1m2 0h1m-0.5 0h1m0.5 0h1m-0.5 0h1m0 0h1m1.5 0h1m1 0h1m-0.5 0h1m0.5 0h1m0.5 0h1m0 0h1m0 0h1m0 0h1m-0.5 0h1m1.5 0h1m2 0h1m6.5 0h1m3 0h1m1.5 0h1m0 0h1m4 0h1m-49.5 0.5h1m3 0h1m0.5 0h1m2 0h1m-0.5 0h1m0.5 0h1m-0.5 0h1m-0.5 0h1m0 0h1m-0.5 0h1m3 0h1m-0.5 0h1m1 0h1m-0.5 0h1m-0.5 0h1m0 0h1m0.5 0h1m0 0h1m-0.5 0h1m-0.5 0h1m-0.5 0h1m-0.5 0h1m-0.5 0h1m0.5 0h1m5 0h1m2.5 0h1m2.5 0h1m-0.5 0h1m-0.5 0h1m1 0h1m0 0h1m-0.5 0h1m-46.5 0.5h1m-0.5 0h1m1.5 0h1m-0.5 0h1m0 0h1m-0.5 0h1m1 0h1m-0.5 0h1m0 0h1m-0.5 0h1m0 0h1m0 0h1m-0.5 0h1m-0.5 0h1m0 0h1m0 0h1m-0.5 0h1m-0.5 0h1m-0.5 0h1m1.5 0h1m-0.5 0h1m0 0h1m2 0h1m-0.5 0h1m-0.5 0h1m0.5 0h1m1 0h1m-0.5 0h1m0 0h1m1.5 0h1m1.5 0h1m4 0h1m-0.5 0h1m2.5 0h1m0.5 0h1m0 0h1m-46 0.5h1m-0.5 0h1m-0.5 0h1m1 0h1m2 0h1m0.5 0h1m-0.5 0h1m0 0h1m-0.5 0h1m0 0h1m-0.5 0h1m0.5 0h1m-0.5 0h1m0.5 0h1m0 0h1m-0.5 0h1m2 0h1m-0.5 0h1m1.5 0h1m-0.5 0h1m-0.5 0h1m-0.5 0h1m0.5 0h1m-0.5 0h1m-0.5 0h1m0.5 0h1m-0.5 0h1m-0.5 0h1m0 0h1m0 0h1m0.5 0h1m0 0h1m-0.5 0h1m-0.5 0h1m2.5 0h1m-0.5 0h1m1.5 0h1m1.5 0h1m-0.5 0h1m0.5 0h1m0 0h1m0.5 0h1m0 0h1m4 0h1m1.5 0h1m-57.5 0.5h1m1 0h1m0.5 0h1m-0.5 0h1m-0.5 0h1m0 0h1m-0.5 0h1m1 0h1m0 0h1m0 0h1m-0.5 0h1m3 0h1m-0.5 0h1m0 0h1m-0.5 0h1m-0.5 0h1m-0.5 0h1m-0.5 0h1m0.5 0h1m0.5 0h1m0.5 0h1m-0.5 0h1m1 0h1m1.5 0h1m-0.5 0h1m0.5 0h1m-0.5 0h1m7.5 0h1m0.5 0h1m1 0h1m2 0h1m2 0h1m-48.5 0.5h1m-0.5 0h1m-0.5 0h1m-0.5 0h1m1.5 0h1m-0.5 0h1m-0.5 0h1m-0.5 0h1m-0.5 0h1m-0.5 0h1m0 0h1m-0.5 0h1m-0.5 0h1m-0.5 0h1m1.5 0h1m-0.5 0h1m-0.5 0h1m-0.5 0h1m-0.5 0h1m-0.5 0h1m-0.5 0h1m-0.5 0h1m-0.5 0h1m-0.5 0h1m-0.5 0h1m-0.5 0h1m-0.5 0h1m0.5 0h1m1 0h1m-0.5 0h1m0 0h1m-0.5 0h1m3.5 0h1m0.5 0h1m1 0h1m0.5 0h1m1.5 0h1m1.5 0h1m2.5 0h1m1 0h1m0 0h1m-0.5 0h1m-0.5 0h1m-46.5 0.5h1m-0.5 0h1m1 0h1m1 0h1m-0.5 0h1m0 0h1m0.5 0h1m-0.5 0h1m-0.5 0h1m0 0h1m-0.5 0h1m1.5 0h1m-0.5 0h1m-0.5 0h1m-0.5 0h1m0 0h1m-0.5 0h1m-0.5 0h1m-0.5 0h1m0 0h1m-0.5 0h1m0.5 0h1m-0.5 0h1m0 0h1m-0.5 0h1m-0.5 0h1m-0.5 0h1m-0.5 0h1m-0.5 0h1m-0.5 0h1m-0.5 0h1m1.5 0h1m0.5 0h1m-0.5 0h1m-0.5 0h1m0 0h1m3 0h1m0 0h1m6 0h1m-0.5 0h1m1 0h1m4 0h1m1.5 0h1m0 0h1m-54 0.5h1m0 0h1m0.5 0h1m0 0h1m0 0h1m1.5 0h1m-0.5 0h1m-0.5 0h1m2 0h1m1.5 0h1m-0.5 0h1m0 0h1m1 0h1m0.5 0h1m0 0h1m-0.5 0h1m-0.5 0h1m-0.5 0h1m2 0h1m-0.5 0h1m-0.5 0h1m0.5 0h1m1 0h1m0.5 0h1m0.5 0h1m4.5 0h1m-0.5 0h1m1.5 0h1m4.5 0h1m1 0h1m7 0h1m-57 0.5h1m-0.5 0h1m-0.5 0h1m1 0h1m-0.5 0h1m-0.5 0h1m0.5 0h1m-0.5 0h1m0 0h1m-0.5 0h1m-0.5 0h1m-0.5 0h1m-0.5 0h1m-0.5 0h1m-0.5 0h1m1 0h1m-0.5 0h1m0 0h1m0 0h1m-0.5 0h1m1.5 0h1m-0.5 0h1m0 0h1m0 0h1m-0.5 0h1m0 0h1m-0.5 0h1m-0.5 0h1m-0.5 0h1m0.5 0h1m1 0h1m8.5 0h1m1 0h1m-0.5 0h1m2 0h1m-42 0.5h1m-0.5 0h1m1 0h1m1 0h1m0 0h1m0 0h1m0 0h1m0 0h1m-0.5 0h1m-0.5 0h1m1 0h1m1 0h1m0 0h1m-0.5 0h1m-0.5 0h1m-0.5 0h1m-0.5 0h1m-0.5 0h1m-0.5 0h1m0 0h1m-0.5 0h1m0.5 0h1m-0.5 0h1m0 0h1m-0.5 0h1m0 0h1m-0.5 0h1m0 0h1m0.5 0h1m0.5 0h1m8 0h1m-0.5 0h1m5.5 0h1m3 0h1m-49.5 0.5h1m0 0h1m2.5 0h1m0.5 0h1m-0.5 0h1m-0.5 0h1m-0.5 0h1m1.5 0h1m-0.5 0h1m0 0h1m-0.5 0h1m-0.5 0h1m-0.5 0h1m1.5 0h1m0 0h1m1 0h1m-0.5 0h1m1 0h1m0 0h1m-0.5 0h1m0 0h1m0 0h1m0 0h1m10 0h1m0.5 0h1m0.5 0h1m-40.5 0.5h1m1.5 0h1m0 0h1m0 0h1m3 0h1m0 0h1m0 0h1m0 0h1m-0.5 0h1m0.5 0h1m0.5 0h1m-0.5 0h1m1 0h1m0 0h1m1 0h1m-0.5 0h1m0.5 0h1m-0.5 0h1m0 0h1m-0.5 0h1m0 0h1m0.5 0h1m0.5 0h1m13.5 0h1m-42 0.5h1m0.5 0h1m0.5 0h1m1.5 0h1m-0.5 0h1m1.5 0h1m-0.5 0h1m1.5 0h1m-0.5 0h1m-0.5 0h1m-0.5 0h1m-0.5 0h1m1 0h1m-0.5 0h1m-0.5 0h1m0 0h1m-0.5 0h1m1 0h1m-0.5 0h1m-0.5 0h1m0.5 0h1m1.5 0h1m0 0h1m2 0h1m2 0h1m6.5 0h1m-0.5 0h1m0 0h1m-38.5 0.5h1m5.5 0h1m-0.5 0h1m1.5 0h1m-0.5 0h1m0 0h1m-0.5 0h1m0.5 0h1m0 0h1m1 0h1m-0.5 0h1m2 0h1m1 0h1m1.5 0h1m7.5 0h1m3 0h1m4 0h1m-48 0.5h1m6.5 0h1m0.5 0h1m1.5 0h1m1.5 0h1m-0.5 0h1m2.5 0h1m0.5 0h1m1 0h1m19 0h1m-36 0.5h1m5 0h1m6.5 0h1m0 0h1m-0.5 0h1m0.5 0h1m3.5 0h1m0.5 0h1m-0.5 0h1m0 0h1m-19 0.5h1m0.5 0h1m2 0h1m1.5 0h1m-0.5 0h1m-0.5 0h1m5.5 0h1m0 0h1m2.5 0h1m-23.5 0.5h1m6.5 0h1m2 0h1m2.5 0h1m1.5 0h1m1 0h1m-13.5 0.5h1m-0.5 0h1m2.5 0h1m0 0h1m-0.5 0h1m3 0h1m0 0h1m5 0h1m-23 0.5h1m8.5 0h1m-0.5 0h1m2.5 0h1m0 0h1m3.5 0h1m0 0.5h1m-15.5 0.5h1m10 0h1m4.5 0h1m7.5 0h1m-28 0.5h1m8 0h1m0 0h1m-9.5 0.5h1m2.5 0h1m0 0h1m0.5 0h1M0 0m59 706.4h1m6.5 0h1m-6 3.5h1m3.5 0h1m0.5 0.5h1m-9 0.5h1m13.5 0h1m-37 0.5h1m31.5 0h1m-1.5 0.5h1m2 0h1m-13.5 0.5h1m5.5 0h1m5 0h1m-9.5 0.5h1m2 0h1m-16 0.5h1m-19.5 0.5h1m6 0h1m17.5 0h1m6 0h1m2.5 0h1m0.5 0h1m-45.5 0.5h1m39 0h1m-0.5 0h1m5.5 0h1m-35 0.5h1m13.5 0h1m7.5 0h1m2 0h1m-30.5 0.5h1m19.5 0h1m3 0h1m1 0h1m5.5 0h1m-38 0.5h1m5.5 0h1m2 0h1m0 0h1m-26 0.5h1m3.5 0h1m4 0h1m0 0h1m8.5 0h1m3 0h1m9 0h1m11 0h1m4.5 0h1m-41.5 0.5h1m-0.5 0h1m0 0h1m-0.5 0h1m-0.5 0h1m-0.5 0h1m4.5 0h1m2 0h1m11.5 0h1m1 0h1m-39 0.5h1m5.5 0h1m2 0h1m3 0h1m0.5 0h1m0 0h1m-0.5 0h1m0.5 0h1m-0.5 0h1m4 0h1m2 0h1m11.5 0h1m2 0h1m1 0h1m0 0h1m2.5 0h1m5.5 0h1m-55.5 0.5h1m-0.5 0h1m11 0h1m2.5 0h1m2 0h1m0 0h1m0 0h1m1 0h1m0.5 0h1m-0.5 0h1m0 0h1m0 0h1m8 0h1m5 0h1m1 0h1m-0.5 0h1m-0.5 0h1m-0.5 0h1m7 0h1m2.5 0h1m-0.5 0h1m-58.5 0.5h1m1.5 0h1m1.5 0h1m2 0h1m1.5 0h1m-0.5 0h1m-0.5 0h1m0 0h1m-0.5 0h1m-0.5 0h1m1.5 0h1m-0.5 0h1m0 0h1m0.5 0h1m-0.5 0h1m4.5 0h1m0.5 0h1m0 0h1m12.5 0h1m-0.5 0h1m0.5 0h1m0 0h1m3 0h1m-0.5 0h1m0 0h1m-0.5 0h1m-0.5 0h1m6 0h1m0 0h1m-60 0.5h1m-0.5 0h1m0.5 0h1m1 0h1m-0.5 0h1m0 0h1m2 0h1m0 0h1m-0.5 0h1m-0.5 0h1m1 0h1m0.5 0h1m2 0h1m0 0h1m-0.5 0h1m-0.5 0h1m-0.5 0h1m0 0h1m-0.5 0h1m-0.5 0h1m1 0h1m-0.5 0h1m1 0h1m0 0h1m0 0h1m0 0h1m-0.5 0h1m3 0h1m2.5 0h1m3 0h1m3.5 0h1m-0.5 0h1m1.5 0h1m-0.5 0h1m-0.5 0h1m0 0h1m-0.5 0h1m-0.5 0h1m-0.5 0h1m2 0h1m-0.5 0h1m0.5 0h1m-58 0.5h1m-0.5 0h1m2.5 0h1m-0.5 0h1m-0.5 0h1m1 0h1m-0.5 0h1m-0.5 0h1m-0.5 0h1m0 0h1m-0.5 0h1m0.5 0h1m0.5 0h1m-0.5 0h1m0 0h1m-0.5 0h1m0 0h1m-0.5 0h1m0 0h1m0 0h1m0.5 0h1m0 0h1m0.5 0h1m3.5 0h1m6.5 0h1m-0.5 0h1m0.5 0h1m2 0h1m-0.5 0h1m0 0h1m0 0h1m0.5 0h1m1 0h1m3 0h1m0.5 0h1m0.5 0h1m-0.5 0h1m-0.5 0h1m1.5 0h1m-56.5 0.5h1m1 0h1m0.5 0h1m1 0h1m-0.5 0h1m0.5 0h1m-0.5 0h1m-0.5 0h1m1 0h1m1.5 0h1m-0.5 0h1m0 0h1m-0.5 0h1m-0.5 0h1m-0.5 0h1m0.5 0h1m-0.5 0h1m0 0h1m0 0h1m0 0h1m-0.5 0h1m0 0h1m3 0h1m4.5 0h1m5 0h1m1 0h1m0.5 0h1m2 0h1m2.5 0h1m0 0h1m4 0h1m1.5 0h1m-58 0.5h1m-0.5 0h1m-0.5 0h1m2 0h1m-0.5 0h1m0 0h1m1 0h1m-0.5 0h1m0 0h1m-0.5 0h1m-0.5 0h1m0 0h1m-0.5 0h1m0 0h1m-0.5 0h1m0 0h1m-0.5 0h1m-0.5 0h1m-0.5 0h1m0 0h1m-0.5 0h1m0.5 0h1m-0.5 0h1m0 0h1m0 0h1m-0.5 0h1m-0.5 0h1m0 0h1m0 0h1m-0.5 0h1m0.5 0h1m1 0h1m0.5 0h1m-0.5 0h1m4.5 0h1m0.5 0h1m0 0h1m0.5 0h1m2.5 0h1m1 0h1m-0.5 0h1m0.5 0h1m3 0h1m0 0h1m-52.5 0.5h1m-0.5 0h1m-0.5 0h1m2 0h1m0 0h1m0 0h1m-0.5 0h1m-0.5 0h1m-0.5 0h1m-0.5 0h1m-0.5 0h1m-0.5 0h1m0 0h1m0.5 0h1m1 0h1m-0.5 0h1m-0.5 0h1m-0.5 0h1m-0.5 0h1m-0.5 0h1m-0.5 0h1m-0.5 0h1m-0.5 0h1m0.5 0h1m0.5 0h1m0 0h1m-0.5 0h1m-0.5 0h1m0.5 0h1m3 0h1m6.5 0h1m1.5 0h1m2 0h1m0.5 0h1m-0.5 0h1m0.5 0h1m-0.5 0h1m0 0h1m3 0h1m0.5 0h1m4 0h1m-58.5 0.5h1m-0.5 0h1m-0.5 0h1m-0.5 0h1m-0.5 0h1m-0.5 0h1m0 0h1m-0.5 0h1m0.5 0h1m2 0h1m0 0h1m0 0h1m1 0h1m0 0h1m-0.5 0h1m-0.5 0h1m-0.5 0h1m-0.5 0h1m0 0h1m0 0h1m0.5 0h1m0.5 0h1m-0.5 0h1m-0.5 0h1m-0.5 0h1m0 0h1m-0.5 0h1m-0.5 0h1m0 0h1m0 0h1m-0.5 0h1m-0.5 0h1m-0.5 0h1m0.5 0h1m0 0h1m0.5 0h1m2.5 0h1m-0.5 0h1m0.5 0h1m0 0h1m3.5 0h1m0.5 0h1m1.5 0h1m-0.5 0h1m0.5 0h1m6 0h1m0.5 0h1m-57.5 0.5h1m-0.5 0h1m0.5 0h1m1 0h1m-0.5 0h1m-0.5 0h1m0 0h1m-0.5 0h1m-0.5 0h1m0 0h1m-0.5 0h1m-0.5 0h1m-0.5 0h1m0 0h1m-0.5 0h1m-0.5 0h1m0.5 0h1m-0.5 0h1m-0.5 0h1m-0.5 0h1m0.5 0h1m0 0h1m-0.5 0h1m-0.5 0h1m-0.5 0h1m-0.5 0h1m-0.5 0h1m-0.5 0h1m0 0h1m0.5 0h1m-0.5 0h1m1 0h1m-0.5 0h1m-0.5 0h1m2.5 0h1m2 0h1m1 0h1m2.5 0h1m1 0h1m1.5 0h1m-0.5 0h1m-0.5 0h1m-0.5 0h1m0.5 0h1m0.5 0h1m-0.5 0h1m1.5 0h1m-0.5 0h1m1.5 0h1m-52 0.5h1m-0.5 0h1m0 0h1m1 0h1m-0.5 0h1m-0.5 0h1m0 0h1m1 0h1m-0.5 0h1m-0.5 0h1m0 0h1m0.5 0h1m-0.5 0h1m-0.5 0h1m-0.5 0h1m-0.5 0h1m1 0h1m-0.5 0h1m0.5 0h1m-0.5 0h1m-0.5 0h1m-0.5 0h1m-0.5 0h1m-0.5 0h1m-0.5 0h1m0 0h1m1 0h1m2.5 0h1m4 0h1m1 0h1m0.5 0h1m1 0h1m0 0h1m0 0h1m-0.5 0h1m0 0h1m1 0h1m-0.5 0h1m2.5 0h1m2 0h1m3.5 0h1m-57.5 0.5h1m-0.5 0h1m0 0h1m1.5 0h1m0 0h1m-0.5 0h1m0 0h1m-0.5 0h1m0 0h1m-0.5 0h1m0.5 0h1m0 0h1m0.5 0h1m0.5 0h1m1 0h1m0.5 0h1m-0.5 0h1m0 0h1m-0.5 0h1m1.5 0h1m-0.5 0h1m0.5 0h1m-0.5 0h1m0 0h1m-0.5 0h1m-0.5 0h1m0 0h1m8 0h1m0.5 0h1m0.5 0h1m0.5 0h1m0 0h1m2 0h1m-0.5 0h1m0 0h1m-0.5 0h1m-0.5 0h1m2.5 0h1m-0.5 0h1m0.5 0h1m1.5 0h1m-56.5 0.5h1m0 0h1m3.5 0h1m0 0h1m0.5 0h1m2.5 0h1m0.5 0h1m-0.5 0h1m1 0h1m-0.5 0h1m-0.5 0h1m-0.5 0h1m-0.5 0h1m1 0h1m-0.5 0h1m-0.5 0h1m-0.5 0h1m-0.5 0h1m0 0h1m-0.5 0h1m0 0h1m-0.5 0h1m-0.5 0h1m-0.5 0h1m0 0h1m0 0h1m12.5 0h1m1.5 0h1m2.5 0h1m2.5 0h1m-51 0.5h1m0 0h1m-0.5 0h1m-0.5 0h1m0.5 0h1m2.5 0h1m1 0h1m-0.5 0h1m0 0h1m2 0h1m-0.5 0h1m1 0h1m-0.5 0h1m-0.5 0h1m-0.5 0h1m0 0h1m-0.5 0h1m0.5 0h1m-0.5 0h1m-0.5 0h1m0 0h1m0.5 0h1m1 0h1m-0.5 0h1m2 0h1m0 0h1m-0.5 0h1m0 0h1m1.5 0h1m4.5 0h1m1.5 0h1m0 0h1m-0.5 0h1m1.5 0h1m2 0h1m1 0h1m0 0h1m-54 0.5h1m-0.5 0h1m0 0h1m3 0h1m3 0h1m0 0h1m-0.5 0h1m0.5 0h1m-0.5 0h1m-0.5 0h1m0 0h1m-0.5 0h1m-0.5 0h1m-0.5 0h1m-0.5 0h1m0 0h1m0 0h1m0 0h1m-0.5 0h1m-0.5 0h1m-0.5 0h1m1 0h1m0.5 0h1m6 0h1m0 0h1m2 0h1m0 0h1m-0.5 0h1m3 0h1m-0.5 0h1m1 0h1m0 0h1m1 0h1m1 0h1m2.5 0h1m0 0h1m0 0h1m-0.5 0h1m3 0h1m-59 0.5h1m-0.5 0h1m-0.5 0h1m4.5 0h1m-0.5 0h1m0 0h1m1 0h1m1.5 0h1m1 0h1m2 0h1m-0.5 0h1m0.5 0h1m-0.5 0h1m0 0h1m0 0h1m-0.5 0h1m1 0h1m-0.5 0h1m0 0h1m1 0h1m0 0h1m0.5 0h1m0.5 0h1m2 0h1m13.5 0h1m-50 0.5h1m-0.5 0h1m4 0h1m5.5 0h1m1 0h1m-0.5 0h1m1 0h1m-0.5 0h1m-0.5 0h1m3 0h1m1 0h1m1.5 0h1m0 0h1m0 0h1m11 0h1m1 0h1m0 0h1m3 0h1m-0.5 0h1m2.5 0h1m3 0h1m1 0h1m-58 0.5h1m5.5 0h1m0.5 0h1m1.5 0h1m0.5 0h1m7 0h1m-0.5 0h1m-0.5 0h1m2.5 0h1m0 0h1m18.5 0h1m2 0h1m-0.5 0h1m-43.5 0.5h1m2.5 0h1m6 0h1m15.5 0h1m5.5 0h1m0.5 0h1m11.5 0h1m0 0h1m-56 0.5h1m13 0h1m2.5 0h1m1.5 0h1m0 0h1m0 0h1m1 0h1m1.5 0h1m8 0h1m-0.5 0h1m12 0h1m6 0h1m-49 0.5h1m2 0h1m4 0h1m0.5 0h1m0.5 0h1m2.5 0h1m16.5 0h1m5 0h1m0 0h1m6.5 0h1m0 0h1m-56 0.5h1m20 0h1m0.5 0h1m17 0h1m3.5 0h1m1.5 0h1m4.5 0h1m-41 0.5h1m7 0h1m17 0h1m11.5 0h1m-49.5 0.5h1m5 0h1m5 0h1m4.5 0h1m-0.5 0h1m33.5 0h1m1 0h1m-59 0.5h1m-0.5 0h1m20 0h1m-9.5 0.5h1m10 0h1m-16 0.5h1m3.5 0h1m4.5 0h1m6.5 0h1M0 0m121 711.4h1m-0.5 1h1m12.5 0h1m-32.5 0.5h1m-11.5 0.5h1m14 0h1m-7.5 0.5h1m9 0h1m1 0h1m-0.5 0h1m-21 0.5h1m9.5 0h1m1 0h1m3 0h1m18 0h1m-28.5 0.5h1m4.5 0h1m11 0h1m11.5 0h1m1.5 0h1m3.5 0h1m-53 0.5h1m15 0h1m-0.5 0h1m3.5 0h1m7.5 0h1m3.5 0h1m5.5 0h1m-41 0.5h1m10.5 0h1m0.5 0h1m2 0h1m-0.5 0h1m3 0h1m3 0h1m8 0h1m0 0h1m2 0h1m0 0h1m4 0h1m2 0h1m-43.5 0.5h1m1.5 0h1m0.5 0h1m4 0h1m-0.5 0h1m-0.5 0h1m7 0h1m-0.5 0h1m0 0h1m5 0h1m0 0h1m0 0h1m2.5 0h1m-0.5 0h1m1.5 0h1m1 0h1m0 0h1m0 0h1m9 0h1m4.5 0h1m-58 0.5h1m3 0h1m2.5 0h1m0 0h1m0 0h1m4.5 0h1m3.5 0h1m8.5 0h1m-0.5 0h1m0 0h1m2 0h1m0.5 0h1m-0.5 0h1m6 0h1m0.5 0h1m1 0h1m5.5 0h1m2 0h1m0.5 0h1m-54 0.5h1m3 0h1m2.5 0h1m1.5 0h1m3 0h1m2 0h1m-0.5 0h1m-0.5 0h1m0 0h1m0.5 0h1m1 0h1m1.5 0h1m-0.5 0h1m0.5 0h1m-0.5 0h1m3.5 0h1m2 0h1m4 0h1m-0.5 0h1m0.5 0h1m0.5 0h1m5 0h1m-55.5 0.5h1m0.5 0h1m1 0h1m-0.5 0h1m2.5 0h1m0.5 0h1m3 0h1m2.5 0h1m0 0h1m-0.5 0h1m-0.5 0h1m-0.5 0h1m0.5 0h1m0 0h1m-0.5 0h1m-0.5 0h1m0.5 0h1m0.5 0h1m2 0h1m-0.5 0h1m2 0h1m5 0h1m2.5 0h1m5.5 0h1m-49 0.5h1m-0.5 0h1m-0.5 0h1m2 0h1m2.5 0h1m1 0h1m-0.5 0h1m1 0h1m0 0h1m1 0h1m-0.5 0h1m0 0h1m-0.5 0h1m-0.5 0h1m-0.5 0h1m-0.5 0h1m0 0h1m0 0h1m0 0h1m-0.5 0h1m-0.5 0h1m0 0h1m0 0h1m1 0h1m0 0h1m-0.5 0h1m-0.5 0h1m0.5 0h1m-0.5 0h1m7 0h1m1.5 0h1m-0.5 0h1m0.5 0h1m2 0h1m-0.5 0h1m0.5 0h1m-0.5 0h1m6 0h1m-56 0.5h1m0.5 0h1m1.5 0h1m0 0h1m0 0h1m1.5 0h1m4 0h1m0.5 0h1m1.5 0h1m0.5 0h1m-0.5 0h1m0 0h1m-0.5 0h1m0 0h1m-0.5 0h1m-0.5 0h1m3.5 0h1m-0.5 0h1m5.5 0h1m0 0h1m1.5 0h1m0.5 0h1m2.5 0h1m1 0h1m0.5 0h1m5.5 0h1m-54.5 0.5h1m1 0h1m0.5 0h1m2.5 0h1m1.5 0h1m0 0h1m-0.5 0h1m1.5 0h1m0 0h1m0 0h1m-0.5 0h1m0.5 0h1m-0.5 0h1m-0.5 0h1m0.5 0h1m1.5 0h1m-0.5 0h1m2.5 0h1m0.5 0h1m0 0h1m-0.5 0h1m-0.5 0h1m-0.5 0h1m0 0h1m-0.5 0h1m1 0h1m0.5 0h1m-0.5 0h1m0.5 0h1m1 0h1m4.5 0h1m5 0h1m1.5 0h1m-55 0.5h1m-0.5 0h1m-0.5 0h1m2 0h1m-0.5 0h1m0 0h1m1 0h1m0 0h1m2 0h1m0 0h1m0.5 0h1m0.5 0h1m0 0h1m-0.5 0h1m-0.5 0h1m-0.5 0h1m0.5 0h1m0 0h1m0.5 0h1m0.5 0h1m1 0h1m-0.5 0h1m0.5 0h1m1 0h1m-0.5 0h1m0 0h1m1 0h1m0.5 0h1m0 0h1m-0.5 0h1m0.5 0h1m1 0h1m0.5 0h1m1.5 0h1m-0.5 0h1m1 0h1m1 0h1m1.5 0h1m-51 0.5h1m-0.5 0h1m-0.5 0h1m0 0h1m-0.5 0h1m2.5 0h1m1 0h1m-0.5 0h1m0.5 0h1m-0.5 0h1m-0.5 0h1m0.5 0h1m0 0h1m1.5 0h1m0.5 0h1m-0.5 0h1m1 0h1m-0.5 0h1m-0.5 0h1m-0.5 0h1m-0.5 0h1m-0.5 0h1m1.5 0h1m-0.5 0h1m1 0h1m-0.5 0h1m-0.5 0h1m-0.5 0h1m1.5 0h1m1.5 0h1m-0.5 0h1m-0.5 0h1m0 0h1m-0.5 0h1m0 0h1m0 0h1m1.5 0h1m2 0h1m0 0h1m-0.5 0h1m-0.5 0h1m4 0h1m5 0h1m0.5 0h1m-0.5 0h1m-60 0.5h1m-0.5 0h1m0 0h1m0 0h1m0 0h1m0.5 0h1m0 0h1m-0.5 0h1m-0.5 0h1m-0.5 0h1m-0.5 0h1m-0.5 0h1m-0.5 0h1m-0.5 0h1m0 0h1m1 0h1m0.5 0h1m0 0h1m0 0h1m-0.5 0h1m-0.5 0h1m0 0h1m-0.5 0h1m-0.5 0h1m-0.5 0h1m-0.5 0h1m-0.5 0h1m-0.5 0h1m-0.5 0h1m-0.5 0h1m-0.5 0h1m-0.5 0h1m-0.5 0h1m0.5 0h1m0 0h1m1.5 0h1m2.5 0h1m0 0h1m4 0h1m-0.5 0h1m-0.5 0h1m3 0h1m0 0h1m1 0h1m1 0h1m-0.5 0h1m2.5 0h1m0 0h1m-54 0.5h1m-0.5 0h1m-0.5 0h1m0 0h1m1.5 0h1m-0.5 0h1m-0.5 0h1m0 0h1m-0.5 0h1m0 0h1m-0.5 0h1m-0.5 0h1m0 0h1m-0.5 0h1m-0.5 0h1m-0.5 0h1m0 0h1m-0.5 0h1m0 0h1m-0.5 0h1m-0.5 0h1m0.5 0h1m1 0h1m0 0h1m-0.5 0h1m-0.5 0h1m0.5 0h1m0 0h1m-0.5 0h1m-0.5 0h1m-0.5 0h1m-0.5 0h1m0 0h1m-0.5 0h1m-0.5 0h1m0 0h1m0.5 0h1m-0.5 0h1m1.5 0h1m0 0h1m-0.5 0h1m1 0h1m1 0h1m0.5 0h1m0.5 0h1m1 0h1m-0.5 0h1m1 0h1m0 0h1m-47 0.5h1m-0.5 0h1m0 0h1m1.5 0h1m0 0h1m-0.5 0h1m0.5 0h1m0.5 0h1m0.5 0h1m-0.5 0h1m-0.5 0h1m1 0h1m-0.5 0h1m0.5 0h1m-0.5 0h1m1 0h1m0 0h1m-0.5 0h1m-0.5 0h1m0 0h1m0 0h1m1.5 0h1m0.5 0h1m0.5 0h1m-0.5 0h1m1.5 0h1m1 0h1m-0.5 0h1m-0.5 0h1m-0.5 0h1m-0.5 0h1m2.5 0h1m-0.5 0h1m0 0h1m-0.5 0h1m1.5 0h1m2 0h1m2 0h1m0 0h1m6 0h1m-57.5 0.5h1m0 0h1m0 0h1m1.5 0h1m0 0h1m-0.5 0h1m-0.5 0h1m0 0h1m-0.5 0h1m-0.5 0h1m-0.5 0h1m-0.5 0h1m-0.5 0h1m-0.5 0h1m0 0h1m-0.5 0h1m0 0h1m-0.5 0h1m1 0h1m0 0h1m0 0h1m0.5 0h1m-0.5 0h1m-0.5 0h1m-0.5 0h1m-0.5 0h1m-0.5 0h1m-0.5 0h1m2 0h1m0.5 0h1m-0.5 0h1m1.5 0h1m1 0h1m-0.5 0h1m0.5 0h1m2 0h1m1 0h1m-0.5 0h1m0.5 0h1m-0.5 0h1m-0.5 0h1m-0.5 0h1m3.5 0h1m0 0h1m2 0h1m0 0h1m0.5 0h1m-54 0.5h1m0.5 0h1m0.5 0h1m0 0h1m0.5 0h1m0 0h1m-0.5 0h1m0.5 0h1m-0.5 0h1m-0.5 0h1m0 0h1m3 0h1m-0.5 0h1m0 0h1m0 0h1m-0.5 0h1m-0.5 0h1m-0.5 0h1m1 0h1m0.5 0h1m-0.5 0h1m1.5 0h1m0 0h1m-0.5 0h1m0 0h1m0.5 0h1m-0.5 0h1m3 0h1m-0.5 0h1m-0.5 0h1m-0.5 0h1m0 0h1m1.5 0h1m0 0h1m-0.5 0h1m0 0h1m6.5 0h1m2.5 0h1m3.5 0h1m-57.5 0.5h1m-0.5 0h1m1 0h1m1.5 0h1m-0.5 0h1m1.5 0h1m0 0h1m-0.5 0h1m-0.5 0h1m0 0h1m-0.5 0h1m-0.5 0h1m-0.5 0h1m-0.5 0h1m1 0h1m-0.5 0h1m-0.5 0h1m-0.5 0h1m0.5 0h1m-0.5 0h1m-0.5 0h1m0 0h1m-0.5 0h1m1 0h1m1 0h1m-0.5 0h1m0 0h1m1 0h1m0.5 0h1m0 0h1m-0.5 0h1m0 0h1m2 0h1m3.5 0h1m7.5 0h1m1 0h1m4 0h1m0.5 0h1m-57.5 0.5h1m-0.5 0h1m0.5 0h1m-0.5 0h1m1 0h1m0 0h1m1 0h1m0.5 0h1m1 0h1m-0.5 0h1m-0.5 0h1m0.5 0h1m0 0h1m1 0h1m-0.5 0h1m-0.5 0h1m0 0h1m1.5 0h1m0 0h1m-0.5 0h1m0 0h1m0.5 0h1m0.5 0h1m9 0h1m-0.5 0h1m0 0h1m0.5 0h1m5 0h1m2 0h1m1.5 0h1m1.5 0h1m0 0h1m-55 0.5h1m2.5 0h1m0 0h1m-0.5 0h1m-0.5 0h1m5.5 0h1m-0.5 0h1m-0.5 0h1m1 0h1m0.5 0h1m0 0h1m-0.5 0h1m-0.5 0h1m0.5 0h1m-0.5 0h1m-0.5 0h1m-0.5 0h1m-0.5 0h1m0.5 0h1m0 0h1m0.5 0h1m1 0h1m1 0h1m0.5 0h1m-0.5 0h1m7.5 0h1m-0.5 0h1m0.5 0h1m-0.5 0h1m-44.5 0.5h1m0 0h1m2.5 0h1m1 0h1m-0.5 0h1m0 0h1m-0.5 0h1m0 0h1m1.5 0h1m0 0h1m1 0h1m-0.5 0h1m0.5 0h1m-0.5 0h1m-0.5 0h1m-0.5 0h1m0.5 0h1m-0.5 0h1m-0.5 0h1m2 0h1m2.5 0h1m-0.5 0h1m3 0h1m-0.5 0h1m2 0h1m0.5 0h1m1 0h1m2.5 0h1m2 0h1m0 0h1m0 0h1m1 0h1m0.5 0h1m6.5 0h1m-60 0.5h1m-0.5 0h1m-0.5 0h1m5.5 0h1m-0.5 0h1m1.5 0h1m-0.5 0h1m-0.5 0h1m3 0h1m1.5 0h1m-0.5 0h1m1.5 0h1m-0.5 0h1m-0.5 0h1m-0.5 0h1m0.5 0h1m-0.5 0h1m8 0h1m0.5 0h1m7 0h1m0 0h1m0.5 0h1m-35 0.5h1m1 0h1m0.5 0h1m0.5 0h1m0 0h1m-0.5 0h1m-0.5 0h1m1 0h1m0.5 0h1m2.5 0h1m4.5 0h1m14.5 0h1m-40.5 0.5h1m2.5 0h1m-0.5 0h1m1.5 0h1m4 0h1m2 0h1m0.5 0h1m0 0h1m0 0h1m-0.5 0h1m-0.5 0h1m5.5 0h1m17.5 0h1m-43 0.5h1m5.5 0h1m0 0h1m0 0h1m0 0h1m0 0h1m1.5 0h1m-0.5 0h1m0.5 0h1m0.5 0h1m-0.5 0h1m-0.5 0h1m0 0h1m10 0h1m1 0h1m-27 0.5h1m0.5 0h1m2 0h1m0.5 0h1m2 0h1m8 0h1m2.5 0h1m-30.5 0.5h1m-0.5 0h1m9.5 0h1m8 0h1m3.5 0h1m22.5 0h1m-40 0.5h1m1 0h1m1.5 0h1m0 0h1m1.5 0h1m1 0h1m-18 0.5h1m10 0h1m1.5 0h1m24.5 0h1m-29 0.5h1m-14.5 0.5h1m6.5 0h1m5 0h1m4.5 0h1m6 0h1m8 0h1m-23.5 0.5h1m3 0h1m0.5 0h1" stroke="#000" stroke-width="1" stroke-opacity="0.9" fill="none"/>
<path filter="url(#bd)" d="M0 0m31.5 269.9h1m3 0h1m-1 0.5h1m-2 0.5h1m-7 0.5h1m0 0h1m1.5 0h1m3.5 0h1m-0.5 0h1m4.5 0h1m-18.5 0.5h1m2.5 0h1m3.5 0h1m2 0h1m-9.5 0.5h1m0.5 0h1m1.5 0h1m-0.5 0h1m1 0h1m2 0h1m-17 0.5h1m11.5 0h1m0.5 0h1m-0.5 0h1m1 0h1m1.5 0h1m-20.5 0.5h1m0.5 0h1m6.5 0h1m-0.5 0h1m3.5 0h1m-0.5 0h1m0.5 0h1m1.5 0h1m-17.5 0.5h1m1.5 0h1m2.5 0h1m3 0h1m1.5 0h1m-0.5 0h1m-0.5 0h1m4 0h1m0.5 0h1m-26 0.5h1m12.5 0h1m2 0h1m3 0h1m1 0h1m-16.5 0.5h1m0.5 0h1m1.5 0h1m8.5 0h1m-0.5 0h1m-0.5 0h1m-0.5 0h1m1 0h1m-19 0.5h1m0 0h1m3.5 0h1m0 0h1m0.5 0h1m0.5 0h1m2.5 0h1m4 0h1m0.5 0h1m-21 0.5h1m-0.5 0h1m-0.5 0.5h1m4 0h1m0 0h1m1 0h1m1 0h1m-0.5 0h1m1 0h1m2 0h1m-0.5 0h1m1.5 0h1m-21 0.5h1m1.5 0h1m-0.5 0h1m3 0h1m-0.5 0h1m-0.5 0h1m3.5 0h1m2 0h1m-16 0.5h1m7.5 0h1m1 0h1m-0.5 0h1m-0.5 0h1m0 0h1m0.5 0h1m0 0h1m-15.5 0.5h1m0.5 0h1m-0.5 0h1m0.5 0h1m2 0h1m-0.5 0h1m1 0h1m-0.5 0h1m2.5 0h1m0.5 0h1m2.5 0h1m0.5 0h1m0.5 0h1m-15 0.5h1m-0.5 0h1m0 0h1m0 0h1m-0.5 0h1m2 0h1m-0.5 0h1m-0.5 0h1m-0.5 0h1m-0.5 0h1m-0.5 0h1m0 0h1m0 0h1m0.5 0h1m0 0h1m-0.5 0h1m-23 0.5h1m4.5 0h1m3 0h1m0.5 0h1m1.5 0h1m1 0h1m0.5 0h1m-0.5 0h1m0 0h1m2 0h1m-20 0.5h1m2.5 0h1m2 0h1m2 0h1m0.5 0h1m1 0h1m0 0h1m3.5 0h1m-25 0.5h1m6.5 0h1m1.5 0h1m3 0h1m0 0h1m0.5 0h1m1 0h1m0 0h1m-0.5 0h1m-15 0.5h1m0.5 0h1m2.5 0h1m-0.5 0h1m-0.5 0h1m-0.5 0h1m-0.5 0h1m4.5 0h1m-0.5 0h1m1 0h1m-18 0.5h1m7 0h1m-0.5 0h1m2.5 0h1m-0.5 0h1m0 0h1m0.5 0h1m-0.5 0h1m-0.5 0h1m0 0h1m-20 0.5h1m4.5 0h1m0 0h1m1 0h1m1 0h1m0 0h1m0.5 0h1m0 0h1m1 0h1m2 0h1m-17 0.5h1m0 0h1m1 0h1m-0.5 0h1m-0.5 0h1m4.5 0h1m1 0h1m0 0h1m0 0h1m-15 0.5h1m0.5 0h1m-0.5 0h1m1 0h1m1 0h1m3 0h1m-0.5 0h1m0.5 0h1m0.5 0h1m2.5 0h1m1.5 0h1m0 0h1m-22.5 0.5h1m13.5 0h1m2.5 0h1m0.5 0h1m0.5 0h1m-23.5 0.5h1m3 0h1m0.5 0h1m1 0h1m-0.5 0h1m0.5 0h1m-0.5 0h1m1.5 0h1m-0.5 0h1m5 0h1m0 0h1m1 0h1m-8 0.5h1m0 0h1m3.5 0h1m2.5 0h1m-20.5 0.5h1m4.5 0h1m-0.5 0h1m-0.5 0h1m0.5 0h1m1.5 0h1m-0.5 0h1m-0.5 0h1m0.5 0h1m1.5 0h1m1 0h1m-21.5 0.5h1m2.5 0h1m3 0h1m0.5 0h1m-0.5 0h1m0 0h1m0.5 0h1m1 0h1m-0.5 0h1m5 0h1m-17 0.5h1m0 0h1m1.5 0h1m3 0h1m-0.5 0h1m5.5 0h1m-24 0.5h1m3.5 0h1m6 0h1m0.5 0h1m0.5 0h1m2.5 0h1m0.5 0h1m-13.5 0.5h1m4 0h1m-0.5 0h1m-0.5 0h1m0.5 0h1m0.5 0h1m4 0h1m-0.5 0h1m1.5 0h1m-0.5 0h1m-0.5 0h1m-11 0.5h1m-0.5 0h1m-0.5 0h1m0 0h1m-0.5 0h1m0 0h1m0.5 0h1m0.5 0h1m-17 0.5h1m4 0h1m0 0h1m-0.5 0h1m0 0h1m0.5 0h1m0.5 0h1m1 0h1m2 0h1m-16 0.5h1m1.5 0h1m4.5 0h1m-0.5 0h1m1.5 0h1m0 0h1m-9 0.5h1m1 0h1m13.5 0h1m-20 0.5h1m0.5 0h1m2 0h1m0.5 0h1m8.5 0h1m-17.5 0.5h1m7.5 0h1m1 0h1m-15 0.5h1m7 0h1m1 0h1m3.5 0h1m1.5 0h1m-19.5 0.5h1m8.5 0h1m1 0h1m4.5 0h1m4 0h1m-0.5 0h1m-9 0.5h1m7 0h1m-22 0.5h1m6 0h1m2.5 0h1m4 0h1m-6 0.5h1m2.5 0h1m3 0h1m-0.5 0h1m-6.5 0.5h1m0.5 0h1m0 0h1m1 0h1m-7 0.5h1m0.5 0h1m0.5 0h1m6 0h1m-10.5 0.5h1m3.5 0h1m-14.5 0.5h1m0.5 0h1m2 0h1m5 0h1m6 0h1m-12.5 0.5h1m3 0h1m0 0.5h1m1 0.5h1m3 0h1m-20.5 0.5h1m0.5 0h1m8 0h1m0 0.5h1m0 0h1m-12 0.5h1m1 0h1m4 0h1m3.5 0h1m-4.5 0.5h1m5 0.5h1m-13 0.5h1m1.5 1h1m6.5 0h1m-8.5 0.5h1m5 0h1m6.5 0.5h1M0 0m106 269.9h1m-6 0.5h1m-0.5 0h1m1 0h1m6.5 0.5h1m-6.5 0.5h1m2 0h1m0 0h1m0.5 0h1m-0.5 0h1m-9 0.5h1m1.5 0h1m0.5 0h1m6 0h1m-8 0.5h1m4 0h1m-10 0.5h1m7.5 0.5h1m2.5 0h1m-25.5 0.5h1m7 0h1m10.5 0h1m-7 0.5h1m4.5 0h1m-23.5 0.5h1m2 0h1m5.5 0h1m3 0h1m1 0h1m1.5 0h1m-9 0.5h1m1 0h1m4 0h1m0 0h1m6 0h1m-12 0.5h1m3.5 0h1m0.5 0h1m2 0h1m0 0h1m-19.5 0.5h1m5.5 0h1m1.5 0h1m0 0h1m1 0h1m-0.5 0h1m0.5 0h1m1 0h1m1.5 0h1m-0.5 0h1m-9.5 0.5h1m3.5 0h1m4.5 0h1m-21.5 0.5h1m9.5 0h1m2 0h1m-0.5 0h1m-0.5 0h1m0 0h1m0 0h1m-8.5 0.5h1m2.5 0h1m-0.5 0h1m0.5 0h1m-0.5 0h1m-13.5 0.5h1m8.5 0h1m2 0h1m-21 0.5h1m10.5 0h1m2.5 0h1m1.5 0h1m-0.5 0h1m1.5 0h1m-15 0.5h1m8.5 0h1m4.5 0h1m-13.5 0.5h1m1 0h1m2.5 0h1m1 0h1m0.5 0h1m0 0h1m4 0h1m-18.5 0.5h1m-0.5 0h1m2 0h1m-0.5 0h1m7 0h1m3.5 0h1m-15 0.5h1m0 0h1m5.5 0h1m0 0h1m-13 0.5h1m8 0h1m-7.5 0.5h1m8 0h1m3 0h1m5.5 0h1m-19.5 0.5h1m7 0h1m0.5 0h1m1.5 0h1m4 0h1m-22 0.5h1m4 0h1m6 0h1m-0.5 0h1m4 0h1m-0.5 0h1m-0.5 0h1m-15 0.5h1m-0.5 0h1m0 0h1m2.5 0h1m2.5 0h1m-9 1h1m9 0h1m0.5 0h1m-0.5 0h1m1 0h1m2 0h1m-15 0.5h1m12 0h1m-11 0.5h1m3.5 0h1m0.5 0h1m-18.5 0.5h1m6 0h1m1 0h1m0.5 0h1m5 0h1m-0.5 0h1m0 0h1m1.5 0h1m-12 0.5h1m1.5 0h1m1 0h1m0 0h1m6.5 0h1m-11 0.5h1m6 0h1m-17.5 0.5h1m4 0h1m5.5 0h1m-18.5 0.5h1m9.5 0h1m1 0h1m4 0h1m2.5 0h1m-0.5 0h1m-18.5 0.5h1m8.5 0h1m1.5 0h1m4 0h1m-14.5 0.5h1m1 0h1m5 0h1m0 0h1m0 0h1m3.5 0h1m0.5 0h1m-19 0.5h1m6.5 0h1m4 0h1m-5 0.5h1m8.5 0h1m-15.5 0.5h1m-0.5 0h1m9 0h1m-3 0.5h1m7 0h1m-15.5 0.5h1m2 0h1m-1.5 0.5h1m3.5 0h1m-11.5 0.5h1m1 0h1m7.5 0h1m1.5 0h1m0.5 0h1m-12 0.5h1m-5.5 0.5h1m10 0.5h1m-0.5 0h1m-15.5 0.5h1m3.5 0h1m7.5 0h1m-5 0.5h1m0 0h1m4 0h1m-6 0.5h1m-3.5 2h1m2 0h1m4.5 1.5h1m-5 1.5h1M0 0m24.5 335.8h1m1 0h1m5.5 0h1m0.5 0h1m0 0h1m2 0h1m-0.5 0h1m0 0h1m-10.5 0.5h1m3 0h1m-2 0.5h1m-0.5 0h1m-5.5 0.5h1m3 0h1m-15.5 0.5h1m9 0h1m-1.5 0.5h1m-0.5 0h1m1.5 0h1m0.5 0h1m2 0h1m0 0h1m-10 0.5h1m1.5 0h1m0.5 0h1m1.5 0h1m4.5 0h1m0.5 0h1m-25.5 0.5h1m11 0h1m4.5 0h1m5 0h1m-12.5 0.5h1m0.5 0h1m1 0h1m0 0h1m0 0h1m-6 0.5h1m2 0h1m1 0h1m0 0h1m0 0h1m1 0h1m-0.5 0h1m-10.5 0.5h1m0 0h1m0.5 0h1m0 0h1m8 0h1m-14 0.5h1m2 0h1m0.5 0h1m1.5 0h1m2.5 0h1m-0.5 0h1m-18.5 0.5h1m4 0h1m1.5 0h1m-0.5 0h1m0.5 0h1m-0.5 0h1m0.5 0h1m4 0h1m-11 0.5h1m2 0h1m1 0h1m0 0h1m-0.5 0h1m0.5 0h1m-10.5 0.5h1m0 0h1m-0.5 0h1m3 0h1m0.5 0h1m0 0h1m-0.5 0h1m5.5 0h1m-19.5 0.5h1m1.5 0h1m-0.5 0h1m2.5 0h1m0.5 0h1m-0.5 0h1m1.5 0h1m1 0h1m0 0h1m2 0h1m-12 0.5h1m-0.5 0h1m-0.5 0h1m1 0h1m0 0h1m0 0h1m1.5 0h1m3.5 0h1m-14.5 0.5h1m1 0h1m-0.5 0h1m-0.5 0h1m0.5 0h1m0 0h1m0 0h1m0 0h1m2 0h1m0 0h1m3 0h1m-19.5 0.5h1m-0.5 0h1m2.5 0h1m0.5 0h1m3 0h1m-0.5 0h1m-0.5 0h1m1 0h1m-0.5 0h1m1.5 0h1m-13 0.5h1m0 0h1m0 0h1m1.5 0h1m1.5 0h1m4 0h1m-17 0.5h1m1 0h1m0.5 0h1m0 0h1m0 0h1m0 0h1m4.5 0h1m2.5 0h1m-22 0.5h1m1.5 0h1m3.5 0h1m0.5 0h1m0.5 0h1m2.5 0h1m-0.5 0h1m0.5 0h1m1 0h1m1.5 0h1m-0.5 0h1m-0.5 0h1m-22.5 0.5h1m7.5 0h1m0 0h1m2.5 0h1m0 0h1m2.5 0h1m-0.5 0h1m0 0h1m0.5 0h1m-16 0.5h1m1 0h1m2.5 0h1m4.5 0h1m-0.5 0h1m0.5 0h1m1.5 0h1m0 0h1m0 0h1m-17 0.5h1m2.5 0h1m2.5 0h1m-0.5 0h1m-0.5 0h1m-0.5 0h1m0.5 0h1m1 0h1m-0.5 0h1m-0.5 0h1m3.5 0h1m-23.5 0.5h1m1 0h1m1 0h1m2.5 0h1m3 0h1m0.5 0h1m2.5 0h1m3 0h1m-0.5 0h1m-19.5 0.5h1m2 0h1m0 0h1m2 0h1m0 0h1m0 0h1m0.5 0h1m0 0h1m-0.5 0h1m1.5 0h1m-0.5 0h1m0 0h1m-0.5 0h1m-12 0.5h1m0.5 0h1m0.5 0h1m0 0h1m1 0h1m3 0h1m-0.5 0h1m0 0h1m-0.5 0h1m-16 0.5h1m0.5 0h1m0 0h1m1.5 0h1m0.5 0h1m4.5 0h1m-0.5 0h1m0.5 0h1m0 0h1m-17.5 0.5h1m-0.5 0h1m3.5 0h1m-0.5 0h1m-0.5 0h1m0.5 0h1m1 0h1m0 0h1m0 0h1m1.5 0h1m4.5 0h1m-20 0.5h1m1.5 0h1m2 0h1m1 0h1m1 0h1m0 0h1m0.5 0h1m-15.5 0.5h1m5.5 0h1m0.5 0h1m0 0h1m1 0h1m0 0h1m0.5 0h1m1 0h1m-0.5 0h1m0.5 0h1m1 0h1m-0.5 0h1m-23 0.5h1m0.5 0h1m8 0h1m2.5 0h1m1 0h1m0.5 0h1m1 0h1m-21.5 0.5h1m4 0h1m1.5 0h1m0 0h1m1 0h1m2 0h1m3 0h1m-0.5 0h1m1.5 0h1m1 0h1m-16.5 0.5h1m-0.5 0h1m1.5 0h1m3.5 0h1m-12 0.5h1m4.5 0h1m1 0h1m2 0h1m3.5 0h1m-15.5 0.5h1m1 0h1m0 0h1m4 0h1m1 0h1m3.5 0h1m-0.5 0h1m0.5 0h1m-14 0.5h1m3.5 0h1m6.5 0h1m0 0h1m0.5 0h1m-12.5 0.5h1m0.5 0h1m0 0h1m1.5 0h1m1.5 0h1m1 0h1m-20.5 0.5h1m1.5 0h1m2 0h1m1.5 0h1m-0.5 0h1m1 0h1m5.5 0h1m-7.5 0.5h1m4.5 0h1m0 0h1m4 0h1m-20 0.5h1m0.5 0h1m-0.5 0h1m-0.5 0h1m1 0h1m0 0h1m0.5 0h1m0.5 0h1m1 0h1m3 0h1m-11.5 0.5h1m5 0h1m-2.5 0.5h1m-2 0.5h1m1.5 0h1m-0.5 0h1m1.5 0h1m-0.5 0h1m3.5 0h1m-18.5 0.5h1m4 0h1m-3 0.5h1m6.5 0h1m3.5 0h1m-13 0.5h1m2.5 0h1m3 0h1m2 0h1m1.5 0h1m-15.5 0.5h1m0.5 0h1m8.5 0h1m0 0h1m-13.5 0.5h1m4.5 0h1m3 0.5h1m5.5 0.5h1m-16.5 1h1m2.5 0h1m0 0h1m-9 0.5h1m11.5 0.5h1m7 0h1m-5.5 1h1m-13 1h1M0 0m106 335.8h1m0.5 0h1m-3 0.5h1m1 0h1m1 0h1m-9.5 0.5h1m5.5 0.5h1m4.5 0h1m-14 0.5h1m5 0h1m-18.5 0.5h1m17 0h1m0.5 0h1m3.5 0h1m-20 0.5h1m5 0h1m5 0h1m1.5 0h1m-12.5 0.5h1m4 0h1m-10 0.5h1m6 0h1m1 0h1m3.5 0h1m-8.5 0.5h1m4.5 0h1m1 0h1m0 0h1m1.5 0h1m1 0h1m-11 0.5h1m0.5 0h1m-0.5 0h1m-0.5 0h1m0 0h1m2 0h1m-0.5 0h1m-14 0.5h1m6 0h1m4 0h1m-13 0.5h1m3 0h1m3 0h1m-0.5 0h1m0.5 0h1m-8 0.5h1m-0.5 0h1m7.5 0h1m0.5 0h1m-11.5 0.5h1m-0.5 0h1m1.5 0h1m-0.5 0h1m0.5 0h1m1 0h1m0.5 0h1m1 0h1m-16 0.5h1m6.5 0h1m3.5 0h1m5.5 0h1m0 0h1m-12.5 0.5h1m6.5 0h1m-18.5 0.5h1m9 0h1m0.5 0h1m0 0h1m1.5 0h1m2 0h1m0.5 0h1m-16.5 0.5h1m6 0h1m3.5 0h1m1 0h1m0 0h1m-0.5 0h1m-0.5 0h1m2 0h1m-21 0.5h1m10 0h1m0 0h1m1.5 0h1m1.5 0h1m-9 0.5h1m-0.5 0h1m8 0h1m0.5 0h1m-12.5 0.5h1m0.5 0h1m0 0h1m5 0h1m-25 0.5h1m11.5 0h1m4.5 0h1m2.5 0h1m-0.5 0h1m-11 0.5h1m5.5 0h1m0 0h1m-8 0.5h1m2.5 0h1m0.5 0h1m-0.5 0h1m-0.5 0h1m-0.5 0h1m-0.5 0h1m0 0h1m5 0h1m-16 0.5h1m3 0h1m3.5 0h1m0.5 0h1m0 0h1m0.5 0h1m-20.5 0.5h1m10 0h1m2 0h1m0.5 0h1m1 0h1m-16.5 0.5h1m10 0h1m1.5 0h1m-0.5 0h1m3 0h1m-9.5 0.5h1m2 0h1m-0.5 0h1m3.5 0h1m0 0h1m-15 0.5h1m2 0h1m7 0h1m1.5 0h1m-14.5 0.5h1m2.5 0h1m6 0h1m0.5 0h1m1 0h1m-18 0.5h1m1.5 0h1m-5.5 0.5h1m14 0h1m1.5 0h1m-15 0.5h1m5 0h1m6 0h1m-11 0.5h1m-9 0.5h1m4.5 0h1m0 0h1m5 0h1m0.5 0h1m6 0h1m1 0h1m-23 0.5h1m6 0h1m5 0h1m-0.5 0h1m0.5 0h1m1 0.5h1m-13 0.5h1m0 0h1m2.5 0h1m1.5 0h1m7 0h1m-23 0.5h1m12 0h1m10.5 0h1m-15.5 0.5h1m7.5 0h1m-7.5 0.5h1m5 0h1m-2 0.5h1m-0.5 0h1m2.5 0h1m-19.5 0.5h1m11.5 0h1m3 0.5h1m-15 0.5h1m2 0h1m4 0h1m1 0h1m-9.5 0.5h1m15 0h1m-12.5 0.5h1m2 0h1m-2.5 0.5h1m2.5 0h1m6 0h1m-16.5 1h1m4 0h1m-1.5 0.5h1m2 0h1m3.5 0.5h1m-11 1h1m0 0h1m6 0h1m-1 0.5h1m-12 1.5h1m5 1.5h1M0 0m20 402.1h1m12 0h1m1 0h1m-0.5 0h1m3 0h1m-6.5 0.5h1m6 0h1m-20.5 0.5h1m10.5 0h1m0 0h1m-7 0.5h1m6 0h1m-6.5 0.5h1m0.5 0h1m0.5 0h1m1 0h1m0.5 0h1m-12 0.5h1m0.5 0h1m1.5 0h1m9.5 0h1m5.5 0h1m-29.5 0.5h1m6 0h1m2.5 0h1m0.5 0h1m3.5 0h1m1.5 0h1m0 0h1m0 0h1m-9 0.5h1m6.5 0h1m0 0h1m-21 0.5h1m9 0h1m0.5 0h1m-0.5 0h1m1.5 0h1m2.5 0h1m0 0h1m1 0h1m-15 0.5h1m-0.5 0h1m0 0h1m0 0h1m0.5 0h1m0 0h1m1.5 0h1m-0.5 0h1m3 0h1m0.5 0h1m-0.5 0h1m-20.5 0.5h1m3 0h1m2 0h1m9.5 0h1m3.5 0h1m1.5 0h1m-25.5 0.5h1m7.5 0h1m1.5 0h1m0.5 0h1m0 0h1m1.5 0h1m-0.5 0h1m-0.5 0h1m-0.5 0h1m1 0h1m-21.5 0.5h1m8.5 0h1m-0.5 0h1m1.5 0h1m4 0h1m3 0h1m-11 0.5h1m3 0h1m0 0h1m-0.5 0h1m0.5 0h1m0 0h1m-0.5 0h1m-0.5 0h1m4.5 0h1m-23 0.5h1m1 0h1m3 0h1m1.5 0h1m0 0h1m1 0h1m2 0h1m2 0h1m-16.5 0.5h1m0 0h1m1 0h1m5 0h1m-0.5 0h1m1 0h1m-0.5 0h1m-15 0.5h1m5 0h1m2.5 0h1m1 0h1m1.5 0h1m-0.5 0h1m-14 0.5h1m0 0h1m0 0h1m2 0h1m2 0h1m0.5 0h1m-0.5 0h1m0.5 0h1m0.5 0h1m0 0h1m4.5 0h1m-20 0.5h1m3.5 0h1m1.5 0h1m0 0h1m1 0h1m0 0h1m2 0h1m-0.5 0h1m2 0h1m-0.5 0h1m-17 0.5h1m1.5 0h1m1 0h1m2 0h1m-0.5 0h1m5 0h1m-17.5 0.5h1m1.5 0h1m0.5 0h1m0 0h1m2 0h1m0 0h1m-0.5 0h1m3.5 0h1m3 0h1m0 0h1m-0.5 0h1m-17.5 0.5h1m0.5 0h1m0.5 0h1m-0.5 0h1m0 0h1m0.5 0h1m2 0h1m0 0h1m-9 0.5h1m0.5 0h1m-0.5 0h1m0 0h1m-0.5 0h1m1 0h1m-0.5 0h1m-0.5 0h1m-0.5 0h1m-0.5 0h1m0 0h1m3 0h1m-18.5 0.5h1m1 0h1m0 0h1m1 0h1m0.5 0h1m0.5 0h1m1.5 0h1m1.5 0h1m-0.5 0h1m0 0h1m0.5 0h1m3 0h1m-23.5 0.5h1m6.5 0h1m1.5 0h1m2 0h1m-0.5 0h1m0.5 0h1m-15 0.5h1m1.5 0h1m3 0h1m-0.5 0h1m-0.5 0h1m2 0h1m1.5 0h1m-0.5 0h1m0.5 0h1m-0.5 0h1m-23 0.5h1m1.5 0h1m5 0h1m-0.5 0h1m4 0h1m0.5 0h1m1 0h1m-0.5 0h1m0 0h1m-0.5 0h1m3 0h1m-17.5 0.5h1m-0.5 0h1m5.5 0h1m0 0h1m6 0h1m1 0h1m-17.5 0.5h1m9 0h1m1 0h1m-0.5 0h1m-0.5 0h1m-0.5 0h1m3 0h1m-23 0.5h1m1 0h1m4.5 0h1m1.5 0h1m0 0h1m0 0h1m-0.5 0h1m1.5 0h1m4 0h1m-20 0.5h1m1.5 0h1m0 0h1m-0.5 0h1m-0.5 0h1m0.5 0h1m1 0h1m3 0h1m3 0h1m1 0h1m-0.5 0h1m-19.5 0.5h1m3.5 0h1m4.5 0h1m0 0h1m0 0h1m-0.5 0h1m1 0h1m0.5 0h1m1 0h1m0 0h1m-17.5 0.5h1m7.5 0h1m-0.5 0h1m0.5 0h1m2 0h1m0 0h1m2 0h1m-0.5 0h1m-20 0.5h1m-0.5 0h1m1.5 0h1m1 0h1m2 0h1m0 0h1m3 0h1m0.5 0h1m-19.5 0.5h1m7.5 0h1m-0.5 0h1m2 0h1m1.5 0h1m5.5 0h1m-23 0.5h1m14 0h1m2.5 0h1m0.5 0h1m0 0h1m-17.5 0.5h1m0 0h1m5.5 0h1m-0.5 0h1m1.5 0h1m1 0h1m0 0h1m0.5 0h1m0 0h1m2 0h1m0.5 0h1m-16 0.5h1m-0.5 0h1m3.5 0h1m-0.5 0h1m2 0h1m4 0h1m-0.5 0h1m-20 0.5h1m3.5 0h1m1.5 0h1m5 0h1m0 0h1m3.5 0h1m-18.5 0.5h1m6 0h1m0 0h1m1.5 0h1m0 0h1m2.5 0h1m-11.5 0.5h1m0 0h1m2 0h1m10 0h1m-26.5 0.5h1m8 0h1m3 0h1m-0.5 0h1m5.5 0.5h1m0 0h1m0 0h1m0 0h1m-19.5 0.5h1m6.5 0.5h1m3 0h1m1.5 0h1m-0.5 0h1m3 0h1m-10.5 0.5h1m1 0h1m1.5 0h1m4 0h1m-9.5 0.5h1m1.5 0h1m-0.5 0h1m2.5 0h1m-14.5 0.5h1m10.5 0h1m2.5 0h1m-8.5 0.5h1m0.5 0h1m-9 0.5h1m7.5 0h1m0 0h1m0 0h1m7.5 0h1m-12.5 0.5h1m5 0.5h1m-12 1.5h1m3 0.5h1m-2 0.5h1m2 0h1m0 0.5h1m-5 1h1m5.5 0.5h1M0 0m95.5 401.6h1m0 0h1m1.5 0h1m10 0h1m-0.5 0.5h1m-21 0.5h1m12 0h1m1 0h1m6 0h1m-0.5 0h1m1 0h1m-16.5 0.5h1m7.5 0h1m-11.5 0.5h1m2 0h1m-0.5 0h1m0.5 0h1m0 0.5h1m2 0h1m1.5 0h1m-22.5 0.5h1m11 0h1m4 0h1m3 0h1m3 0h1m-12 0.5h1m4 0h1m2 0h1m1 0h1m-9 0.5h1m2 0h1m-3 0.5h1m0.5 0h1m0.5 0h1m4 0h1m0 0h1m-8.5 0.5h1m0.5 0h1m-0.5 0h1m0 0h1m1 0h1m0 0h1m2 0h1m-15.5 0.5h1m2.5 0h1m1 0.5h1m5 0h1m-0.5 0h1m-15 0.5h1m1 0h1m5.5 0h1m-0.5 0h1m-18.5 0.5h1m3 0h1m1.5 0h1m2 0h1m0 0h1m4.5 0h1m1.5 0h1m0 0h1m-7.5 0.5h1m0 0h1m0 0h1m3.5 0h1m-0.5 0h1m4 0h1m-20 0.5h1m11 0h1m4 0h1m1 0h1m-22.5 0.5h1m6 0h1m-0.5 0h1m0 0h1m2 0h1m9.5 0h1m-12.5 0.5h1m0 0h1m-0.5 0h1m0.5 0h1m7.5 0h1m-11 0.5h1m-0.5 0h1m0.5 0h1m-17.5 0.5h1m5 0h1m4 0h1m-0.5 0h1m4.5 0h1m-15.5 0.5h1m3 0h1m2 0h1m3 0h1m1.5 0h1m2.5 0h1m-7 0.5h1m-0.5 0h1m0 0h1m-2 0.5h1m2.5 0h1m4 0h1m0.5 0h1m-23 0.5h1m6.5 0h1m-9 0.5h1m3.5 0h1m1 0h1m3 0h1m-0.5 0h1m-0.5 0h1m-0.5 0h1m1 0h1m-11.5 0.5h1m11 0h1m2.5 0h1m-20.5 0.5h1m3.5 0h1m0 0h1m0.5 0h1m3.5 0h1m5 0h1m1.5 0h1m-11 0.5h1m0 0h1m0.5 0h1m0.5 0h1m-14.5 0.5h1m7.5 0h1m2 0h1m-9 0.5h1m1.5 0h1m-0.5 0h1m4.5 0h1m0.5 0h1m-0.5 0h1m1 0h1m3.5 0h1m-25 0.5h1m14 0h1m-0.5 0h1m0.5 0h1m6.5 0h1m-20.5 0.5h1m3 0h1m3 0h1m3 0h1m-6 0.5h1m0 0h1m1.5 0h1m8 0h1m-15 0.5h1m2 0h1m1.5 0h1m0 0h1m0 0h1m0 0h1m3 0h1m-17.5 0.5h1m12 0h1m-5.5 0.5h1m0 0h1m0 0h1m-16 0.5h1m8.5 0h1m4.5 0h1m0 0h1m3 0h1m0 0h1m-16.5 0.5h1m5 0h1m1 0h1m-0.5 0h1m0.5 0h1m6.5 0h1m-27 0.5h1m4.5 0h1m4.5 0h1m-7.5 0.5h1m7 0h1m7 0h1m-10 0.5h1m0 0h1m4 0h1m1.5 0h1m-10.5 0.5h1m-0.5 0h1m3.5 0h1m-0.5 0h1m5 0h1m-2.5 0.5h1m5.5 0h1m-0.5 0h1m-8.5 0.5h1m4.5 0h1m-16 0.5h1m12.5 0h1m0 0h1m-18 0.5h1m3.5 0h1m4.5 0.5h1m-1.5 0.5h1m0 0h1m-0.5 0h1m1.5 0h1m-9 0.5h1m11.5 1.5h1m-12.5 0.5h1m-13 0.5h1m10 0h1m-2 0.5h1m10.5 0h1m-15 3h1M0 0m28 467.5h1m4 0.5h1m-3.5 0.5h1m3.5 0h1m-0.5 0h1m8 0h1m-15.5 0.5h1m3.5 0h1m1 0h1m0 0h1m0 0h1m-2.5 0.5h1m-0.5 0h1m-0.5 0h1m4.5 0h1m-14 0.5h1m2 0h1m1 0h1m-0.5 0h1m0.5 0h1m-16 0.5h1m1 0h1m4 0h1m-7 0.5h1m5 0h1m1 0h1m2.5 0h1m1 0h1m-7 0.5h1m7.5 0h1m-16 0.5h1m0 0h1m0.5 0h1m0 0h1m-0.5 0h1m4.5 0h1m0.5 0h1m2.5 0h1m-13 0.5h1m3 0h1m0.5 0h1m-0.5 0h1m3 0h1m0 0h1m-11 0.5h1m0.5 0h1m3.5 0h1m0 0h1m-0.5 0h1m2 0h1m3.5 0h1m-19 0.5h1m-0.5 0h1m-0.5 0h1m0.5 0h1m12.5 0h1m1.5 0h1m-20 0.5h1m1.5 0h1m1.5 0h1m0.5 0h1m0.5 0h1m-0.5 0h1m2 0h1m0.5 0h1m4 0h1m-17 0.5h1m2 0h1m1 0h1m2 0h1m0.5 0h1m1 0h1m6 0h1m-27 0.5h1m5 0h1m3 0h1m4.5 0h1m0 0h1m3.5 0h1m-22 0.5h1m4 0h1m2 0h1m1 0h1m1.5 0h1m-0.5 0h1m-0.5 0h1m0 0h1m2 0h1m0 0h1m-0.5 0h1m0 0h1m-15.5 0.5h1m2.5 0h1m-0.5 0h1m1 0h1m3.5 0h1m-0.5 0h1m1.5 0h1m1 0h1m0 0h1m0 0h1m0.5 0h1m0 0h1m-15.5 0.5h1m1 0h1m3.5 0h1m0 0h1m0.5 0h1m1 0h1m0 0h1m-20 0.5h1m-0.5 0h1m3.5 0h1m-0.5 0h1m-0.5 0h1m1.5 0h1m0.5 0h1m1.5 0h1m-0.5 0h1m5 0h1m0.5 0h1m0 0h1m-24 0.5h1m8 0h1m1 0h1m-0.5 0h1m0.5 0h1m-0.5 0h1m0 0h1m2 0h1m0 0h1m1 0h1m-13.5 0.5h1m1 0h1m-0.5 0h1m1 0h1m1.5 0h1m3 0h1m0.5 0h1m-20 0.5h1m10 0h1m1.5 0h1m-0.5 0h1m0 0h1m0.5 0h1m0.5 0h1m-0.5 0h1m-21 0.5h1m6 0h1m1.5 0h1m0 0h1m0 0h1m3.5 0h1m1 0h1m0 0h1m1 0h1m-18.5 0.5h1m1.5 0h1m3 0h1m2 0h1m-0.5 0h1m0 0h1m8 0h1m-18.5 0.5h1m1.5 0h1m1 0h1m4 0h1m3.5 0h1m-21.5 0.5h1m-0.5 0h1m-0.5 0h1m1.5 0h1m0 0h1m5 0h1m0 0h1m-0.5 0h1m2 0h1m0 0h1m-0.5 0h1m0.5 0h1m0.5 0h1m-15 0.5h1m1.5 0h1m1 0h1m0 0h1m0.5 0h1m0 0h1m0 0h1m0 0h1m2.5 0h1m-22 0.5h1m4 0h1m5.5 0h1m0.5 0h1m0 0h1m-0.5 0h1m0.5 0h1m1.5 0h1m0 0h1m3 0h1m0.5 0h1m-25 0.5h1m5 0h1m3.5 0h1m1 0h1m-0.5 0h1m-0.5 0h1m-0.5 0h1m1 0h1m0.5 0h1m-0.5 0h1m3.5 0h1m-23.5 0.5h1m0.5 0h1m3.5 0h1m2 0h1m3.5 0h1m1.5 0h1m1.5 0h1m0 0h1m1 0h1m-10.5 0.5h1m1 0h1m0.5 0h1m6 0h1m0 0h1m0.5 0h1m-25 0.5h1m5.5 0h1m-0.5 0h1m0 0h1m-0.5 0h1m1 0h1m1 0h1m0.5 0h1m0.5 0h1m-15 0.5h1m1 0h1m5.5 0h1m1.5 0h1m-0.5 0h1m5.5 0h1m-17.5 0.5h1m1 0h1m-0.5 0h1m0.5 0h1m3 0h1m3 0h1m0 0h1m3.5 0h1m0.5 0h1m-14.5 0.5h1m1 0h1m0 0h1m0.5 0h1m-0.5 0h1m4 0h1m1 0h1m-22 0.5h1m5.5 0h1m1 0h1m1 0h1m0 0h1m0.5 0h1m-0.5 0h1m-0.5 0h1m2 0h1m0 0h1m-10.5 0.5h1m1 0h1m0 0h1m1 0h1m1 0h1m0.5 0h1m0.5 0h1m-0.5 0h1m4 0h1m-15.5 0.5h1m1.5 0h1m0 0h1m2 0h1m0 0h1m-10 0.5h1m5 0h1m0 0h1m1.5 0h1m-8.5 0.5h1m0 0h1m0.5 0h1m2.5 0h1m1.5 0h1m0 0h1m2 0h1m-14.5 0.5h1m3 0h1m1.5 0h1m2 0h1m1 0h1m-9 0.5h1m1 0h1m0 0h1m3 0h1m2 0h1m-19 0.5h1m2.5 0h1m-0.5 0h1m0.5 0h1m5 0h1m3.5 0h1m-24.5 0.5h1m14 0h1m1.5 0h1m-10 0.5h1m13 0h1m-10.5 0.5h1m2.5 0h1m-5 0.5h1m-11 0.5h1m13 0.5h1m1.5 0h1m2 0h1m-10 0.5h1m7 0h1m3 0h1m-21 0.5h1m1.5 0h1m1 0h1m2 0h1m2.5 0h1m5.5 0h1m-8 0.5h1m-6 0.5h1m2.5 0h1m0.5 1h1m-3.5 1h1m5 2h1M0 0m100.5 467.5h1m1.5 0h1m8.5 0h1m-10.5 0.5h1m4 0h1m4 0h1m-9.5 0.5h1m0.5 0h1m2 0h1m-6 0.5h1m0 0h1m3 0h1m-0.5 0h1m0.5 0h1m-20 0.5h1m8 0h1m3.5 0h1m2 0h1m-11 0.5h1m8 0h1m1 0h1m-3 0.5h1m0 0h1m1.5 0h1m1 0h1m-6 0.5h1m0.5 0h1m-6 0.5h1m-0.5 0h1m6.5 0h1m-0.5 0h1m-10 0.5h1m4.5 0h1m4.5 0h1m-18.5 0.5h1m3 0h1m6 0h1m-0.5 0h1m2.5 0h1m-0.5 0h1m-17 0.5h1m4 0h1m1 0h1m6.5 0h1m-11 0.5h1m2.5 0h1m-0.5 0h1m2.5 0h1m3 0h1m-20 0.5h1m3 0h1m2.5 0h1m3 0h1m2 0h1m-0.5 0h1m-0.5 0h1m1 0h1m-22.5 0.5h1m7.5 0h1m0.5 0h1m4 0h1m-0.5 0h1m-0.5 0h1m1 0h1m0 0h1m4 0h1m-18.5 0.5h1m3.5 0h1m3 0h1m0 0h1m0.5 0h1m-16 0.5h1m2 0h1m4 0h1m2 0h1m0 0h1m0 0h1m-5 0.5h1m0.5 0h1m2.5 0h1m2.5 0h1m0.5 0h1m-12.5 0.5h1m2 0h1m1.5 0h1m0 0h1m0.5 0h1m0 0h1m1.5 0h1m2.5 0h1m-22.5 0.5h1m12 0h1m-4.5 0.5h1m5 0h1m1.5 0h1m1.5 0h1m-17 0.5h1m2.5 0h1m3 0h1m2.5 0h1m0.5 0h1m2 0h1m-10 0.5h1m3 0h1m5 0h1m-18.5 0.5h1m3 0h1m0.5 0h1m0 0h1m9.5 0h1m0.5 0h1m-16 0.5h1m1.5 0h1m0 0h1m1.5 0h1m0.5 0h1m-11 0.5h1m0 0h1m0 0h1m6.5 0h1m5.5 0h1m-8.5 0.5h1m-0.5 0h1m0.5 0h1m0 0h1m0 0h1m-23.5 0.5h1m5 0h1m8 0h1m1 0h1m1 0h1m0.5 0h1m0 0h1m-23.5 0.5h1m6 0h1m12.5 0h1m2 0h1m-5.5 0.5h1m1 0h1m-0.5 0h1m0.5 0h1m-0.5 0h1m-16.5 0.5h1m1 0h1m9 0h1m0.5 0h1m0 0h1m0 0h1m-1 0.5h1m-12.5 0.5h1m1 0h1m-0.5 0h1m-0.5 0h1m-0.5 0h1m2.5 0h1m0 0h1m-4 0.5h1m-3 0.5h1m6 0h1m-8.5 0.5h1m0 0h1m1.5 0h1m1 0h1m-9.5 0.5h1m-0.5 0h1m4 0h1m2.5 0h1m0.5 0h1m-16 0.5h1m8.5 0h1m3.5 0h1m1 0h1m-17 0.5h1m5 0h1m1.5 0h1m-7 0.5h1m0 0h1m9 0h1m-0.5 0h1m2.5 0h1m-9.5 0.5h1m-4 0.5h1m-1.5 0.5h1m1.5 0h1m1.5 0h1m-0.5 0h1m-11.5 0.5h1m12.5 0h1m-2 0.5h1m3 0h1m-10.5 0.5h1m-3 0.5h1m-3.5 0.5h1m0 0h1m4 0h1m0 0h1m2 0h1m0.5 0h1m2 0h1m2.5 0h1m-0.5 0.5h1m-26 0.5h1m9 0.5h1m8 0.5h1m1.5 0.5h1m-0.5 0h1m-4 1h1m-7.5 1h1m3 0h1m-14 1h1m6 1h1M0 0m27 533.3h1m7 0.5h1m2.5 0h1m2 0h1m-10.5 0.5h1m1 0h1m3 0h1m-9.5 0.5h1m3 0h1m1.5 0h1m0.5 0h1m-12.5 0.5h1m1.5 0h1m-0.5 0h1m7 0h1m1 0h1m0.5 0h1m-9.5 0.5h1m9.5 0h1m-10 0.5h1m-14.5 0.5h1m4.5 0h1m1.5 0h1m-0.5 0h1m-0.5 0h1m5 0h1m4.5 0h1m-0.5 0h1m-14 0.5h1m1 0h1m2.5 0h1m-0.5 0h1m2.5 0h1m-7.5 0.5h1m3.5 0h1m3 0h1m1 0h1m-17.5 0.5h1m3 0h1m1.5 0h1m0.5 0h1m3 0h1m1.5 0h1m-17 0.5h1m0 0h1m6 0h1m0 0h1m2 0h1m-8 0.5h1m5.5 0h1m-0.5 0h1m0.5 0h1m-0.5 0h1m-0.5 0h1m2.5 0h1m-15.5 0.5h1m1.5 0h1m0 0h1m-0.5 0h1m1.5 0h1m1 0h1m1 0h1m1 0h1m-0.5 0h1m-16.5 0.5h1m3.5 0h1m0.5 0h1m1 0h1m0 0h1m1 0h1m0 0h1m1 0h1m-0.5 0h1m-7 0.5h1m1.5 0h1m-0.5 0h1m2 0h1m0.5 0h1m3 0h1m-17 0.5h1m2.5 0h1m1 0h1m3 0h1m-19 0.5h1m8 0h1m0 0h1m2.5 0h1m-0.5 0h1m0 0h1m0 0h1m-20.5 0.5h1m1 0h1m6 0h1m-0.5 0h1m1 0h1m-0.5 0h1m0 0h1m1 0h1m-0.5 0h1m-0.5 0h1m-0.5 0h1m0.5 0h1m-0.5 0h1m0.5 0h1m2.5 0h1m-13.5 0.5h1m2 0h1m1 0h1m0.5 0h1m1.5 0h1m-0.5 0h1m-0.5 0h1m6 0h1m-15.5 0.5h1m0.5 0h1m-0.5 0h1m1 0h1m0 0h1m0 0h1m-0.5 0h1m0.5 0h1m3 0h1m-0.5 0h1m1.5 0h1m-18.5 0.5h1m-0.5 0h1m1.5 0h1m0 0h1m1 0h1m1.5 0h1m0 0h1m-0.5 0h1m0.5 0h1m-19.5 0.5h1m2 0h1m4 0h1m4.5 0h1m0.5 0h1m5 0h1m-17 0.5h1m3.5 0h1m0 0h1m2 0h1m-0.5 0h1m3 0h1m-0.5 0h1m4.5 0h1m-18.5 0.5h1m3 0h1m0.5 0h1m-0.5 0h1m0 0h1m-0.5 0h1m-0.5 0h1m0 0h1m-0.5 0h1m0 0h1m0.5 0h1m1.5 0h1m-12 0.5h1m-0.5 0h1m0.5 0h1m2 0h1m1.5 0h1m-0.5 0h1m-0.5 0h1m-0.5 0h1m1 0h1m-24.5 0.5h1m1.5 0h1m4 0h1m4 0h1m-0.5 0h1m0.5 0h1m0 0h1m1 0h1m0 0h1m0.5 0h1m2 0h1m-21 0.5h1m-0.5 0h1m2.5 0h1m-0.5 0h1m1.5 0h1m-0.5 0h1m0 0h1m0.5 0h1m1.5 0h1m1 0h1m0 0h1m0.5 0h1m-0.5 0h1m-0.5 0h1m-8 0.5h1m-0.5 0h1m0.5 0h1m1 0h1m-0.5 0h1m1.5 0h1m0 0h1m-13.5 0.5h1m0 0h1m0 0h1m4.5 0h1m1 0h1m2.5 0h1m1 0h1m1.5 0h1m-16 0.5h1m1 0h1m3 0h1m0 0h1m-0.5 0h1m-17.5 0.5h1m0.5 0h1m3 0h1m-0.5 0h1m0 0h1m-0.5 0h1m3 0h1m0.5 0h1m4 0h1m-0.5 0h1m0 0h1m1 0h1m0 0h1m-15 0.5h1m0.5 0h1m0.5 0h1m1 0h1m0.5 0h1m0.5 0h1m0 0h1m-0.5 0h1m1.5 0h1m-25 0.5h1m2 0h1m5 0h1m-0.5 0h1m-0.5 0h1m-0.5 0h1m5 0h1m2.5 0h1m0.5 0h1m-10 0.5h1m4 0h1m-0.5 0h1m0 0h1m4 0h1m2 0h1m-24 0.5h1m5.5 0h1m1.5 0h1m1.5 0h1m-0.5 0h1m1 0h1m3 0h1m-0.5 0h1m1 0h1m-13.5 0.5h1m-0.5 0h1m1.5 0h1m0.5 0h1m0.5 0h1m-0.5 0h1m1.5 0h1m0.5 0h1m-0.5 0h1m-11.5 0.5h1m2.5 0h1m2 0h1m0.5 0h1m0.5 0h1m-13 0.5h1m-0.5 0h1m0 0h1m1 0h1m0 0h1m1 0h1m-0.5 0h1m-0.5 0h1m0.5 0h1m2 0h1m4 0h1m-17 0.5h1m3.5 0h1m2.5 0h1m3 0h1m-21.5 0.5h1m4.5 0h1m0.5 0h1m7 0h1m1.5 0h1m-0.5 0h1m-11.5 0.5h1m1.5 0h1m2.5 0h1m0.5 0h1m-0.5 0h1m2.5 0h1m2 0h1m-23 0.5h1m1.5 0h1m5 0h1m9.5 0h1m0 0h1m-12 0.5h1m7 0h1m0 0h1m-15 0.5h1m5.5 0h1m4.5 0h1m-7 0.5h1m7.5 0h1m-13.5 0.5h1m11.5 0h1m1 0h1m1 0h1m-6.5 0.5h1m-4.5 0.5h1m-6 0.5h1m1 0h1m6.5 0h1m-5 0.5h1m4 0h1m1 0h1m-13 0.5h1m4.5 0h1m-0.5 0h1m5 0h1m-15.5 0.5h1m-1 0.5h1m4 0h1m-5.5 0.5h1m-0.5 0h1m6.5 0h1m8.5 0h1m-15 0.5h1m-1.5 0.5h1m-9 0.5h1m15.5 0h1m-8.5 1.5h1m6 0h1M0 0m105 533.3h1m1 0h1m0 0h1m-0.5 0h1m-2 0.5h1m0.5 0h1m-9.5 0.5h1m7.5 0h1m-0.5 0h1m0 0h1m-12.5 0.5h1m3 0h1m-4 0.5h1m4 0h1m2.5 0h1m0 0h1m0.5 0h1m-7.5 0.5h1m6 0h1m-12.5 0.5h1m0 0h1m2 0h1m-0.5 0h1m-0.5 0h1m2 0h1m0.5 0h1m-17 0.5h1m3.5 0h1m9.5 0h1m6 0h1m-16.5 0.5h1m4.5 0h1m1 0h1m-14.5 0.5h1m9 0h1m4 0h1m0 0h1m1 0h1m-6 0.5h1m1.5 0h1m-15 0.5h1m10 0h1m1.5 0h1m-0.5 0h1m0 0h1m-0.5 0h1m-16 0.5h1m1.5 0h1m-0.5 0h1m4.5 0h1m7 0h1m0 0h1m-14.5 0.5h1m1 0h1m-0.5 0h1m10 0h1m-24.5 0.5h1m14 0h1m4.5 0h1m2.5 0h1m-15 0.5h1m2 0h1m7 0h1m1 0h1m-24 0.5h1m11 0h1m0 0h1m2 0h1m-0.5 0h1m3 0h1m-11 0.5h1m3 0h1m6 0h1m0 0h1m1 0h1m-26 0.5h1m13.5 0h1m0.5 0h1m5.5 0h1m-7.5 0.5h1m2.5 0h1m0.5 0h1m1 0h1m0.5 0h1m-15 0.5h1m-0.5 0h1m-0.5 0h1m3 0h1m0 0h1m3 0h1m-7 0.5h1m0 0h1m2 0h1m0.5 0h1m0.5 0h1m0 0h1m-11.5 0.5h1m4 0h1m4.5 0h1m-25.5 0.5h1m18 0h1m1.5 0h1m2 0h1m-16.5 0.5h1m1 0h1m7.5 0h1m-0.5 0h1m2 0h1m-22 0.5h1m7 0h1m-0.5 0h1m1 0h1m4 0h1m-0.5 0h1m0.5 0h1m-7 0.5h1m-0.5 0h1m1.5 0h1m2.5 0h1m3.5 0h1m0.5 0h1m-17 0.5h1m2 0h1m0 0h1m1.5 0h1m2 0h1m-0.5 0h1m0 0h1m-13.5 0.5h1m0.5 0h1m1 0h1m-0.5 0h1m1.5 0h1m0.5 0h1m7 0h1m-8.5 0.5h1m0 0h1m3 0h1m-0.5 0h1m-0.5 0h1m-15 0.5h1m10.5 0h1m-20 0.5h1m24 0h1m0 0h1m-2.5 0.5h1m-20 0.5h1m5.5 0h1m-0.5 0h1m-0.5 0h1m0 0h1m4.5 0h1m-10 0.5h1m-0.5 0h1m-0.5 0h1m9.5 0h1m-20 0.5h1m5 0h1m5.5 0h1m10 0h1m-12 0.5h1m-14.5 0.5h1m10.5 0h1m0.5 0.5h1m-0.5 0h1m-17.5 0.5h1m19 0h1m6.5 0h1m-8.5 0.5h1m1 0h1m4 0h1m-10 0.5h1m5 0h1m-19.5 0.5h1m6.5 0h1m4.5 0h1m3.5 0h1m-13 0.5h1m4.5 0h1m-8 0.5h1m4.5 0h1m4.5 0h1m-15 0.5h1m12 0.5h1m3.5 0h1m-21.5 0.5h1m15.5 0h1m0 0h1m3 1h1m-19.5 0.5h1m4 0h1m2 0h1m-3 0.5h1m-11 0.5h1m6.5 0.5h1m10.5 0h1m-13.5 1h1m2.5 0.5h1m2.5 0h1m-7.5 0.5h1m9 0h1M0 0m28.5 599.2h1m3.5 0h1m-0.5 0h1m0 0h1m3.5 0h1m-16 0.5h1m2.5 0h1m9.5 0h1m-14.5 0.5h1m-0.5 0h1m6.5 0h1m5 0h1m-0.5 0h1m-17.5 0.5h1m0.5 0h1m0.5 0h1m2 0h1m3.5 0h1m4 0h1m1 0h1m-14 0.5h1m8 0h1m3.5 0h1m-10.5 0.5h1m0.5 0h1m1.5 0h1m1.5 0h1m-10 0.5h1m2 0h1m-0.5 0h1m3 0h1m-11.5 0.5h1m2.5 0h1m2 0h1m5.5 0h1m-14 0.5h1m3 0h1m6.5 0h1m-0.5 0h1m-0.5 0h1m0 0h1m-16.5 0.5h1m3.5 0h1m4.5 0h1m4 0h1m-18.5 0.5h1m10 0h1m0.5 0h1m1 0h1m-0.5 0h1m-0.5 0h1m-12 0.5h1m0 0h1m1.5 0h1m0.5 0h1m0 0h1m7 0h1m0.5 0h1m-18 0.5h1m3 0h1m6.5 0h1m1.5 0h1m3 0h1m-13 0.5h1m-0.5 0h1m4 0h1m-0.5 0h1m-0.5 0h1m-0.5 0h1m-6 0.5h1m0.5 0h1m0.5 0h1m3.5 0h1m1 0h1m0.5 0h1m-17.5 0.5h1m2.5 0h1m0.5 0h1m-0.5 0h1m1.5 0h1m0 0h1m1.5 0h1m-0.5 0h1m3 0h1m-18 0.5h1m3.5 0h1m1 0h1m0.5 0h1m-0.5 0h1m-0.5 0h1m0.5 0h1m-0.5 0h1m0 0h1m1.5 0h1m-0.5 0h1m-14 0.5h1m4 0h1m0.5 0h1m-0.5 0h1m-0.5 0h1m-0.5 0h1m0 0h1m0 0h1m1 0h1m-15.5 0.5h1m3 0h1m1.5 0h1m-0.5 0h1m0.5 0h1m0.5 0h1m-0.5 0h1m0.5 0h1m1.5 0h1m-21 0.5h1m2 0h1m6 0h1m6.5 0h1m2 0h1m0 0h1m-17 0.5h1m1.5 0h1m1.5 0h1m0 0h1m4 0h1m0 0h1m0.5 0h1m-0.5 0h1m-0.5 0h1m3 0h1m1.5 0h1m-16 0.5h1m-0.5 0h1m-0.5 0h1m1.5 0h1m-0.5 0h1m4.5 0h1m-20 0.5h1m-0.5 0h1m4 0h1m2.5 0h1m4 0h1m2 0h1m1 0h1m-23 0.5h1m3 0h1m1 0h1m0 0h1m0 0h1m2 0h1m1.5 0h1m0 0h1m1.5 0h1m-13.5 0.5h1m2.5 0h1m1 0h1m-0.5 0h1m0 0h1m0.5 0h1m-0.5 0h1m-0.5 0h1m2.5 0h1m1 0h1m1.5 0h1m1.5 0h1m-17.5 0.5h1m2.5 0h1m5 0h1m0.5 0h1m1.5 0h1m-0.5 0h1m1.5 0h1m-22.5 0.5h1m1.5 0h1m-0.5 0h1m4 0h1m0 0h1m3 0h1m-0.5 0h1m0 0h1m0 0h1m1.5 0h1m-16 0.5h1m2 0h1m-0.5 0h1m-0.5 0h1m1 0h1m3 0h1m1.5 0h1m2.5 0h1m1 0h1m-19.5 0.5h1m-0.5 0h1m3 0h1m1.5 0h1m-0.5 0h1m0 0h1m-0.5 0h1m-0.5 0h1m0.5 0h1m2 0h1m3 0h1m-20.5 0.5h1m3 0h1m-0.5 0h1m1 0h1m0 0h1m-0.5 0h1m-0.5 0h1m-0.5 0h1m2.5 0h1m0.5 0h1m1 0h1m0 0h1m1.5 0h1m-15.5 0.5h1m0 0h1m0 0h1m-0.5 0h1m3.5 0h1m0 0h1m0 0h1m-0.5 0h1m-0.5 0h1m4 0h1m0 0h1m-23.5 0.5h1m0 0h1m5 0h1m0 0h1m1 0h1m0.5 0h1m-0.5 0h1m1 0h1m0 0h1m0.5 0h1m-0.5 0h1m-15 0.5h1m4.5 0h1m4 0h1m-0.5 0h1m0 0h1m-0.5 0h1m2.5 0h1m1.5 0h1m-16.5 0.5h1m0 0h1m2 0h1m-0.5 0h1m0 0h1m0 0h1m-0.5 0h1m-0.5 0h1m0.5 0h1m0 0h1m-19.5 0.5h1m9.5 0h1m0.5 0h1m0 0h1m-0.5 0h1m1 0h1m1.5 0h1m-0.5 0h1m4.5 0h1m-0.5 0h1m-19.5 0.5h1m10.5 0h1m0 0h1m-0.5 0h1m0.5 0h1m1.5 0h1m1 0h1m-21.5 0.5h1m-0.5 0h1m0 0h1m3 0h1m0 0h1m1 0h1m-0.5 0h1m0.5 0h1m0.5 0h1m0.5 0h1m0 0h1m0.5 0h1m-14 0.5h1m2 0h1m1 0h1m0.5 0h1m4.5 0h1m-0.5 0h1m1 0h1m-24.5 0.5h1m8 0h1m1.5 0h1m1 0h1m3.5 0h1m0.5 0h1m1 0h1m-11.5 0.5h1m3 0h1m6.5 0h1m2 0h1m1.5 0h1m-18.5 0.5h1m5.5 0h1m8 0h1m-27 0.5h1m9 0h1m-0.5 0h1m-0.5 0h1m-0.5 0h1m5.5 0h1m2 0h1m0 0h1m1 0h1m1 0h1m-19.5 0.5h1m16 0h1m-15.5 0.5h1m0.5 0h1m1.5 0h1m-0.5 0h1m-4.5 0.5h1m-0.5 0h1m15 0h1m-17.5 0.5h1m-2.5 0.5h1m8.5 0h1m0 0h1m0 0h1m-14.5 0.5h1m10 0h1m-4.5 0.5h1m12 0h1m-18.5 1h1m6 0h1m-1.5 0.5h1m-6 1.5h1m7.5 0h1m3.5 0h1m-15 0.5h1m8.5 0h1m-12.5 0.5h1m2.5 1h1m2.5 0.5h1m7.5 0h1m-16.5 1.5h1m8 0h1M0 0m97.5 599.7h1m-0.5 0h1m6 0h1m0 0h1m4.5 0h1m0.5 0h1m-17 0.5h1m0.5 0.5h1m2.5 0h1m3.5 0h1m5.5 0h1m-25 0.5h1m11 0h1m6 0h1m-3 0.5h1m-13 0.5h1m5 0h1m0 0h1m1 0h1m7.5 0h1m-0.5 0.5h1m-17 0.5h1m-0.5 0h1m2 0h1m7 0h1m3 0h1m-21 0.5h1m14.5 0h1m-9 0.5h1m4 0h1m2 0h1m2 0h1m-9 0.5h1m0.5 0h1m2 0h1m1.5 0h1m-0.5 0h1m1 0h1m-9 0.5h1m0.5 0h1m-0.5 0h1m4.5 0h1m-19.5 0.5h1m7 0h1m4 0h1m1.5 0h1m-10.5 0.5h1m2 0h1m0 0h1m0.5 0h1m1 0h1m1 0h1m-0.5 0h1m-9.5 0.5h1m3.5 0h1m2 0h1m-16 0.5h1m5.5 0h1m2.5 0h1m0.5 0h1m-1 0.5h1m0.5 0h1m2.5 0h1m-10.5 0.5h1m4 0h1m8 0h1m-4.5 0.5h1m-6.5 0.5h1m1.5 0h1m4.5 0h1m1 0h1m-15 0.5h1m2 0h1m0 0h1m-0.5 0h1m2.5 0h1m3 0h1m0 0h1m-18.5 0.5h1m1 0h1m2.5 0h1m-0.5 0h1m1.5 0h1m2.5 0h1m0.5 0h1m-0.5 0h1m-9 0.5h1m0 0h1m6.5 0h1m0 0h1m0.5 0h1m-8.5 0.5h1m2 0h1m1.5 0h1m2.5 0h1m-7.5 0.5h1m0 0h1m2.5 0h1m-22.5 0.5h1m5 0h1m7 0h1m-0.5 0h1m0 0h1m-12.5 0.5h1m9.5 0h1m5 0h1m0.5 0h1m-8.5 0.5h1m2.5 0h1m0 0h1m-14.5 0.5h1m0.5 0h1m7.5 0h1m-0.5 0h1m1 0h1m1 0h1m-14.5 0.5h1m7.5 0h1m1.5 0h1m0 0h1m-0.5 0h1m0 0h1m-1.5 0.5h1m-12.5 0.5h1m2.5 0h1m0 0h1m2 0h1m3 0h1m0.5 0h1m-12.5 0.5h1m2 0h1m0 0h1m-0.5 0h1m1.5 0h1m3.5 0h1m0.5 0h1m-15 0.5h1m-0.5 0h1m1.5 0h1m-0.5 0h1m2 0h1m-0.5 0h1m2 0h1m-0.5 0h1m-15.5 0.5h1m1.5 0h1m8 0h1m1.5 0h1m-12 0.5h1m4.5 0h1m4 0h1m-0.5 0h1m-9 0.5h1m5 0h1m-0.5 0h1m-10.5 0.5h1m0 0h1m5 0h1m3.5 0h1m-0.5 0h1m-0.5 0h1m-14.5 0.5h1m5.5 0h1m-9.5 0.5h1m6 0h1m2.5 0h1m0 0h1m-0.5 0h1m-14 0.5h1m6 0h1m2.5 0h1m1 0h1m2.5 0h1m-12.5 0.5h1m5.5 0h1m-0.5 0h1m6 0h1m-19.5 0.5h1m11 0h1m4.5 0h1m-12 0.5h1m6 0h1m-4.5 0.5h1m3 0h1m-0.5 0h1m2.5 0h1m-0.5 0h1m-10 0.5h1m0 0h1m-15 0.5h1m14 0h1m-4 0.5h1m6.5 0h1m-0.5 0h1m-14 1h1m10 0h1m-12 0.5h1m5.5 0.5h1m6.5 0.5h1m-8.5 0.5h1m-11.5 0.5h1m14.5 0h1m1 0h1m-2.5 0.5h1m-11.5 0.5h1m5.5 0h1m-1.5 1h1m-18 1.5h1m10 0h1M0 0m23.5 665.1h1m3.5 0h1m1 0h1m5 0h1m0.5 0.5h1m-0.5 0h1m-0.5 0h1m-12 1h1m0 0h1m8 0h1m-12 0.5h1m0.5 0.5h1m0 0h1m1.5 0h1m2 0h1m0 0h1m-0.5 0h1m7 0h1m-22.5 0.5h1m2.5 0h1m6.5 0h1m-0.5 0h1m-0.5 0h1m-0.5 0h1m2.5 0h1m-21.5 0.5h1m4.5 0h1m0 0h1m2 0h1m0.5 0h1m1 0h1m-0.5 0h1m1.5 0h1m2 0h1m0.5 0h1m-20 0.5h1m11.5 0h1m-0.5 0h1m1 0h1m-0.5 0h1m-0.5 0h1m2.5 0h1m-11.5 0.5h1m0 0h1m2 0h1m2.5 0h1m0 0h1m0.5 0h1m-12.5 0.5h1m3.5 0h1m-0.5 0h1m-0.5 0h1m-0.5 0h1m-0.5 0h1m7 0h1m-19 0.5h1m1.5 0h1m3 0h1m3 0h1m0.5 0h1m1.5 0h1m-0.5 0h1m-12.5 0.5h1m1 0h1m7 0h1m-0.5 0h1m2 0h1m-16.5 0.5h1m-0.5 0h1m0.5 0h1m0 0h1m3.5 0h1m-0.5 0h1m2 0h1m1 0h1m2.5 0h1m-20.5 0.5h1m0 0h1m10 0h1m6.5 0h1m-20 0.5h1m4 0h1m1 0h1m0 0h1m1 0h1m-0.5 0h1m2.5 0h1m1 0h1m0.5 0h1m-0.5 0h1m-11 0.5h1m0.5 0h1m1 0h1m-0.5 0h1m-0.5 0h1m0 0h1m0.5 0h1m2 0h1m2.5 0h1m-15 0.5h1m0 0h1m3 0h1m-0.5 0h1m-0.5 0h1m-0.5 0h1m0 0h1m-10 0.5h1m1 0h1m0.5 0h1m4 0h1m-0.5 0h1m3.5 0h1m0 0h1m8 0h1m-21 0.5h1m0.5 0h1m3 0h1m-0.5 0h1m3 0h1m0.5 0h1m-26 0.5h1m5 0h1m2 0h1m-0.5 0h1m0 0h1m3 0h1m-0.5 0h1m0 0h1m-0.5 0h1m1.5 0h1m-15 0.5h1m2.5 0h1m1 0h1m2.5 0h1m0 0h1m-0.5 0h1m1 0h1m-0.5 0h1m1.5 0h1m1 0h1m-20 0.5h1m2 0h1m1.5 0h1m0 0h1m0.5 0h1m3.5 0h1m0 0h1m-0.5 0h1m-0.5 0h1m-0.5 0h1m1 0h1m-0.5 0h1m0.5 0h1m1.5 0h1m-16.5 0.5h1m-0.5 0h1m0.5 0h1m-0.5 0h1m0 0h1m0 0h1m0.5 0h1m-0.5 0h1m0 0h1m0.5 0h1m-0.5 0h1m-0.5 0h1m-0.5 0h1m1.5 0h1m0.5 0h1m-19 0.5h1m2.5 0h1m3 0h1m0 0h1m5 0h1m5 0h1m-23.5 0.5h1m2.5 0h1m3 0h1m-0.5 0h1m1 0h1m-0.5 0h1m0 0h1m-0.5 0h1m2 0h1m1 0h1m1 0h1m0.5 0h1m1 0h1m-23.5 0.5h1m2.5 0h1m3.5 0h1m-0.5 0h1m1 0h1m1 0h1m-0.5 0h1m0.5 0h1m-21 0.5h1m6 0h1m4 0h1m1.5 0h1m4.5 0h1m-0.5 0h1m2.5 0h1m-0.5 0h1m2 0h1m-24 0.5h1m2 0h1m8 0h1m1.5 0h1m0 0h1m1.5 0h1m2.5 0h1m-24 0.5h1m0.5 0h1m1.5 0h1m-0.5 0h1m1 0h1m3.5 0h1m0.5 0h1m3 0h1m-14.5 0.5h1m1.5 0h1m9.5 0h1m0 0h1m1 0h1m1.5 0h1m-11.5 0.5h1m4 0h1m0 0h1m3.5 0h1m0.5 0h1m-12.5 0.5h1m2.5 0h1m-0.5 0h1m-0.5 0h1m1 0h1m4 0h1m-26.5 0.5h1m1.5 0h1m0 0h1m7 0h1m0.5 0h1m2.5 0h1m0 0h1m-0.5 0h1m5 0h1m0 0h1m1.5 0h1m-25 0.5h1m2 0h1m2 0h1m2 0h1m3 0h1m-0.5 0h1m1 0h1m0 0h1m1.5 0h1m-0.5 0h1m-22.5 0.5h1m0.5 0h1m5.5 0h1m3 0h1m2 0h1m2.5 0h1m-11 0.5h1m10 0h1m-17 0.5h1m2.5 0h1m1.5 0h1m0.5 0h1m2 0h1m0.5 0h1m2 0h1m4 0h1m-19 0.5h1m0.5 0h1m1 0h1m4.5 0h1m3.5 0h1m0 0h1m-0.5 0h1m-9.5 0.5h1m6 0h1m0 0h1m-12 0.5h1m-0.5 0h1m4 0h1m-0.5 0h1m2 0h1m-7 0.5h1m-0.5 0h1m0.5 0h1m3.5 0h1m2 0h1m-20 0.5h1m4.5 0h1m0 0h1m0 0h1m0 0h1m1.5 0h1m0.5 0h1m4.5 0h1m0 0h1m-16.5 0.5h1m5.5 0h1m1 0h1m1 0h1m0.5 0h1m-8.5 0.5h1m0 0h1m-0.5 0h1m0.5 0h1m0 0h1m-0.5 0h1m1 0h1m6 0h1m-14.5 0.5h1m8 0h1m0.5 0h1m2.5 0h1m-0.5 0h1m0 0h1m-19.5 0.5h1m3.5 0h1m2 0h1m5 0h1m-8 0.5h1m3 0h1m-2 0.5h1m-6 0.5h1m2 0h1m4 0h1m-13 0.5h1m1 1h1m4.5 0h1m-7.5 1h1m3.5 0h1m-10.5 1h1m7 0h1m-8.5 1.5h1m4 0h1m6 0h1M0 0m90.5 665.1h1m4.5 0h1m1 0h1m11.5 0h1m-15.5 0.5h1m12 0h1m-6.5 0.5h1m6 0h1m4 0h1m-21 0.5h1m11.5 0h1m-11.5 0.5h1m3.5 0h1m-0.5 0h1m2.5 0h1m8 0h1m-11 0.5h1m1 0h1m-0.5 0h1m0.5 0h1m2.5 0h1m-17 0.5h1m8 0h1m6.5 0h1m0.5 0h1m-16.5 0.5h1m0 0h1m6.5 0h1m1 0h1m0 0h1m3.5 0h1m-29 1h1m21.5 0h1m-14 0.5h1m5.5 0h1m-9.5 0.5h1m6 0h1m8 0h1m-9 0.5h1m0 0h1m0 0h1m2 0h1m3.5 0h1m-10 0.5h1m2.5 0h1m0 0h1m-18.5 0.5h1m14 0h1m-5 0.5h1m0.5 0h1m1 0h1m-0.5 0h1m1.5 0h1m1 0h1m-0.5 0h1m1.5 0h1m-16 0.5h1m0 0h1m7.5 0h1m6.5 0h1m-15.5 0.5h1m2.5 0h1m0 0h1m2.5 0h1m-15 0.5h1m0 0h1m0 0h1m3 0h1m0 0h1m0 0h1m0.5 0h1m-0.5 0h1m4.5 0h1m-2.5 0.5h1m0 0h1m-0.5 0h1m2 0h1m-18.5 0.5h1m2 0h1m8 0h1m-19.5 0.5h1m16 0h1m-0.5 0h1m-0.5 0h1m3 0h1m0.5 0h1m-16 0.5h1m-0.5 0h1m0 0h1m5.5 0h1m1 0h1m-0.5 0h1m-11.5 0.5h1m2.5 0h1m2.5 0h1m-0.5 0h1m2 0h1m-0.5 0h1m0 0h1m1 0h1m-0.5 0h1m-9.5 0.5h1m0 0h1m4 0h1m-17.5 0.5h1m2.5 0h1m7 0h1m0 0h1m1 0h1m1.5 0h1m-0.5 0h1m1 0h1m1 0h1m-18 0.5h1m2 0h1m4.5 0h1m2 0h1m2.5 0h1m0 0h1m-18 0.5h1m3 0h1m6 0h1m-4 0.5h1m2 0h1m0 0h1m0.5 0h1m2 0h1m-20 0.5h1m3 0h1m2 0h1m-0.5 0h1m-0.5 0h1m1.5 0h1m0 0h1m2 0h1m1 0h1m1 0h1m-11.5 0.5h1m0.5 0h1m0.5 0h1m3 0h1m-13 0.5h1m3.5 0h1m-12 0.5h1m2.5 0h1m6 0h1m2.5 0h1m1.5 0h1m0 0.5h1m-0.5 0h1m-0.5 0h1m-17.5 0.5h1m9.5 0h1m1.5 0h1m6 0.5h1m-1 0.5h1m-9.5 0.5h1m-0.5 0h1m4.5 0h1m5 0h1m-13.5 0.5h1m9 0h1m-12.5 0.5h1m7 0h1m0.5 0h1m-0.5 0h1m-13 0.5h1m2.5 0h1m5 0h1m-0.5 0h1m4.5 0h1m-17.5 0.5h1m3.5 0h1m1 0h1m-4 0.5h1m10.5 0h1m-7 0.5h1m3 0.5h1m0.5 0h1m-14 0.5h1m9.5 0h1m-0.5 0.5h1m-7.5 0.5h1m-0.5 0h1m4.5 0h1m-17 0.5h1m0.5 0h1m4 0.5h1m12 0h1m-6 1h1m3 0h1m1.5 0h1m-8.5 0.5h1m-5 0.5h1m-4.5 0.5h1m1.5 0.5h1m-13.5 1h1m14 0h1m-1.5 0.5h1M0 0m36.5 730.9h1m1.5 0h1m-3.5 0.5h1m-6.5 0.5h1m9 0h1m-0.5 0h1m0.5 0h1m0 0h1m-25.5 0.5h1m3.5 0h1m1 0h1m4 0h1m-0.5 0h1m1 0h1m0.5 0h1m-6 0.5h1m4 0h1m1.5 0h1m1.5 0h1m0 0h1m1 0h1m-18.5 0.5h1m12 0h1m4 0h1m-8.5 0.5h1m5.5 0h1m-14 0.5h1m1.5 0h1m2.5 0h1m2 0h1m4.5 0h1m-20 0.5h1m4 0h1m5 0h1m0.5 0h1m0 0h1m3 0h1m-17 0.5h1m0.5 0h1m6.5 0h1m1 0h1m2 0h1m-12.5 0.5h1m4.5 0h1m0 0h1m2.5 0h1m1.5 0h1m0 0h1m-19 0.5h1m1 0h1m0 0h1m3 0h1m3 0h1m0.5 0h1m-7 0.5h1m-0.5 0h1m0.5 0h1m0 0h1m0 0h1m1 0h1m5.5 0h1m-25 0.5h1m3 0h1m1 0h1m4 0h1m0.5 0h1m0 0h1m0.5 0h1m-0.5 0h1m1.5 0h1m-0.5 0h1m-21.5 0.5h1m6.5 0h1m1 0h1m-0.5 0h1m-0.5 0h1m2 0h1m-0.5 0h1m3.5 0h1m1 0h1m-0.5 0h1m1 0h1m-0.5 0h1m2.5 0h1m-19 0.5h1m0.5 0h1m1 0h1m-0.5 0h1m1 0h1m-0.5 0h1m0 0h1m0.5 0h1m5.5 0h1m-20 0.5h1m2 0h1m1 0h1m-0.5 0h1m2 0h1m0.5 0h1m0 0h1m9 0h1m-22 0.5h1m4 0h1m0 0h1m2.5 0h1m0 0h1m0 0h1m1.5 0h1m4.5 0h1m-24.5 0.5h1m2 0h1m4 0h1m-0.5 0h1m4.5 0h1m4 0h1m-0.5 0h1m-9 0.5h1m-0.5 0h1m1 0h1m0.5 0h1m0 0h1m-0.5 0h1m-0.5 0h1m-0.5 0h1m0 0h1m1 0h1m1.5 0h1m-0.5 0h1m-22.5 0.5h1m3.5 0h1m0 0h1m2 0h1m-0.5 0h1m1 0h1m1 0h1m0.5 0h1m0 0h1m0.5 0h1m4.5 0h1m-15.5 0.5h1m3.5 0h1m-0.5 0h1m-0.5 0h1m0 0h1m0 0h1m0 0h1m-0.5 0h1m1 0h1m-17.5 0.5h1m0 0h1m1 0h1m3 0h1m0 0h1m1 0h1m-0.5 0h1m1 0h1m0 0h1m3.5 0h1m0 0h1m0 0h1m0.5 0h1m-17 0.5h1m0.5 0h1m0.5 0h1m0 0h1m-0.5 0h1m-0.5 0h1m0 0h1m1.5 0h1m0 0h1m-10.5 0.5h1m0.5 0h1m0 0h1m1 0h1m-0.5 0h1m2.5 0h1m-17 0.5h1m2.5 0h1m3.5 0h1m2.5 0h1m1.5 0h1m1 0h1m2.5 0h1m-19 0.5h1m6 0h1m-0.5 0h1m2.5 0h1m0.5 0h1m1 0h1m-13 0.5h1m5 0h1m0 0h1m0 0h1m0 0h1m1 0h1m-0.5 0h1m0.5 0h1m-18 0.5h1m1.5 0h1m2 0h1m0.5 0h1m-0.5 0h1m-0.5 0h1m-0.5 0h1m1 0h1m0 0h1m0.5 0h1m-0.5 0h1m-0.5 0h1m-0.5 0h1m-17 0.5h1m-0.5 0h1m6.5 0h1m4 0h1m-0.5 0h1m3 0h1m-0.5 0h1m2.5 0h1m-18.5 0.5h1m0 0h1m1 0h1m0 0h1m-0.5 0h1m1.5 0h1m0 0h1m-0.5 0h1m-0.5 0h1m0 0h1m-0.5 0h1m0.5 0h1m1.5 0h1m0 0h1m0.5 0h1m-13.5 0.5h1m0.5 0h1m2 0h1m-0.5 0h1m-0.5 0h1m3.5 0h1m-0.5 0h1m-15.5 0.5h1m0.5 0h1m0.5 0h1m0.5 0h1m0 0h1m1 0h1m-8.5 0.5h1m5.5 0h1m-0.5 0h1m1.5 0h1m2 0h1m0 0h1m0.5 0h1m1 0h1m-13 0.5h1m3.5 0h1m1.5 0h1m-0.5 0h1m0 0h1m0 0h1m1 0h1m-0.5 0h1m-17.5 0.5h1m0 0h1m0 0h1m2 0h1m2 0h1m4 0h1m-13.5 0.5h1m6 0h1m-0.5 0h1m0 0h1m0 0h1m0.5 0h1m7 0h1m-18.5 0.5h1m2 0h1m-0.5 0h1m1.5 0h1m0 0h1m2 0h1m0 0h1m1 0h1m2 0h1m-20 0.5h1m3.5 0h1m1 0h1m-0.5 0h1m-0.5 0h1m-0.5 0h1m3 0h1m1.5 0h1m0 0h1m-18.5 0.5h1m0 0h1m4 0h1m2 0h1m-0.5 0h1m3.5 0h1m1.5 0h1m-13.5 0.5h1m5.5 0h1m2.5 0h1m-7.5 0.5h1m-0.5 0h1m-0.5 0h1m9 0h1m-20.5 0.5h1m4.5 0h1m0.5 0h1m1 0h1m1.5 0h1m0 0h1m-0.5 0h1m0.5 0h1m0.5 0h1m2.5 0h1m-13 0.5h1m0.5 0h1m6 0h1m-9 0.5h1m1 0h1m0 0h1m-5.5 0.5h1m1 0h1m1.5 0h1m0 0h1m-0.5 0h1m-0.5 0h1m2.5 0h1m-16 0.5h1m4.5 0h1m0 0h1m3 0h1m0.5 0h1m9 0h1m-26 0.5h1m8.5 0h1m3 0h1m6.5 0h1m-9 0.5h1m-0.5 0h1m-0.5 0h1m-16 0.5h1m3.5 0h1m6.5 0h1m0.5 0h1m2 0h1m-3 0.5h1m-0.5 0h1m-10.5 1h1m4.5 0h1m-0.5 0h1m2.5 0h1m-1 0.5h1m3 0.5h1m-6 0.5h1m-3 0.5h1m5 1h1m2 0h1m-4.5 1h1m-9 0.5h1M0 0m105 730.9h1m1.5 0h1m0.5 0h1m-9 0.5h1m3.5 0h1m1 0h1m1 0h1m-23 0.5h1m11.5 0h1m5 0.5h1m-0.5 0h1m-5 0.5h1m1.5 0h1m5.5 0h1m-10.5 0.5h1m4.5 0h1m0.5 0h1m-16.5 0.5h1m10 0h1m5 0h1m-19.5 0.5h1m4 0h1m6 0h1m-10.5 0.5h1m8.5 0h1m0 0h1m2.5 0h1m-15.5 0.5h1m5 0h1m5 0h1m0 0h1m0.5 0h1m6 0h1m-21 0.5h1m4.5 0h1m2 0h1m0 0h1m0 0h1m0 0h1m-11.5 0.5h1m1.5 0h1m2.5 0h1m5.5 0h1m-11.5 0.5h1m2.5 0h1m2.5 0h1m0 0h1m0 0h1m4.5 0h1m-6 0.5h1m2 0h1m-9.5 0.5h1m0.5 0h1m0 0h1m1 0h1m-0.5 0h1m-12 0.5h1m4 0h1m4 0h1m2 0h1m0 0h1m2 0h1m-19 0.5h1m5 0h1m1 0h1m2.5 0h1m0.5 0h1m-0.5 0h1m0 0h1m-13.5 0.5h1m0 0h1m3 0h1m0 0h1m2.5 0h1m-0.5 0h1m0 0h1m0 0h1m-7 0.5h1m3 0h1m0.5 0h1m1.5 0h1m-22 0.5h1m10.5 0h1m4.5 0h1m7 0h1m-23 0.5h1m6 0h1m4 0h1m0 0h1m0 0h1m2 0h1m-14 0.5h1m2 0h1m0 0h1m0.5 0h1m-0.5 0h1m1 0h1m5.5 0h1m-3.5 0.5h1m-13.5 0.5h1m5.5 0h1m2 0h1m4.5 0h1m-0.5 0h1m-21 0.5h1m11.5 0h1m1.5 0h1m1 0h1m-11 0.5h1m0 0h1m6 0h1m1 0h1m2.5 0h1m-13.5 0.5h1m2 0h1m0.5 0h1m2 0h1m-0.5 0h1m-13 0.5h1m4.5 0h1m-0.5 0h1m1.5 0h1m6 0h1m0.5 0h1m-0.5 0h1m-6.5 0.5h1m0 0h1m0.5 0h1m1 0h1m-8 0.5h1m1 0h1m2 0h1m0.5 0h1m-19.5 0.5h1m2.5 0h1m4 0h1m1 0h1m1 0h1m-5 0.5h1m4 0h1m-0.5 0h1m-9 0.5h1m4 0h1m4 0h1m2 0h1m-13.5 0.5h1m2 0h1m0.5 0h1m-15 0.5h1m5.5 0h1m7 0h1m0 0h1m-0.5 0h1m1 0h1m1.5 0h1m-16.5 0.5h1m1.5 0h1m-0.5 0h1m-0.5 0h1m6.5 0h1m0 0.5h1m-7.5 0.5h1m4 0h1m-0.5 0h1m2 0h1m-17.5 0.5h1m11.5 0h1m0 0h1m-16 0.5h1m6 0h1m2.5 0h1m6.5 0h1m1.5 0h1m-0.5 0h1m-11 0.5h1m7 0.5h1m-15.5 0.5h1m5.5 0h1m-0.5 0h1m4 0h1m-11 0.5h1m9.5 0h1m-7.5 0.5h1m4 0h1m-6 0.5h1m11.5 0h1m-24.5 0.5h1m10.5 0h1m2.5 0h1m-18.5 0.5h1m24 0h1m-15.5 0.5h1m5 0h1m-0.5 1.5h1m1.5 0h1m-1.5 0.5h1m1 0h1m-9 0.5h1m-2.5 0.5h1m6.5 0.5h1m1.5 0h1m0 0.5h1m-17 0.5h1m1 0h1m9 0.5h1m-11 0.5h1" stroke="#000" stroke-width="1" stroke-opacity="0.6" fill="none"/>
</svg>
</body></html>
